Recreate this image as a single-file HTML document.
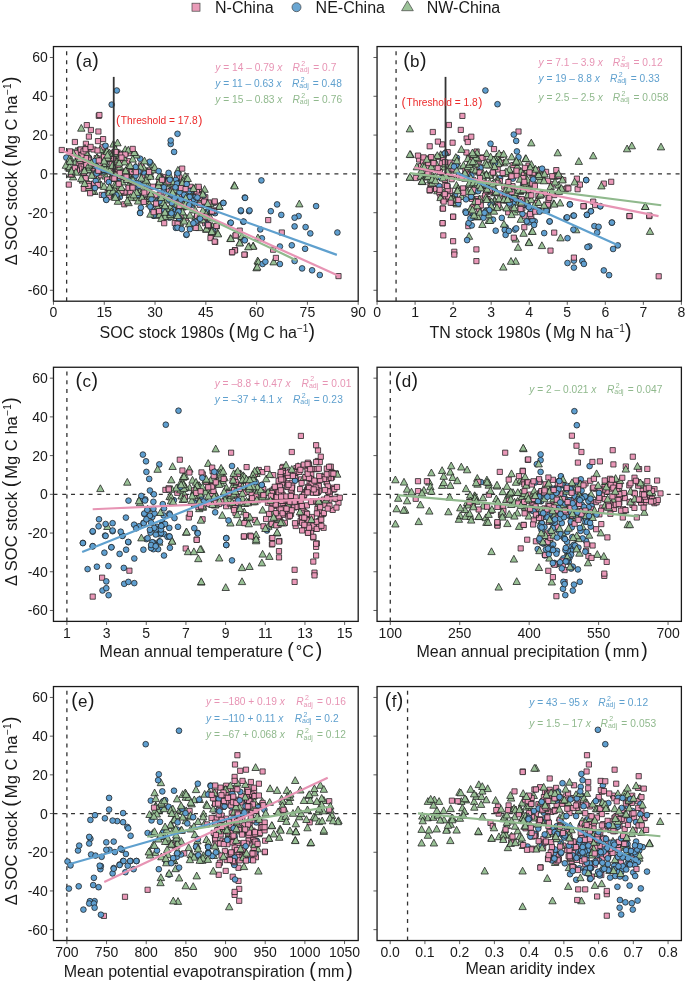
<!DOCTYPE html><html><head><meta charset="utf-8"><style>
html,body{margin:0;padding:0;background:#fff;width:685px;height:981px;overflow:hidden}
svg{display:block;will-change:transform}
text{font-family:"Liberation Sans", sans-serif;}
.tk{font-size:14px;fill:#1a1a1a}
.at{font-size:16px;fill:#1a1a1a}
.lg{font-size:16px;fill:#1a1a1a}
.pl{font-size:17px;fill:#1a1a1a}
.eq{font-size:10.2px}
.th{font-size:10.2px;fill:#EC2B2B}
.mp{fill:#EA98B8;stroke:#1e1e1e;stroke-width:0.75}
.mb{fill:#5F9FD0;stroke:#1e1e1e;stroke-width:0.75}
.mg{fill:#98C095;stroke:#1e1e1e;stroke-width:0.75}
</style></head><body><svg width="685" height="981" viewBox="0 0 685 981">
<rect x="53.46" y="46.57" width="304.73" height="254.63" fill="none" stroke="#1a1a1a" stroke-width="1.3"/>
<line x1="49.86" y1="290.29" x2="53.46" y2="290.29" stroke="#333" stroke-width="0.8"/>
<text x="47.9" y="295.29" text-anchor="end" class="tk">-60</text>
<line x1="49.86" y1="251.49" x2="53.46" y2="251.49" stroke="#333" stroke-width="0.8"/>
<text x="47.9" y="256.49" text-anchor="end" class="tk">-40</text>
<line x1="49.86" y1="212.69" x2="53.46" y2="212.69" stroke="#333" stroke-width="0.8"/>
<text x="47.9" y="217.69" text-anchor="end" class="tk">-20</text>
<line x1="49.86" y1="173.89" x2="53.46" y2="173.89" stroke="#333" stroke-width="0.8"/>
<text x="47.9" y="178.89" text-anchor="end" class="tk">0</text>
<line x1="49.86" y1="135.09" x2="53.46" y2="135.09" stroke="#333" stroke-width="0.8"/>
<text x="47.9" y="140.09" text-anchor="end" class="tk">20</text>
<line x1="49.86" y1="96.29" x2="53.46" y2="96.29" stroke="#333" stroke-width="0.8"/>
<text x="47.9" y="101.29" text-anchor="end" class="tk">40</text>
<line x1="49.86" y1="57.49" x2="53.46" y2="57.49" stroke="#333" stroke-width="0.8"/>
<text x="47.9" y="62.49" text-anchor="end" class="tk">60</text>
<line x1="53.46" y1="301.2" x2="53.46" y2="304.80" stroke="#333" stroke-width="0.8"/>
<text x="53.46" y="317.40" text-anchor="middle" class="tk">0</text>
<line x1="104.25" y1="301.2" x2="104.25" y2="304.80" stroke="#333" stroke-width="0.8"/>
<text x="104.25" y="317.40" text-anchor="middle" class="tk">15</text>
<line x1="155.04" y1="301.2" x2="155.04" y2="304.80" stroke="#333" stroke-width="0.8"/>
<text x="155.04" y="317.40" text-anchor="middle" class="tk">30</text>
<line x1="205.83" y1="301.2" x2="205.83" y2="304.80" stroke="#333" stroke-width="0.8"/>
<text x="205.83" y="317.40" text-anchor="middle" class="tk">45</text>
<line x1="256.61" y1="301.2" x2="256.61" y2="304.80" stroke="#333" stroke-width="0.8"/>
<text x="256.61" y="317.40" text-anchor="middle" class="tk">60</text>
<line x1="307.40" y1="301.2" x2="307.40" y2="304.80" stroke="#333" stroke-width="0.8"/>
<text x="307.40" y="317.40" text-anchor="middle" class="tk">75</text>
<line x1="358.19" y1="301.2" x2="358.19" y2="304.80" stroke="#333" stroke-width="0.8"/>
<text x="358.19" y="317.40" text-anchor="middle" class="tk">90</text>
<line x1="53.46" y1="173.89" x2="358.19" y2="173.89" stroke="#333" stroke-width="1.3" stroke-dasharray="4 4.78"/>
<rect x="377.05" y="46.57" width="304.34" height="254.63" fill="none" stroke="#1a1a1a" stroke-width="1.3"/>
<line x1="373.45" y1="290.29" x2="377.05" y2="290.29" stroke="#333" stroke-width="0.8"/>
<line x1="373.45" y1="251.49" x2="377.05" y2="251.49" stroke="#333" stroke-width="0.8"/>
<line x1="373.45" y1="212.69" x2="377.05" y2="212.69" stroke="#333" stroke-width="0.8"/>
<line x1="373.45" y1="173.89" x2="377.05" y2="173.89" stroke="#333" stroke-width="0.8"/>
<line x1="373.45" y1="135.09" x2="377.05" y2="135.09" stroke="#333" stroke-width="0.8"/>
<line x1="373.45" y1="96.29" x2="377.05" y2="96.29" stroke="#333" stroke-width="0.8"/>
<line x1="373.45" y1="57.49" x2="377.05" y2="57.49" stroke="#333" stroke-width="0.8"/>
<line x1="377.05" y1="301.2" x2="377.05" y2="304.80" stroke="#333" stroke-width="0.8"/>
<text x="377.05" y="317.40" text-anchor="middle" class="tk">0</text>
<line x1="415.09" y1="301.2" x2="415.09" y2="304.80" stroke="#333" stroke-width="0.8"/>
<text x="415.09" y="317.40" text-anchor="middle" class="tk">1</text>
<line x1="453.13" y1="301.2" x2="453.13" y2="304.80" stroke="#333" stroke-width="0.8"/>
<text x="453.13" y="317.40" text-anchor="middle" class="tk">2</text>
<line x1="491.18" y1="301.2" x2="491.18" y2="304.80" stroke="#333" stroke-width="0.8"/>
<text x="491.18" y="317.40" text-anchor="middle" class="tk">3</text>
<line x1="529.22" y1="301.2" x2="529.22" y2="304.80" stroke="#333" stroke-width="0.8"/>
<text x="529.22" y="317.40" text-anchor="middle" class="tk">4</text>
<line x1="567.26" y1="301.2" x2="567.26" y2="304.80" stroke="#333" stroke-width="0.8"/>
<text x="567.26" y="317.40" text-anchor="middle" class="tk">5</text>
<line x1="605.31" y1="301.2" x2="605.31" y2="304.80" stroke="#333" stroke-width="0.8"/>
<text x="605.31" y="317.40" text-anchor="middle" class="tk">6</text>
<line x1="643.35" y1="301.2" x2="643.35" y2="304.80" stroke="#333" stroke-width="0.8"/>
<text x="643.35" y="317.40" text-anchor="middle" class="tk">7</text>
<line x1="681.39" y1="301.2" x2="681.39" y2="304.80" stroke="#333" stroke-width="0.8"/>
<text x="681.39" y="317.40" text-anchor="middle" class="tk">8</text>
<line x1="377.05" y1="173.89" x2="681.39" y2="173.89" stroke="#333" stroke-width="1.3" stroke-dasharray="4 4.78"/>
<rect x="53.46" y="367.26" width="304.73" height="254.12" fill="none" stroke="#1a1a1a" stroke-width="1.3"/>
<line x1="49.86" y1="610.48" x2="53.46" y2="610.48" stroke="#333" stroke-width="0.8"/>
<text x="47.9" y="615.48" text-anchor="end" class="tk">-60</text>
<line x1="49.86" y1="571.76" x2="53.46" y2="571.76" stroke="#333" stroke-width="0.8"/>
<text x="47.9" y="576.76" text-anchor="end" class="tk">-40</text>
<line x1="49.86" y1="533.04" x2="53.46" y2="533.04" stroke="#333" stroke-width="0.8"/>
<text x="47.9" y="538.04" text-anchor="end" class="tk">-20</text>
<line x1="49.86" y1="494.32" x2="53.46" y2="494.32" stroke="#333" stroke-width="0.8"/>
<text x="47.9" y="499.32" text-anchor="end" class="tk">0</text>
<line x1="49.86" y1="455.60" x2="53.46" y2="455.60" stroke="#333" stroke-width="0.8"/>
<text x="47.9" y="460.60" text-anchor="end" class="tk">20</text>
<line x1="49.86" y1="416.88" x2="53.46" y2="416.88" stroke="#333" stroke-width="0.8"/>
<text x="47.9" y="421.88" text-anchor="end" class="tk">40</text>
<line x1="49.86" y1="378.16" x2="53.46" y2="378.16" stroke="#333" stroke-width="0.8"/>
<text x="47.9" y="383.16" text-anchor="end" class="tk">60</text>
<line x1="66.89" y1="621.38" x2="66.89" y2="624.98" stroke="#333" stroke-width="0.8"/>
<text x="66.89" y="637.58" text-anchor="middle" class="tk">1</text>
<line x1="106.57" y1="621.38" x2="106.57" y2="624.98" stroke="#333" stroke-width="0.8"/>
<text x="106.57" y="637.58" text-anchor="middle" class="tk">3</text>
<line x1="146.25" y1="621.38" x2="146.25" y2="624.98" stroke="#333" stroke-width="0.8"/>
<text x="146.25" y="637.58" text-anchor="middle" class="tk">5</text>
<line x1="185.93" y1="621.38" x2="185.93" y2="624.98" stroke="#333" stroke-width="0.8"/>
<text x="185.93" y="637.58" text-anchor="middle" class="tk">7</text>
<line x1="225.60" y1="621.38" x2="225.60" y2="624.98" stroke="#333" stroke-width="0.8"/>
<text x="225.60" y="637.58" text-anchor="middle" class="tk">9</text>
<line x1="265.28" y1="621.38" x2="265.28" y2="624.98" stroke="#333" stroke-width="0.8"/>
<text x="265.28" y="637.58" text-anchor="middle" class="tk">11</text>
<line x1="304.96" y1="621.38" x2="304.96" y2="624.98" stroke="#333" stroke-width="0.8"/>
<text x="304.96" y="637.58" text-anchor="middle" class="tk">13</text>
<line x1="344.64" y1="621.38" x2="344.64" y2="624.98" stroke="#333" stroke-width="0.8"/>
<text x="344.64" y="637.58" text-anchor="middle" class="tk">15</text>
<line x1="53.46" y1="494.32" x2="358.19" y2="494.32" stroke="#333" stroke-width="1.3" stroke-dasharray="4 4.78"/>
<rect x="377.05" y="367.26" width="304.34" height="254.12" fill="none" stroke="#1a1a1a" stroke-width="1.3"/>
<line x1="373.45" y1="610.48" x2="377.05" y2="610.48" stroke="#333" stroke-width="0.8"/>
<line x1="373.45" y1="571.76" x2="377.05" y2="571.76" stroke="#333" stroke-width="0.8"/>
<line x1="373.45" y1="533.04" x2="377.05" y2="533.04" stroke="#333" stroke-width="0.8"/>
<line x1="373.45" y1="494.32" x2="377.05" y2="494.32" stroke="#333" stroke-width="0.8"/>
<line x1="373.45" y1="455.60" x2="377.05" y2="455.60" stroke="#333" stroke-width="0.8"/>
<line x1="373.45" y1="416.88" x2="377.05" y2="416.88" stroke="#333" stroke-width="0.8"/>
<line x1="373.45" y1="378.16" x2="377.05" y2="378.16" stroke="#333" stroke-width="0.8"/>
<line x1="390.29" y1="621.38" x2="390.29" y2="624.98" stroke="#333" stroke-width="0.8"/>
<text x="390.29" y="637.58" text-anchor="middle" class="tk">100</text>
<line x1="459.73" y1="621.38" x2="459.73" y2="624.98" stroke="#333" stroke-width="0.8"/>
<text x="459.73" y="637.58" text-anchor="middle" class="tk">250</text>
<line x1="529.17" y1="621.38" x2="529.17" y2="624.98" stroke="#333" stroke-width="0.8"/>
<text x="529.17" y="637.58" text-anchor="middle" class="tk">400</text>
<line x1="598.62" y1="621.38" x2="598.62" y2="624.98" stroke="#333" stroke-width="0.8"/>
<text x="598.62" y="637.58" text-anchor="middle" class="tk">550</text>
<line x1="668.06" y1="621.38" x2="668.06" y2="624.98" stroke="#333" stroke-width="0.8"/>
<text x="668.06" y="637.58" text-anchor="middle" class="tk">700</text>
<line x1="377.05" y1="494.32" x2="681.39" y2="494.32" stroke="#333" stroke-width="1.3" stroke-dasharray="4 4.78"/>
<rect x="53.46" y="686.56" width="304.73" height="253.98" fill="none" stroke="#1a1a1a" stroke-width="1.3"/>
<line x1="49.86" y1="929.65" x2="53.46" y2="929.65" stroke="#333" stroke-width="0.8"/>
<text x="47.9" y="934.65" text-anchor="end" class="tk">-60</text>
<line x1="49.86" y1="890.95" x2="53.46" y2="890.95" stroke="#333" stroke-width="0.8"/>
<text x="47.9" y="895.95" text-anchor="end" class="tk">-40</text>
<line x1="49.86" y1="852.25" x2="53.46" y2="852.25" stroke="#333" stroke-width="0.8"/>
<text x="47.9" y="857.25" text-anchor="end" class="tk">-20</text>
<line x1="49.86" y1="813.55" x2="53.46" y2="813.55" stroke="#333" stroke-width="0.8"/>
<text x="47.9" y="818.55" text-anchor="end" class="tk">0</text>
<line x1="49.86" y1="774.85" x2="53.46" y2="774.85" stroke="#333" stroke-width="0.8"/>
<text x="47.9" y="779.85" text-anchor="end" class="tk">20</text>
<line x1="49.86" y1="736.15" x2="53.46" y2="736.15" stroke="#333" stroke-width="0.8"/>
<text x="47.9" y="741.15" text-anchor="end" class="tk">40</text>
<line x1="49.86" y1="697.45" x2="53.46" y2="697.45" stroke="#333" stroke-width="0.8"/>
<text x="47.9" y="702.45" text-anchor="end" class="tk">60</text>
<line x1="66.89" y1="940.54" x2="66.89" y2="944.14" stroke="#333" stroke-width="0.8"/>
<text x="66.89" y="956.74" text-anchor="middle" class="tk">700</text>
<line x1="106.55" y1="940.54" x2="106.55" y2="944.14" stroke="#333" stroke-width="0.8"/>
<text x="106.55" y="956.74" text-anchor="middle" class="tk">750</text>
<line x1="146.22" y1="940.54" x2="146.22" y2="944.14" stroke="#333" stroke-width="0.8"/>
<text x="146.22" y="956.74" text-anchor="middle" class="tk">800</text>
<line x1="185.88" y1="940.54" x2="185.88" y2="944.14" stroke="#333" stroke-width="0.8"/>
<text x="185.88" y="956.74" text-anchor="middle" class="tk">850</text>
<line x1="225.55" y1="940.54" x2="225.55" y2="944.14" stroke="#333" stroke-width="0.8"/>
<text x="225.55" y="956.74" text-anchor="middle" class="tk">900</text>
<line x1="265.21" y1="940.54" x2="265.21" y2="944.14" stroke="#333" stroke-width="0.8"/>
<text x="265.21" y="956.74" text-anchor="middle" class="tk">950</text>
<line x1="304.88" y1="940.54" x2="304.88" y2="944.14" stroke="#333" stroke-width="0.8"/>
<text x="304.88" y="956.74" text-anchor="middle" class="tk">1000</text>
<line x1="344.54" y1="940.54" x2="344.54" y2="944.14" stroke="#333" stroke-width="0.8"/>
<text x="344.54" y="956.74" text-anchor="middle" class="tk">1050</text>
<line x1="53.46" y1="813.55" x2="358.19" y2="813.55" stroke="#333" stroke-width="1.3" stroke-dasharray="4 4.78"/>
<rect x="377.05" y="686.56" width="304.34" height="253.98" fill="none" stroke="#1a1a1a" stroke-width="1.3"/>
<line x1="373.45" y1="929.65" x2="377.05" y2="929.65" stroke="#333" stroke-width="0.8"/>
<line x1="373.45" y1="890.95" x2="377.05" y2="890.95" stroke="#333" stroke-width="0.8"/>
<line x1="373.45" y1="852.25" x2="377.05" y2="852.25" stroke="#333" stroke-width="0.8"/>
<line x1="373.45" y1="813.55" x2="377.05" y2="813.55" stroke="#333" stroke-width="0.8"/>
<line x1="373.45" y1="774.85" x2="377.05" y2="774.85" stroke="#333" stroke-width="0.8"/>
<line x1="373.45" y1="736.15" x2="377.05" y2="736.15" stroke="#333" stroke-width="0.8"/>
<line x1="373.45" y1="697.45" x2="377.05" y2="697.45" stroke="#333" stroke-width="0.8"/>
<line x1="390.18" y1="940.54" x2="390.18" y2="944.14" stroke="#333" stroke-width="0.8"/>
<text x="390.18" y="956.74" text-anchor="middle" class="tk">0.0</text>
<line x1="424.92" y1="940.54" x2="424.92" y2="944.14" stroke="#333" stroke-width="0.8"/>
<text x="424.92" y="956.74" text-anchor="middle" class="tk">0.1</text>
<line x1="459.65" y1="940.54" x2="459.65" y2="944.14" stroke="#333" stroke-width="0.8"/>
<text x="459.65" y="956.74" text-anchor="middle" class="tk">0.2</text>
<line x1="494.38" y1="940.54" x2="494.38" y2="944.14" stroke="#333" stroke-width="0.8"/>
<text x="494.38" y="956.74" text-anchor="middle" class="tk">0.3</text>
<line x1="529.12" y1="940.54" x2="529.12" y2="944.14" stroke="#333" stroke-width="0.8"/>
<text x="529.12" y="956.74" text-anchor="middle" class="tk">0.4</text>
<line x1="563.86" y1="940.54" x2="563.86" y2="944.14" stroke="#333" stroke-width="0.8"/>
<text x="563.86" y="956.74" text-anchor="middle" class="tk">0.5</text>
<line x1="598.59" y1="940.54" x2="598.59" y2="944.14" stroke="#333" stroke-width="0.8"/>
<text x="598.59" y="956.74" text-anchor="middle" class="tk">0.6</text>
<line x1="633.32" y1="940.54" x2="633.32" y2="944.14" stroke="#333" stroke-width="0.8"/>
<text x="633.32" y="956.74" text-anchor="middle" class="tk">0.7</text>
<line x1="668.06" y1="940.54" x2="668.06" y2="944.14" stroke="#333" stroke-width="0.8"/>
<text x="668.06" y="956.74" text-anchor="middle" class="tk">0.8</text>
<line x1="377.05" y1="813.55" x2="681.39" y2="813.55" stroke="#333" stroke-width="1.3" stroke-dasharray="4 4.78"/>
<line x1="66.64" y1="301.2" x2="66.64" y2="46.57" stroke="#333" stroke-width="1.3" stroke-dasharray="4 4.78"/>
<line x1="396.07" y1="301.2" x2="396.07" y2="46.57" stroke="#333" stroke-width="1.3" stroke-dasharray="4 4.78"/>
<line x1="66.89" y1="621.38" x2="66.89" y2="367.26" stroke="#333" stroke-width="1.3" stroke-dasharray="4 4.78"/>
<line x1="390.29" y1="621.38" x2="390.29" y2="367.26" stroke="#333" stroke-width="1.3" stroke-dasharray="4 4.78"/>
<line x1="66.89" y1="940.54" x2="66.89" y2="686.56" stroke="#333" stroke-width="1.3" stroke-dasharray="4 4.78"/>
<line x1="407.55" y1="940.54" x2="407.55" y2="686.56" stroke="#333" stroke-width="1.3" stroke-dasharray="4 4.78"/>
<text x="75.60" y="66.57" class="pl"><tspan style="font-size:19.5px">(</tspan><tspan dx="0.4">a</tspan><tspan dx="0.4" style="font-size:19.5px">)</tspan></text>
<text x="403.20" y="66.57" class="pl"><tspan style="font-size:19.5px">(</tspan><tspan dx="0.4">b</tspan><tspan dx="0.4" style="font-size:19.5px">)</tspan></text>
<text x="75.60" y="387.26" class="pl"><tspan style="font-size:19.5px">(</tspan><tspan dx="0.4">c</tspan><tspan dx="0.4" style="font-size:19.5px">)</tspan></text>
<text x="394.80" y="387.26" class="pl"><tspan style="font-size:19.5px">(</tspan><tspan dx="0.4">d</tspan><tspan dx="0.4" style="font-size:19.5px">)</tspan></text>
<text x="71.20" y="706.56" class="pl"><tspan style="font-size:19.5px">(</tspan><tspan dx="0.4">e</tspan><tspan dx="0.4" style="font-size:19.5px">)</tspan></text>
<text x="384.80" y="706.56" class="pl"><tspan style="font-size:19.5px">(</tspan><tspan dx="0.4">f</tspan><tspan dx="0.4" style="font-size:19.5px">)</tspan></text>
<text x="99.60" y="337.70" class="at">SOC stock 1980s <tspan font-size="19.5">(</tspan><tspan dx="1.5">Mg C ha</tspan><tspan dy="-5.8" font-size="10">−1</tspan><tspan dy="5.8"><tspan font-size="19.5">)</tspan></tspan></text>
<text x="429.40" y="337.80" class="at">TN stock 1980s <tspan font-size="19.5">(</tspan><tspan dx="1.5">Mg N ha</tspan><tspan dy="-5.8" font-size="10">−1</tspan><tspan dy="5.8"><tspan font-size="19.5">)</tspan></tspan></text>
<text x="99.60" y="657.00" class="at">Mean annual temperature <tspan font-size="19.5">(</tspan><tspan dx="2">°C</tspan><tspan dx="2" font-size="19.5">)</tspan></text>
<text x="416.50" y="657.10" class="at">Mean annual precipitation <tspan font-size="19.5">(</tspan><tspan dx="2">mm</tspan><tspan dx="2" font-size="19.5">)</tspan></text>
<text x="63.70" y="976.50" class="at">Mean potential evapotranspiration <tspan font-size="19.5">(</tspan><tspan dx="2">mm</tspan><tspan dx="2" font-size="19.5">)</tspan></text>
<text x="465.40" y="973.60" class="at">Mean aridity index</text>
<text transform="translate(16.9,265.37) rotate(-90)" x="0" y="0" class="at" style="font-size:16.6px">Δ SOC stock <tspan font-size="19.5">(</tspan><tspan dx="2">Mg C ha</tspan><tspan dx="0.5" dy="-5.8" font-size="10">−1</tspan><tspan dy="5.8" dx="0.5" font-size="19.5">)</tspan></text>
<text transform="translate(16.9,586.06) rotate(-90)" x="0" y="0" class="at" style="font-size:16.6px">Δ SOC stock <tspan font-size="19.5">(</tspan><tspan dx="2">Mg C ha</tspan><tspan dx="0.5" dy="-5.8" font-size="10">−1</tspan><tspan dy="5.8" dx="0.5" font-size="19.5">)</tspan></text>
<text transform="translate(16.9,905.36) rotate(-90)" x="0" y="0" class="at" style="font-size:16.6px">Δ SOC stock <tspan font-size="19.5">(</tspan><tspan dx="2">Mg C ha</tspan><tspan dx="0.5" dy="-5.8" font-size="10">−1</tspan><tspan dy="5.8" dx="0.5" font-size="19.5">)</tspan></text>
<rect x="192" y="3.2" width="8" height="8" fill="#E99BB8" stroke="#444" stroke-width="0.7"/>
<text x="215" y="13.4" class="lg">N-China</text>
<circle cx="296.5" cy="7.2" r="4.5" fill="#6AA6D2" stroke="#444" stroke-width="0.7"/>
<text x="315.6" y="13.4" class="lg">NE-China</text>
<polygon points="401.6,10.7 413.3,10.7 407.45,0.8" fill="#9CC399" stroke="#444" stroke-width="0.7"/>
<text x="426.7" y="13.4" class="lg">NW-China</text>
<text x="215.30" y="70.80" class="eq" fill="#E794B4"><tspan font-style="italic">y</tspan> = 14 – 0.79 <tspan font-style="italic">x</tspan></text><text x="292.40" y="70.80" class="eq" fill="#E794B4"><tspan font-style="italic">R</tspan><tspan font-size="7" dx="1.4" dy="-5.3">2</tspan><tspan font-size="7" dx="-5.3" dy="6.4">adj</tspan><tspan dy="-1.1" dx="1.2"> = </tspan><tspan letter-spacing="0.15">0.7</tspan></text>
<text x="215.30" y="86.80" class="eq" fill="#5FA0CE"><tspan font-style="italic">y</tspan> = 11 – 0.63 <tspan font-style="italic">x</tspan></text><text x="292.00" y="86.80" class="eq" fill="#5FA0CE"><tspan font-style="italic">R</tspan><tspan font-size="7" dx="1.4" dy="-5.3">2</tspan><tspan font-size="7" dx="-5.3" dy="6.4">adj</tspan><tspan dy="-1.1" dx="1.2"> = </tspan><tspan letter-spacing="0.15">0.48</tspan></text>
<text x="215.30" y="103.10" class="eq" fill="#90B98D"><tspan font-style="italic">y</tspan> = 15 – 0.83 <tspan font-style="italic">x</tspan></text><text x="292.40" y="103.10" class="eq" fill="#90B98D"><tspan font-style="italic">R</tspan><tspan font-size="7" dx="1.4" dy="-5.3">2</tspan><tspan font-size="7" dx="-5.3" dy="6.4">adj</tspan><tspan dy="-1.1" dx="1.2"> = </tspan><tspan letter-spacing="0.15">0.76</tspan></text>
<text x="538.50" y="65.80" class="eq" fill="#E794B4"><tspan font-style="italic">y</tspan> = 7.1 – 3.9 <tspan font-style="italic">x</tspan></text><text x="612.80" y="65.80" class="eq" fill="#E794B4"><tspan font-style="italic">R</tspan><tspan font-size="7" dx="1.4" dy="-5.3">2</tspan><tspan font-size="7" dx="-5.3" dy="6.4">adj</tspan><tspan dy="-1.1" dx="1.2"> = </tspan><tspan letter-spacing="0.15">0.12</tspan></text>
<text x="538.50" y="82.10" class="eq" fill="#5FA0CE"><tspan font-style="italic">y</tspan> = 19 – 8.8 <tspan font-style="italic">x</tspan></text><text x="609.90" y="82.10" class="eq" fill="#5FA0CE"><tspan font-style="italic">R</tspan><tspan font-size="7" dx="1.4" dy="-5.3">2</tspan><tspan font-size="7" dx="-5.3" dy="6.4">adj</tspan><tspan dy="-1.1" dx="1.2"> = </tspan><tspan letter-spacing="0.15">0.33</tspan></text>
<text x="538.50" y="100.80" class="eq" fill="#90B98D"><tspan font-style="italic">y</tspan> = 2.5 – 2.5 <tspan font-style="italic">x</tspan></text><text x="612.80" y="100.80" class="eq" fill="#90B98D"><tspan font-style="italic">R</tspan><tspan font-size="7" dx="1.4" dy="-5.3">2</tspan><tspan font-size="7" dx="-5.3" dy="6.4">adj</tspan><tspan dy="-1.1" dx="1.2"> = </tspan><tspan letter-spacing="0.15">0.058</tspan></text>
<text x="214.70" y="386.60" class="eq" fill="#E794B4"><tspan font-style="italic">y</tspan> = –8.8 + 0.47 <tspan font-style="italic">x</tspan></text><text x="301.60" y="386.60" class="eq" fill="#E794B4"><tspan font-style="italic">R</tspan><tspan font-size="7" dx="1.4" dy="-5.3">2</tspan><tspan font-size="7" dx="-5.3" dy="6.4">adj</tspan><tspan dy="-1.1" dx="1.2"> = </tspan><tspan letter-spacing="0.15">0.01</tspan></text>
<text x="214.70" y="403.00" class="eq" fill="#5FA0CE"><tspan font-style="italic">y</tspan> = –37 + 4.1 <tspan font-style="italic">x</tspan></text><text x="293.00" y="403.00" class="eq" fill="#5FA0CE"><tspan font-style="italic">R</tspan><tspan font-size="7" dx="1.4" dy="-5.3">2</tspan><tspan font-size="7" dx="-5.3" dy="6.4">adj</tspan><tspan dy="-1.1" dx="1.2"> = </tspan><tspan letter-spacing="0.15">0.23</tspan></text>
<text x="529.30" y="393.00" class="eq" fill="#90B98D"><tspan font-style="italic">y</tspan> = 2 – 0.021 <tspan font-style="italic">x</tspan></text><text x="606.90" y="393.00" class="eq" fill="#90B98D"><tspan font-style="italic">R</tspan><tspan font-size="7" dx="1.4" dy="-5.3">2</tspan><tspan font-size="7" dx="-5.3" dy="6.4">adj</tspan><tspan dy="-1.1" dx="1.2"> = </tspan><tspan letter-spacing="0.15">0.047</tspan></text>
<text x="206.10" y="705.40" class="eq" fill="#E794B4"><tspan font-style="italic">y</tspan> = –180 + 0.19 <tspan font-style="italic">x</tspan></text><text x="296.20" y="705.40" class="eq" fill="#E794B4"><tspan font-style="italic">R</tspan><tspan font-size="7" dx="1.4" dy="-5.3">2</tspan><tspan font-size="7" dx="-5.3" dy="6.4">adj</tspan><tspan dy="-1.1" dx="1.2"> = </tspan><tspan letter-spacing="0.15">0.16</tspan></text>
<text x="206.10" y="722.30" class="eq" fill="#5FA0CE"><tspan font-style="italic">y</tspan> = –110 + 0.11 <tspan font-style="italic">x</tspan></text><text x="294.70" y="722.30" class="eq" fill="#5FA0CE"><tspan font-style="italic">R</tspan><tspan font-size="7" dx="1.4" dy="-5.3">2</tspan><tspan font-size="7" dx="-5.3" dy="6.4">adj</tspan><tspan dy="-1.1" dx="1.2"> = </tspan><tspan letter-spacing="0.15">0.2</tspan></text>
<text x="206.10" y="738.40" class="eq" fill="#90B98D"><tspan font-style="italic">y</tspan> = –67 + 0.068 <tspan font-style="italic">x</tspan></text><text x="296.20" y="738.40" class="eq" fill="#90B98D"><tspan font-style="italic">R</tspan><tspan font-size="7" dx="1.4" dy="-5.3">2</tspan><tspan font-size="7" dx="-5.3" dy="6.4">adj</tspan><tspan dy="-1.1" dx="1.2"> = </tspan><tspan letter-spacing="0.15">0.12</tspan></text>
<text x="529.30" y="705.90" class="eq" fill="#5FA0CE"><tspan font-style="italic">y</tspan> = 43 – 95 <tspan font-style="italic">x</tspan></text><text x="598.30" y="705.90" class="eq" fill="#5FA0CE"><tspan font-style="italic">R</tspan><tspan font-size="7" dx="1.4" dy="-5.3">2</tspan><tspan font-size="7" dx="-5.3" dy="6.4">adj</tspan><tspan dy="-1.1" dx="1.2"> = </tspan><tspan letter-spacing="0.15">0.12</tspan></text>
<text x="529.30" y="726.70" class="eq" fill="#90B98D"><tspan font-style="italic">y</tspan> = 1.5 – 17 <tspan font-style="italic">x</tspan></text><text x="600.60" y="726.70" class="eq" fill="#90B98D"><tspan font-style="italic">R</tspan><tspan font-size="7" dx="1.4" dy="-5.3">2</tspan><tspan font-size="7" dx="-5.3" dy="6.4">adj</tspan><tspan dy="-1.1" dx="1.2"> = </tspan><tspan letter-spacing="0.15">0.053</tspan></text>
<path class="mp" d="M582.9 480.9h5.2v5.2h-5.2zM469.5 196.3h5.2v5.2h-5.2zM466.3 153.4h5.2v5.2h-5.2zM248.8 811.1h5.2v5.2h-5.2zM551.7 510.1h5.2v5.2h-5.2zM279.2 229.9h5.2v5.2h-5.2zM501.8 191.7h5.2v5.2h-5.2zM553.5 785.3h5.2v5.2h-5.2z"/>
<circle class="mb" cx="94.6" cy="901.2" r="2.85"/>
<circle class="mb" cx="234.7" cy="836.7" r="2.85"/>
<circle class="mb" cx="145.3" cy="499.4" r="2.85"/>
<circle class="mb" cx="500.1" cy="178.1" r="2.85"/>
<circle class="mb" cx="279.9" cy="264" r="2.85"/>
<circle class="mb" cx="568.8" cy="561.9" r="2.85"/>
<circle class="mb" cx="125.4" cy="872.2" r="2.85"/>
<path class="mg" d="M202.8 807.4h7.4l-3.7 -6.8zM182 823.7h7.4l-3.7 -6.8zM199.1 197.6h7.4l-3.7 -6.8zM157.7 859.8h7.4l-3.7 -6.8zM504.4 185h7.4l-3.7 -6.8zM238.9 501.5h7.4l-3.7 -6.8zM172.4 848.4h7.4l-3.7 -6.8zM540.8 823.1h7.4l-3.7 -6.8zM465.3 239.3h7.4l-3.7 -6.8z"/>
<path class="mp" d="M548.8 809.3h5.2v5.2h-5.2zM271.8 511.2h5.2v5.2h-5.2zM635.4 785.3h5.2v5.2h-5.2zM568.9 849.8h5.2v5.2h-5.2zM208.4 234.6h5.2v5.2h-5.2zM593.4 486.1h5.2v5.2h-5.2zM239.7 849h5.2v5.2h-5.2z"/>
<circle class="mb" cx="195.4" cy="502.6" r="2.85"/>
<circle class="mb" cx="569.7" cy="557.3" r="2.85"/>
<circle class="mb" cx="592.2" cy="845.1" r="2.85"/>
<circle class="mb" cx="615.8" cy="864.6" r="2.85"/>
<circle class="mb" cx="270.8" cy="211.2" r="2.85"/>
<circle class="mb" cx="166.2" cy="861.9" r="2.85"/>
<circle class="mb" cx="234.6" cy="864.6" r="2.85"/>
<circle class="mb" cx="443" cy="177.6" r="2.85"/>
<path class="mg" d="M418.8 184.6h7.4l-3.7 -6.8zM178.7 209.9h7.4l-3.7 -6.8zM541.2 489.1h7.4l-3.7 -6.8zM424.2 838.3h7.4l-3.7 -6.8zM185 850.6h7.4l-3.7 -6.8zM195.6 511.7h7.4l-3.7 -6.8zM220.5 502.4h7.4l-3.7 -6.8zM193.5 848.8h7.4l-3.7 -6.8zM550.1 835.4h7.4l-3.7 -6.8z"/>
<path class="mp" d="M328.1 486.4h5.2v5.2h-5.2zM300.4 504h5.2v5.2h-5.2zM427.8 155.6h5.2v5.2h-5.2zM562 579.6h5.2v5.2h-5.2zM590.6 199h5.2v5.2h-5.2zM584.5 852.2h5.2v5.2h-5.2zM465.7 223.5h5.2v5.2h-5.2zM562.2 502.8h5.2v5.2h-5.2zM515.6 196.4h5.2v5.2h-5.2zM91.3 181.2h5.2v5.2h-5.2zM278.1 478.9h5.2v5.2h-5.2zM559.6 801.2h5.2v5.2h-5.2z"/>
<circle class="mb" cx="84.6" cy="156.5" r="2.85"/>
<circle class="mb" cx="558.1" cy="530.6" r="2.85"/>
<circle class="mb" cx="611.9" cy="222.6" r="2.85"/>
<circle class="mb" cx="556.6" cy="564.3" r="2.85"/>
<circle class="mb" cx="576.3" cy="513.9" r="2.85"/>
<circle class="mb" cx="579" cy="498.3" r="2.85"/>
<path class="mg" d="M506.7 211.9h7.4l-3.7 -6.8zM489.7 189.9h7.4l-3.7 -6.8zM455.2 522.3h7.4l-3.7 -6.8zM456.5 518.7h7.4l-3.7 -6.8zM122.9 173.6h7.4l-3.7 -6.8zM243.1 519.5h7.4l-3.7 -6.8z"/>
<path class="mp" d="M500.2 197.9h5.2v5.2h-5.2zM176.6 181.9h5.2v5.2h-5.2zM598.2 495h5.2v5.2h-5.2zM278 808.7h5.2v5.2h-5.2zM306.5 461.8h5.2v5.2h-5.2zM555.5 510.4h5.2v5.2h-5.2zM484 211.1h5.2v5.2h-5.2zM579.7 844h5.2v5.2h-5.2zM647.3 493.9h5.2v5.2h-5.2zM234.7 797.1h5.2v5.2h-5.2z"/>
<circle class="mb" cx="92.7" cy="531.7" r="2.85"/>
<circle class="mb" cx="627.4" cy="863.6" r="2.85"/>
<circle class="mb" cx="615.2" cy="876" r="2.85"/>
<circle class="mb" cx="218.3" cy="472.4" r="2.85"/>
<circle class="mb" cx="599.6" cy="856.4" r="2.85"/>
<circle class="mb" cx="207.1" cy="211.9" r="2.85"/>
<circle class="mb" cx="539.1" cy="821.3" r="2.85"/>
<path class="mg" d="M145.8 817.5h7.4l-3.7 -6.8zM523 190.4h7.4l-3.7 -6.8zM545.7 561.1h7.4l-3.7 -6.8zM535.9 497.3h7.4l-3.7 -6.8zM71.9 164.8h7.4l-3.7 -6.8zM496.3 164.1h7.4l-3.7 -6.8zM316.6 788.3h7.4l-3.7 -6.8z"/>
<path class="mp" d="M216.4 501.4h5.2v5.2h-5.2zM272.9 503.4h5.2v5.2h-5.2zM574.1 480.2h5.2v5.2h-5.2zM121.7 201.7h5.2v5.2h-5.2zM207.9 235.5h5.2v5.2h-5.2zM242.2 252.1h5.2v5.2h-5.2zM177.2 457.1h5.2v5.2h-5.2zM592.4 835h5.2v5.2h-5.2zM591.5 860.3h5.2v5.2h-5.2zM297.5 486.5h5.2v5.2h-5.2zM280.2 501.8h5.2v5.2h-5.2zM560.2 562h5.2v5.2h-5.2z"/>
<circle class="mb" cx="619" cy="846.9" r="2.85"/>
<circle class="mb" cx="163.7" cy="188.9" r="2.85"/>
<circle class="mb" cx="543.9" cy="516.9" r="2.85"/>
<circle class="mb" cx="552.5" cy="848.2" r="2.85"/>
<circle class="mb" cx="165.2" cy="800.2" r="2.85"/>
<path class="mg" d="M157.2 880.6h7.4l-3.7 -6.8zM180.5 193h7.4l-3.7 -6.8zM447.9 821.1h7.4l-3.7 -6.8zM525.3 245.1h7.4l-3.7 -6.8zM180.1 496.1h7.4l-3.7 -6.8zM623.9 820.1h7.4l-3.7 -6.8zM513.6 516h7.4l-3.7 -6.8z"/>
<path class="mp" d="M473.8 258.5h5.2v5.2h-5.2zM193 188.5h5.2v5.2h-5.2zM509.4 193.4h5.2v5.2h-5.2zM615.8 491.8h5.2v5.2h-5.2zM597.3 458.8h5.2v5.2h-5.2zM532.8 832.8h5.2v5.2h-5.2zM160.5 215.9h5.2v5.2h-5.2z"/>
<circle class="mb" cx="572.9" cy="841.3" r="2.85"/>
<circle class="mb" cx="537.7" cy="549.1" r="2.85"/>
<circle class="mb" cx="580.5" cy="530.9" r="2.85"/>
<circle class="mb" cx="214.4" cy="202.7" r="2.85"/>
<circle class="mb" cx="561.8" cy="799" r="2.85"/>
<circle class="mb" cx="123.1" cy="861" r="2.85"/>
<circle class="mb" cx="582.8" cy="796.2" r="2.85"/>
<circle class="mb" cx="100.4" cy="869.2" r="2.85"/>
<path class="mg" d="M207.4 214.8h7.4l-3.7 -6.8zM406.9 157.6h7.4l-3.7 -6.8zM234.7 506.2h7.4l-3.7 -6.8zM180.9 489.5h7.4l-3.7 -6.8zM581.7 842.4h7.4l-3.7 -6.8zM179.7 201.8h7.4l-3.7 -6.8zM114.5 168.6h7.4l-3.7 -6.8zM181.4 479.3h7.4l-3.7 -6.8zM586.9 516.3h7.4l-3.7 -6.8z"/>
<path class="mp" d="M95.1 174.5h5.2v5.2h-5.2zM259.1 820.8h5.2v5.2h-5.2zM310.4 490.2h5.2v5.2h-5.2zM293.6 498.3h5.2v5.2h-5.2zM488.6 508.3h5.2v5.2h-5.2zM141.2 175.8h5.2v5.2h-5.2zM610.8 461.8h5.2v5.2h-5.2z"/>
<circle class="mb" cx="187.5" cy="188" r="2.85"/>
<circle class="mb" cx="586.2" cy="180" r="2.85"/>
<circle class="mb" cx="187.3" cy="823.4" r="2.85"/>
<circle class="mb" cx="125.9" cy="854" r="2.85"/>
<circle class="mb" cx="544.8" cy="555.4" r="2.85"/>
<circle class="mb" cx="159.3" cy="541.5" r="2.85"/>
<circle class="mb" cx="560.9" cy="825.4" r="2.85"/>
<path class="mg" d="M463.7 172.6h7.4l-3.7 -6.8zM190.6 802.8h7.4l-3.7 -6.8zM619.1 513.6h7.4l-3.7 -6.8zM169.8 823.1h7.4l-3.7 -6.8zM69.4 179.9h7.4l-3.7 -6.8zM521.8 161.6h7.4l-3.7 -6.8zM222.7 490.8h7.4l-3.7 -6.8zM468.2 172.1h7.4l-3.7 -6.8zM490.7 195.9h7.4l-3.7 -6.8zM275.5 840.3h7.4l-3.7 -6.8z"/>
<path class="mp" d="M584.7 513.4h5.2v5.2h-5.2zM489.7 156.6h5.2v5.2h-5.2zM557 478.8h5.2v5.2h-5.2zM600.1 801.2h5.2v5.2h-5.2zM547.1 541.6h5.2v5.2h-5.2zM330.1 507.3h5.2v5.2h-5.2zM221.5 800.2h5.2v5.2h-5.2zM279.9 492h5.2v5.2h-5.2zM275.4 514.3h5.2v5.2h-5.2zM604.1 488.9h5.2v5.2h-5.2zM200 516.7h5.2v5.2h-5.2z"/>
<circle class="mb" cx="150.5" cy="532.6" r="2.85"/>
<circle class="mb" cx="563.4" cy="558.4" r="2.85"/>
<circle class="mb" cx="145.7" cy="744.2" r="2.85"/>
<circle class="mb" cx="171" cy="189.8" r="2.85"/>
<circle class="mb" cx="585.1" cy="870.4" r="2.85"/>
<circle class="mb" cx="143.6" cy="522.8" r="2.85"/>
<path class="mg" d="M273.4 536h7.4l-3.7 -6.8zM429.5 820.3h7.4l-3.7 -6.8zM423.9 820.8h7.4l-3.7 -6.8zM90.7 166.1h7.4l-3.7 -6.8zM157.6 181.2h7.4l-3.7 -6.8zM499.5 821.7h7.4l-3.7 -6.8zM149.7 847.9h7.4l-3.7 -6.8z"/>
<path class="mp" d="M644.8 492.5h5.2v5.2h-5.2zM558.5 478.9h5.2v5.2h-5.2zM287.6 469h5.2v5.2h-5.2zM244.3 798.6h5.2v5.2h-5.2zM542.5 552.3h5.2v5.2h-5.2zM593.2 499.5h5.2v5.2h-5.2zM588.7 499.5h5.2v5.2h-5.2zM545.3 797.7h5.2v5.2h-5.2zM599.5 789h5.2v5.2h-5.2zM324 479.7h5.2v5.2h-5.2zM549.1 181.6h5.2v5.2h-5.2zM603.8 839h5.2v5.2h-5.2z"/>
<circle class="mb" cx="565" cy="511.6" r="2.85"/>
<circle class="mb" cx="153.9" cy="494.3" r="2.85"/>
<circle class="mb" cx="505.6" cy="227.2" r="2.85"/>
<circle class="mb" cx="128.5" cy="500.6" r="2.85"/>
<path class="mg" d="M164.8 844.6h7.4l-3.7 -6.8zM193.8 843.9h7.4l-3.7 -6.8zM237.9 239.6h7.4l-3.7 -6.8zM159.2 808h7.4l-3.7 -6.8zM609.2 844.2h7.4l-3.7 -6.8zM144.4 186.5h7.4l-3.7 -6.8zM103.2 172.3h7.4l-3.7 -6.8zM502.5 837.9h7.4l-3.7 -6.8z"/>
<path class="mp" d="M160.4 174.4h5.2v5.2h-5.2zM634.2 514.9h5.2v5.2h-5.2zM222.3 848.6h5.2v5.2h-5.2zM308.8 476.9h5.2v5.2h-5.2zM308.6 518.9h5.2v5.2h-5.2zM115 149.9h5.2v5.2h-5.2zM286 501.5h5.2v5.2h-5.2zM329.4 474.6h5.2v5.2h-5.2zM241.3 534.2h5.2v5.2h-5.2zM601.7 573.3h5.2v5.2h-5.2z"/>
<circle class="mb" cx="571.6" cy="546.7" r="2.85"/>
<circle class="mb" cx="549.7" cy="549.5" r="2.85"/>
<circle class="mb" cx="543.4" cy="543.5" r="2.85"/>
<circle class="mb" cx="177.1" cy="829.6" r="2.85"/>
<circle class="mb" cx="546.1" cy="510.7" r="2.85"/>
<circle class="mb" cx="144.4" cy="514.1" r="2.85"/>
<path class="mg" d="M586.1 513h7.4l-3.7 -6.8zM189.5 889.5h7.4l-3.7 -6.8zM273.4 793.4h7.4l-3.7 -6.8zM474.9 834.8h7.4l-3.7 -6.8zM406.2 180.3h7.4l-3.7 -6.8zM211.2 495.7h7.4l-3.7 -6.8zM143 176.6h7.4l-3.7 -6.8zM203.7 505.5h7.4l-3.7 -6.8z"/>
<path class="mp" d="M515.9 128.9h5.2v5.2h-5.2zM620 838.6h5.2v5.2h-5.2zM464 135.9h5.2v5.2h-5.2zM568 849.6h5.2v5.2h-5.2zM464.4 171.6h5.2v5.2h-5.2zM564.6 847.5h5.2v5.2h-5.2z"/>
<circle class="mb" cx="167.9" cy="180.2" r="2.85"/>
<circle class="mb" cx="67.5" cy="861.5" r="2.85"/>
<circle class="mb" cx="89.9" cy="901.2" r="2.85"/>
<circle class="mb" cx="163.6" cy="515.4" r="2.85"/>
<path class="mg" d="M328.3 818.4h7.4l-3.7 -6.8zM179.8 207.5h7.4l-3.7 -6.8zM639.1 487.9h7.4l-3.7 -6.8zM98 160.8h7.4l-3.7 -6.8zM431.6 179.5h7.4l-3.7 -6.8zM420.2 493.3h7.4l-3.7 -6.8zM488.4 164.5h7.4l-3.7 -6.8zM110 154.2h7.4l-3.7 -6.8zM181.5 198.3h7.4l-3.7 -6.8zM551.2 517.3h7.4l-3.7 -6.8zM425.6 485.1h7.4l-3.7 -6.8zM551 566.6h7.4l-3.7 -6.8zM232.7 508.8h7.4l-3.7 -6.8zM646.3 234.4h7.4l-3.7 -6.8z"/>
<path class="mp" d="M235.2 827.7h5.2v5.2h-5.2zM603.5 851.6h5.2v5.2h-5.2zM538 864.7h5.2v5.2h-5.2zM590.2 485.6h5.2v5.2h-5.2zM559.8 558.1h5.2v5.2h-5.2zM105 190.2h5.2v5.2h-5.2zM592.5 202.5h5.2v5.2h-5.2zM145.4 167.9h5.2v5.2h-5.2zM554 802.1h5.2v5.2h-5.2zM219.1 813h5.2v5.2h-5.2z"/>
<circle class="mb" cx="558.2" cy="791.5" r="2.85"/>
<circle class="mb" cx="196.7" cy="847.5" r="2.85"/>
<circle class="mb" cx="174.8" cy="214.6" r="2.85"/>
<circle class="mb" cx="626" cy="842.9" r="2.85"/>
<circle class="mb" cx="222.7" cy="799.7" r="2.85"/>
<circle class="mb" cx="586.1" cy="541.2" r="2.85"/>
<circle class="mb" cx="119.6" cy="864.5" r="2.85"/>
<path class="mg" d="M320.1 792.3h7.4l-3.7 -6.8zM527.4 202.6h7.4l-3.7 -6.8zM548.1 585h7.4l-3.7 -6.8zM179 797.4h7.4l-3.7 -6.8zM597.1 535.9h7.4l-3.7 -6.8zM197.5 585.1h7.4l-3.7 -6.8zM463.4 472.8h7.4l-3.7 -6.8z"/>
<path class="mp" d="M307.1 819.7h5.2v5.2h-5.2zM283.4 508.4h5.2v5.2h-5.2zM297 502.5h5.2v5.2h-5.2zM602.2 803.5h5.2v5.2h-5.2zM303.8 510.7h5.2v5.2h-5.2z"/>
<circle class="mb" cx="536.8" cy="464.2" r="2.85"/>
<circle class="mb" cx="569.9" cy="204.3" r="2.85"/>
<circle class="mb" cx="90.4" cy="838.8" r="2.85"/>
<circle class="mb" cx="635.6" cy="845.1" r="2.85"/>
<circle class="mb" cx="548.9" cy="554" r="2.85"/>
<circle class="mb" cx="196" cy="846.6" r="2.85"/>
<circle class="mb" cx="575" cy="485.2" r="2.85"/>
<circle class="mb" cx="591.6" cy="506" r="2.85"/>
<path class="mg" d="M250.3 480.9h7.4l-3.7 -6.8zM522.6 810h7.4l-3.7 -6.8zM512.3 485.3h7.4l-3.7 -6.8zM489.4 165.1h7.4l-3.7 -6.8zM479.3 509h7.4l-3.7 -6.8zM292.1 834.8h7.4l-3.7 -6.8zM485.1 223.4h7.4l-3.7 -6.8zM262.5 481.8h7.4l-3.7 -6.8zM154.1 186.7h7.4l-3.7 -6.8zM151.6 855.7h7.4l-3.7 -6.8zM470.9 498.6h7.4l-3.7 -6.8z"/>
<path class="mp" d="M618.3 860.1h5.2v5.2h-5.2zM258.4 803.6h5.2v5.2h-5.2zM604.8 534.8h5.2v5.2h-5.2zM427.8 183.6h5.2v5.2h-5.2zM465.7 209.5h5.2v5.2h-5.2zM492.3 190h5.2v5.2h-5.2zM547.6 793.9h5.2v5.2h-5.2zM641.8 499.9h5.2v5.2h-5.2zM121.6 190.3h5.2v5.2h-5.2zM532.5 499h5.2v5.2h-5.2z"/>
<circle class="mb" cx="556.5" cy="487.8" r="2.85"/>
<circle class="mb" cx="527.6" cy="221.3" r="2.85"/>
<circle class="mb" cx="90.4" cy="819.9" r="2.85"/>
<path class="mg" d="M152.4 206.6h7.4l-3.7 -6.8zM137.2 197.5h7.4l-3.7 -6.8zM188.8 483.2h7.4l-3.7 -6.8zM545.2 490.9h7.4l-3.7 -6.8zM264.7 529.3h7.4l-3.7 -6.8zM163 213.9h7.4l-3.7 -6.8zM583.3 796.4h7.4l-3.7 -6.8zM532.2 771.2h7.4l-3.7 -6.8zM265.2 841.4h7.4l-3.7 -6.8zM508.6 178.1h7.4l-3.7 -6.8zM238.3 570.6h7.4l-3.7 -6.8z"/>
<path class="mp" d="M601.2 181h5.2v5.2h-5.2zM285.4 480.7h5.2v5.2h-5.2zM212.3 791.3h5.2v5.2h-5.2zM440 205.9h5.2v5.2h-5.2zM541.5 839.8h5.2v5.2h-5.2zM260.9 523.7h5.2v5.2h-5.2zM611.8 815.4h5.2v5.2h-5.2zM277.2 514.5h5.2v5.2h-5.2zM543.4 510.6h5.2v5.2h-5.2z"/>
<circle class="mb" cx="598.8" cy="874.7" r="2.85"/>
<circle class="mb" cx="176.4" cy="838.9" r="2.85"/>
<circle class="mb" cx="614.2" cy="865.8" r="2.85"/>
<circle class="mb" cx="173.9" cy="500.2" r="2.85"/>
<path class="mg" d="M585.4 538.2h7.4l-3.7 -6.8zM554.8 831.4h7.4l-3.7 -6.8zM270 837h7.4l-3.7 -6.8zM519.8 451.7h7.4l-3.7 -6.8zM111.3 169.2h7.4l-3.7 -6.8zM209.5 503.8h7.4l-3.7 -6.8zM126.4 179.8h7.4l-3.7 -6.8zM134.3 197.2h7.4l-3.7 -6.8zM91 171.2h7.4l-3.7 -6.8zM487.8 841.2h7.4l-3.7 -6.8zM72.3 154.1h7.4l-3.7 -6.8z"/>
<path class="mp" d="M223.6 783.1h5.2v5.2h-5.2zM560.7 177.4h5.2v5.2h-5.2zM302.7 463.8h5.2v5.2h-5.2zM237.1 228h5.2v5.2h-5.2zM550.9 500h5.2v5.2h-5.2zM220.9 791.8h5.2v5.2h-5.2zM298.2 511.6h5.2v5.2h-5.2zM110.4 173.8h5.2v5.2h-5.2zM583.8 838.4h5.2v5.2h-5.2zM138.4 162.8h5.2v5.2h-5.2z"/>
<circle class="mb" cx="420.1" cy="177" r="2.85"/>
<circle class="mb" cx="583" cy="846.8" r="2.85"/>
<circle class="mb" cx="123.8" cy="567.9" r="2.85"/>
<circle class="mb" cx="117.2" cy="821.1" r="2.85"/>
<circle class="mb" cx="157" cy="850.5" r="2.85"/>
<circle class="mb" cx="566.5" cy="506.7" r="2.85"/>
<path class="mg" d="M176.3 225.6h7.4l-3.7 -6.8zM433.7 193.8h7.4l-3.7 -6.8zM268.3 828.8h7.4l-3.7 -6.8zM426.7 489.8h7.4l-3.7 -6.8zM472.1 173h7.4l-3.7 -6.8zM446.6 475.1h7.4l-3.7 -6.8zM207.4 213.5h7.4l-3.7 -6.8zM421.6 180.1h7.4l-3.7 -6.8z"/>
<path class="mp" d="M439.5 141.8h5.2v5.2h-5.2zM303.8 513.1h5.2v5.2h-5.2zM630.6 850.7h5.2v5.2h-5.2zM578.4 836.2h5.2v5.2h-5.2zM175.8 204.9h5.2v5.2h-5.2zM570.9 795.5h5.2v5.2h-5.2zM529.4 846.1h5.2v5.2h-5.2zM605.5 480.8h5.2v5.2h-5.2zM626.9 213.5h5.2v5.2h-5.2zM232.4 761.9h5.2v5.2h-5.2z"/>
<circle class="mb" cx="572.4" cy="489.4" r="2.85"/>
<circle class="mb" cx="622.8" cy="867.3" r="2.85"/>
<circle class="mb" cx="194.3" cy="528.2" r="2.85"/>
<circle class="mb" cx="163.4" cy="801.1" r="2.85"/>
<circle class="mb" cx="232.3" cy="793.8" r="2.85"/>
<circle class="mb" cx="89.2" cy="903.5" r="2.85"/>
<path class="mg" d="M167.9 828.7h7.4l-3.7 -6.8zM549.6 498.2h7.4l-3.7 -6.8zM229.7 508.9h7.4l-3.7 -6.8zM212 451.9h7.4l-3.7 -6.8zM258.2 565.9h7.4l-3.7 -6.8zM537.6 524.1h7.4l-3.7 -6.8zM213.8 236.1h7.4l-3.7 -6.8zM542.3 213h7.4l-3.7 -6.8z"/>
<path class="mp" d="M99.3 192.3h5.2v5.2h-5.2zM554.5 524.1h5.2v5.2h-5.2zM616.6 815.6h5.2v5.2h-5.2zM225.8 794.6h5.2v5.2h-5.2zM183.3 215.1h5.2v5.2h-5.2zM132 169h5.2v5.2h-5.2zM524.6 537.1h5.2v5.2h-5.2z"/>
<circle class="mb" cx="548" cy="488.5" r="2.85"/>
<circle class="mb" cx="161.8" cy="204.2" r="2.85"/>
<circle class="mb" cx="302.1" cy="268.4" r="2.85"/>
<circle class="mb" cx="140.1" cy="158.7" r="2.85"/>
<circle class="mb" cx="627.7" cy="806.5" r="2.85"/>
<path class="mg" d="M470.1 191.4h7.4l-3.7 -6.8zM195.4 221.1h7.4l-3.7 -6.8zM167.6 209.4h7.4l-3.7 -6.8zM112.4 164.1h7.4l-3.7 -6.8zM446.6 843.6h7.4l-3.7 -6.8zM517.1 495.8h7.4l-3.7 -6.8zM544.3 538.3h7.4l-3.7 -6.8zM518.2 499.6h7.4l-3.7 -6.8zM490.9 203h7.4l-3.7 -6.8zM150.9 795.8h7.4l-3.7 -6.8zM148.5 172.9h7.4l-3.7 -6.8zM157 210.9h7.4l-3.7 -6.8z"/>
<path class="mp" d="M284.2 505.2h5.2v5.2h-5.2zM232.9 510.4h5.2v5.2h-5.2zM235.9 853.1h5.2v5.2h-5.2zM130.4 169.7h5.2v5.2h-5.2zM540.5 844.6h5.2v5.2h-5.2zM567.7 513.2h5.2v5.2h-5.2zM304.9 468.1h5.2v5.2h-5.2zM278.8 487.3h5.2v5.2h-5.2zM281.5 475.2h5.2v5.2h-5.2z"/>
<circle class="mb" cx="580.8" cy="479.3" r="2.85"/>
<circle class="mb" cx="493" cy="219.6" r="2.85"/>
<circle class="mb" cx="608.2" cy="856.7" r="2.85"/>
<circle class="mb" cx="625.2" cy="843.3" r="2.85"/>
<circle class="mb" cx="549.4" cy="518.7" r="2.85"/>
<circle class="mb" cx="159.3" cy="528.7" r="2.85"/>
<circle class="mb" cx="256.2" cy="822.4" r="2.85"/>
<circle class="mb" cx="151.5" cy="820.4" r="2.85"/>
<path class="mg" d="M114.2 204.3h7.4l-3.7 -6.8zM463.9 193.7h7.4l-3.7 -6.8zM157.2 785.7h7.4l-3.7 -6.8zM145.8 854.4h7.4l-3.7 -6.8zM155.1 199.4h7.4l-3.7 -6.8zM154.4 187.1h7.4l-3.7 -6.8zM564.7 805.5h7.4l-3.7 -6.8z"/>
<path class="mp" d="M314.8 506.1h5.2v5.2h-5.2zM230.1 874.1h5.2v5.2h-5.2zM626.7 482.7h5.2v5.2h-5.2zM630.3 851.9h5.2v5.2h-5.2zM450 140.1h5.2v5.2h-5.2zM531.5 496.6h5.2v5.2h-5.2zM245.9 478h5.2v5.2h-5.2zM599.7 504.9h5.2v5.2h-5.2zM413.2 175.4h5.2v5.2h-5.2zM443.7 150.5h5.2v5.2h-5.2zM106.5 194.5h5.2v5.2h-5.2z"/>
<circle class="mb" cx="601.9" cy="841.5" r="2.85"/>
<circle class="mb" cx="576.1" cy="816.1" r="2.85"/>
<circle class="mb" cx="68.9" cy="888.6" r="2.85"/>
<circle class="mb" cx="215.2" cy="512.3" r="2.85"/>
<circle class="mb" cx="563.5" cy="494.6" r="2.85"/>
<path class="mg" d="M550.5 179.2h7.4l-3.7 -6.8zM186 490.7h7.4l-3.7 -6.8zM202.8 842.5h7.4l-3.7 -6.8zM417 179.2h7.4l-3.7 -6.8zM454.6 169h7.4l-3.7 -6.8zM208.7 229.3h7.4l-3.7 -6.8zM166.6 186.9h7.4l-3.7 -6.8zM113.4 171.8h7.4l-3.7 -6.8z"/>
<path class="mp" d="M274.4 487.2h5.2v5.2h-5.2zM242 855.4h5.2v5.2h-5.2zM610.5 793h5.2v5.2h-5.2zM552 508.6h5.2v5.2h-5.2zM85.3 160.6h5.2v5.2h-5.2zM245.7 791.9h5.2v5.2h-5.2zM276.8 538.4h5.2v5.2h-5.2zM617.9 844.5h5.2v5.2h-5.2zM236 849.4h5.2v5.2h-5.2zM239.9 852.4h5.2v5.2h-5.2z"/>
<circle class="mb" cx="170.1" cy="213.9" r="2.85"/>
<circle class="mb" cx="182.6" cy="197.9" r="2.85"/>
<circle class="mb" cx="627.9" cy="858" r="2.85"/>
<circle class="mb" cx="104.4" cy="552.7" r="2.85"/>
<path class="mg" d="M93.5 160.4h7.4l-3.7 -6.8zM462.8 194.9h7.4l-3.7 -6.8zM470.6 193.8h7.4l-3.7 -6.8zM273.4 521.2h7.4l-3.7 -6.8zM302.7 822.5h7.4l-3.7 -6.8zM580.2 801.1h7.4l-3.7 -6.8zM447.5 468.8h7.4l-3.7 -6.8zM132.7 158h7.4l-3.7 -6.8zM547.6 545.7h7.4l-3.7 -6.8zM518.3 806.1h7.4l-3.7 -6.8z"/>
<path class="mp" d="M582.6 810.6h5.2v5.2h-5.2zM550.3 477.2h5.2v5.2h-5.2zM540.5 172.2h5.2v5.2h-5.2zM272.5 495.6h5.2v5.2h-5.2zM470.1 204.8h5.2v5.2h-5.2zM629.2 800.3h5.2v5.2h-5.2zM497.2 178.4h5.2v5.2h-5.2z"/>
<circle class="mb" cx="93.2" cy="885.1" r="2.85"/>
<circle class="mb" cx="547.8" cy="484.5" r="2.85"/>
<circle class="mb" cx="471.8" cy="225.4" r="2.85"/>
<circle class="mb" cx="587" cy="513.5" r="2.85"/>
<circle class="mb" cx="158.1" cy="549.2" r="2.85"/>
<circle class="mb" cx="573.3" cy="548.5" r="2.85"/>
<path class="mg" d="M90.6 194.5h7.4l-3.7 -6.8zM455.8 795.3h7.4l-3.7 -6.8zM126.1 197.6h7.4l-3.7 -6.8zM482 165.6h7.4l-3.7 -6.8zM620.9 795.8h7.4l-3.7 -6.8zM188.3 857.7h7.4l-3.7 -6.8zM516.9 483h7.4l-3.7 -6.8zM194 492h7.4l-3.7 -6.8zM492.7 194.6h7.4l-3.7 -6.8zM564.4 555.1h7.4l-3.7 -6.8zM565.2 870.6h7.4l-3.7 -6.8z"/>
<path class="mp" d="M561.4 491.1h5.2v5.2h-5.2zM594.5 893.9h5.2v5.2h-5.2zM212.6 239.3h5.2v5.2h-5.2zM448.6 195.4h5.2v5.2h-5.2zM79.2 160.4h5.2v5.2h-5.2zM546.4 519.3h5.2v5.2h-5.2zM618.4 494.4h5.2v5.2h-5.2zM216.1 872.2h5.2v5.2h-5.2zM214.2 223.7h5.2v5.2h-5.2zM546.2 855.3h5.2v5.2h-5.2z"/>
<circle class="mb" cx="152.3" cy="516.9" r="2.85"/>
<circle class="mb" cx="154.5" cy="513.5" r="2.85"/>
<circle class="mb" cx="173.1" cy="209.4" r="2.85"/>
<circle class="mb" cx="590.8" cy="526.6" r="2.85"/>
<circle class="mb" cx="213" cy="230.4" r="2.85"/>
<circle class="mb" cx="164" cy="534" r="2.85"/>
<circle class="mb" cx="626" cy="843.8" r="2.85"/>
<circle class="mb" cx="208.6" cy="224.8" r="2.85"/>
<circle class="mb" cx="610.7" cy="842.8" r="2.85"/>
<circle class="mb" cx="578.5" cy="491.6" r="2.85"/>
<path class="mg" d="M611 811.7h7.4l-3.7 -6.8zM564.3 510.4h7.4l-3.7 -6.8zM645.9 846h7.4l-3.7 -6.8zM168.4 544h7.4l-3.7 -6.8z"/>
<path class="mp" d="M269.3 535.6h5.2v5.2h-5.2zM235.2 840.5h5.2v5.2h-5.2zM298.9 508.1h5.2v5.2h-5.2zM248.4 856.3h5.2v5.2h-5.2zM501.7 184h5.2v5.2h-5.2zM249.6 817.6h5.2v5.2h-5.2zM214.9 828.4h5.2v5.2h-5.2zM542.7 493.1h5.2v5.2h-5.2zM247.6 797.3h5.2v5.2h-5.2z"/>
<circle class="mb" cx="551.9" cy="545.3" r="2.85"/>
<circle class="mb" cx="554.7" cy="563.2" r="2.85"/>
<circle class="mb" cx="139.9" cy="500.6" r="2.85"/>
<circle class="mb" cx="539" cy="210.3" r="2.85"/>
<circle class="mb" cx="566.4" cy="217.9" r="2.85"/>
<circle class="mb" cx="544.6" cy="819.3" r="2.85"/>
<path class="mg" d="M581.6 805.5h7.4l-3.7 -6.8zM218.6 518.3h7.4l-3.7 -6.8zM179.6 480.2h7.4l-3.7 -6.8zM555.5 518.5h7.4l-3.7 -6.8zM513.4 506.6h7.4l-3.7 -6.8zM599.9 868.4h7.4l-3.7 -6.8zM556.4 206h7.4l-3.7 -6.8zM533.9 511.4h7.4l-3.7 -6.8zM182.4 535.3h7.4l-3.7 -6.8z"/>
<path class="mp" d="M220.4 804.2h5.2v5.2h-5.2zM314.2 466.5h5.2v5.2h-5.2zM597 494.7h5.2v5.2h-5.2zM245.3 794.6h5.2v5.2h-5.2zM166.5 188.9h5.2v5.2h-5.2zM563.1 186.6h5.2v5.2h-5.2zM596.8 511.7h5.2v5.2h-5.2zM118.6 158.5h5.2v5.2h-5.2zM537.5 784.6h5.2v5.2h-5.2zM292.5 475.5h5.2v5.2h-5.2zM226 826.7h5.2v5.2h-5.2zM562 567.5h5.2v5.2h-5.2z"/>
<circle class="mb" cx="582.5" cy="538.4" r="2.85"/>
<circle class="mb" cx="230.4" cy="222.9" r="2.85"/>
<circle class="mb" cx="569.9" cy="204.4" r="2.85"/>
<path class="mg" d="M503.3 489.3h7.4l-3.7 -6.8zM486.1 185.4h7.4l-3.7 -6.8zM165.9 499.6h7.4l-3.7 -6.8zM277.9 802h7.4l-3.7 -6.8zM454.5 191.4h7.4l-3.7 -6.8zM452.8 188.3h7.4l-3.7 -6.8zM168.4 544.2h7.4l-3.7 -6.8zM519.1 484.1h7.4l-3.7 -6.8zM182.1 800.2h7.4l-3.7 -6.8z"/>
<path class="mp" d="M487 189h5.2v5.2h-5.2zM195.8 504.5h5.2v5.2h-5.2zM229.2 810.7h5.2v5.2h-5.2zM531.8 786.9h5.2v5.2h-5.2zM284.8 484.4h5.2v5.2h-5.2zM545.5 178.2h5.2v5.2h-5.2zM535.6 507h5.2v5.2h-5.2zM109.9 170.2h5.2v5.2h-5.2zM600.1 843.5h5.2v5.2h-5.2z"/>
<circle class="mb" cx="145" cy="500.5" r="2.85"/>
<circle class="mb" cx="568.1" cy="515.1" r="2.85"/>
<circle class="mb" cx="169.5" cy="217.7" r="2.85"/>
<circle class="mb" cx="542.8" cy="542.9" r="2.85"/>
<circle class="mb" cx="294.6" cy="226.4" r="2.85"/>
<circle class="mb" cx="566" cy="488.2" r="2.85"/>
<circle class="mb" cx="556.8" cy="800.4" r="2.85"/>
<path class="mg" d="M217.4 471.2h7.4l-3.7 -6.8zM482.8 177.3h7.4l-3.7 -6.8zM161.7 210.1h7.4l-3.7 -6.8zM224.5 505.8h7.4l-3.7 -6.8zM254.6 836.7h7.4l-3.7 -6.8zM504.2 850.7h7.4l-3.7 -6.8zM213.8 854.2h7.4l-3.7 -6.8zM74.8 158.3h7.4l-3.7 -6.8z"/>
<path class="mp" d="M441.1 152.2h5.2v5.2h-5.2zM130 179.5h5.2v5.2h-5.2zM413.1 496.2h5.2v5.2h-5.2zM298.3 433.3h5.2v5.2h-5.2zM564.9 185h5.2v5.2h-5.2zM576.1 480.9h5.2v5.2h-5.2zM510.7 162.5h5.2v5.2h-5.2zM122 189.1h5.2v5.2h-5.2zM289.8 495.5h5.2v5.2h-5.2zM520.2 768.9h5.2v5.2h-5.2z"/>
<circle class="mb" cx="559.8" cy="505" r="2.85"/>
<circle class="mb" cx="111.4" cy="547.3" r="2.85"/>
<circle class="mb" cx="236.9" cy="508.3" r="2.85"/>
<circle class="mb" cx="122.6" cy="535.6" r="2.85"/>
<circle class="mb" cx="581.4" cy="773.9" r="2.85"/>
<path class="mg" d="M166.7 219.3h7.4l-3.7 -6.8zM249.1 496h7.4l-3.7 -6.8zM166.4 210.1h7.4l-3.7 -6.8zM478.6 819.8h7.4l-3.7 -6.8zM193.2 487.9h7.4l-3.7 -6.8zM254 263.8h7.4l-3.7 -6.8zM598 886.7h7.4l-3.7 -6.8zM506.5 174.5h7.4l-3.7 -6.8zM326.9 813h7.4l-3.7 -6.8z"/>
<path class="mp" d="M245.3 797.5h5.2v5.2h-5.2zM529.8 172.4h5.2v5.2h-5.2zM439.2 160.7h5.2v5.2h-5.2zM651.9 486.6h5.2v5.2h-5.2zM223.5 503.6h5.2v5.2h-5.2zM526 192.8h5.2v5.2h-5.2zM145 887.2h5.2v5.2h-5.2zM522.9 825.7h5.2v5.2h-5.2zM270.5 247.1h5.2v5.2h-5.2zM530.6 812.7h5.2v5.2h-5.2zM314.4 490.2h5.2v5.2h-5.2zM270.6 472.5h5.2v5.2h-5.2zM560.7 843h5.2v5.2h-5.2zM445.1 149.6h5.2v5.2h-5.2z"/>
<circle class="mb" cx="159.3" cy="464.4" r="2.85"/>
<circle class="mb" cx="574" cy="866.9" r="2.85"/>
<path class="mg" d="M406.2 180.2h7.4l-3.7 -6.8zM164.2 857.7h7.4l-3.7 -6.8zM204.5 466.4h7.4l-3.7 -6.8zM319 803.2h7.4l-3.7 -6.8zM284.1 507.8h7.4l-3.7 -6.8zM583.3 806.1h7.4l-3.7 -6.8zM140.1 171.1h7.4l-3.7 -6.8zM575 813.3h7.4l-3.7 -6.8z"/>
<path class="mp" d="M651.8 500.6h5.2v5.2h-5.2zM291.6 504.9h5.2v5.2h-5.2zM216.2 840.7h5.2v5.2h-5.2zM298.5 509.6h5.2v5.2h-5.2zM500.6 504.3h5.2v5.2h-5.2zM553.5 853.8h5.2v5.2h-5.2zM163.3 192.3h5.2v5.2h-5.2zM657.9 490.8h5.2v5.2h-5.2zM237.1 857.8h5.2v5.2h-5.2zM495.1 166.9h5.2v5.2h-5.2zM144.5 196.7h5.2v5.2h-5.2zM638.5 500.1h5.2v5.2h-5.2z"/>
<circle class="mb" cx="583.9" cy="835.6" r="2.85"/>
<circle class="mb" cx="545.9" cy="549.5" r="2.85"/>
<circle class="mb" cx="192.2" cy="204.7" r="2.85"/>
<circle class="mb" cx="579.4" cy="868.3" r="2.85"/>
<path class="mg" d="M191.8 219.6h7.4l-3.7 -6.8zM576.4 486.7h7.4l-3.7 -6.8zM188 806.9h7.4l-3.7 -6.8zM525.3 245.6h7.4l-3.7 -6.8zM184.8 800.4h7.4l-3.7 -6.8zM150.7 848.4h7.4l-3.7 -6.8zM169.8 832.9h7.4l-3.7 -6.8zM66.5 160.6h7.4l-3.7 -6.8z"/>
<path class="mp" d="M415.4 488.5h5.2v5.2h-5.2zM225.6 800.6h5.2v5.2h-5.2zM321.3 497h5.2v5.2h-5.2zM229.3 799.3h5.2v5.2h-5.2zM223.8 786.5h5.2v5.2h-5.2zM629.6 793.1h5.2v5.2h-5.2zM302.8 489.4h5.2v5.2h-5.2zM220.3 827.2h5.2v5.2h-5.2zM449.9 200.2h5.2v5.2h-5.2zM324.3 479.8h5.2v5.2h-5.2zM244.1 518.3h5.2v5.2h-5.2z"/>
<circle class="mb" cx="226.4" cy="545" r="2.85"/>
<circle class="mb" cx="578.6" cy="843.2" r="2.85"/>
<circle class="mb" cx="78" cy="850.5" r="2.85"/>
<circle class="mb" cx="197.4" cy="532.8" r="2.85"/>
<circle class="mb" cx="176.8" cy="856.8" r="2.85"/>
<circle class="mb" cx="514.8" cy="192.6" r="2.85"/>
<path class="mg" d="M507.5 507.5h7.4l-3.7 -6.8zM465.3 506.4h7.4l-3.7 -6.8zM519.9 236.3h7.4l-3.7 -6.8zM517.1 174.1h7.4l-3.7 -6.8zM209.5 812.1h7.4l-3.7 -6.8zM258.6 497.8h7.4l-3.7 -6.8zM543.2 820.1h7.4l-3.7 -6.8z"/>
<path class="mp" d="M107.8 167.9h5.2v5.2h-5.2zM615.9 482.9h5.2v5.2h-5.2zM506.1 477h5.2v5.2h-5.2zM212.3 833.4h5.2v5.2h-5.2zM279.7 475.2h5.2v5.2h-5.2zM484.5 504.1h5.2v5.2h-5.2zM604.2 891.6h5.2v5.2h-5.2zM328.3 475.6h5.2v5.2h-5.2zM544.6 530.8h5.2v5.2h-5.2zM622.2 495.5h5.2v5.2h-5.2zM563 501.1h5.2v5.2h-5.2z"/>
<circle class="mb" cx="160.8" cy="810.1" r="2.85"/>
<circle class="mb" cx="307.1" cy="489.7" r="2.85"/>
<circle class="mb" cx="559.2" cy="482" r="2.85"/>
<circle class="mb" cx="601.5" cy="870.7" r="2.85"/>
<path class="mg" d="M585.4 513.7h7.4l-3.7 -6.8zM112.2 169.6h7.4l-3.7 -6.8zM536.1 183.2h7.4l-3.7 -6.8zM254.7 264.9h7.4l-3.7 -6.8zM423.8 178h7.4l-3.7 -6.8zM552.4 178.9h7.4l-3.7 -6.8zM505.8 203.5h7.4l-3.7 -6.8zM493.2 182.9h7.4l-3.7 -6.8zM103.7 529.5h7.4l-3.7 -6.8z"/>
<path class="mp" d="M236.6 886.3h5.2v5.2h-5.2zM545 539.5h5.2v5.2h-5.2zM617 481.7h5.2v5.2h-5.2zM220 796h5.2v5.2h-5.2zM200.7 504.3h5.2v5.2h-5.2zM563.2 793.8h5.2v5.2h-5.2zM631.2 490.2h5.2v5.2h-5.2zM276.1 493.3h5.2v5.2h-5.2zM285.9 514.1h5.2v5.2h-5.2zM476 506.9h5.2v5.2h-5.2zM210 468.6h5.2v5.2h-5.2z"/>
<circle class="mb" cx="560.8" cy="842.5" r="2.85"/>
<circle class="mb" cx="256.9" cy="840.9" r="2.85"/>
<circle class="mb" cx="89.1" cy="157.9" r="2.85"/>
<path class="mg" d="M306.8 846h7.4l-3.7 -6.8zM535.2 570.5h7.4l-3.7 -6.8zM179.5 479.5h7.4l-3.7 -6.8zM175.9 209.8h7.4l-3.7 -6.8zM236 525.3h7.4l-3.7 -6.8zM417.9 832.4h7.4l-3.7 -6.8zM532.7 204.3h7.4l-3.7 -6.8zM167.5 500h7.4l-3.7 -6.8zM500.7 820.2h7.4l-3.7 -6.8zM465.5 187.4h7.4l-3.7 -6.8z"/>
<path class="mp" d="M242.2 825.4h5.2v5.2h-5.2zM528.7 801.2h5.2v5.2h-5.2zM76.2 161.1h5.2v5.2h-5.2zM90.9 165.7h5.2v5.2h-5.2zM545.8 502.9h5.2v5.2h-5.2zM176.5 193.2h5.2v5.2h-5.2zM542.5 190.8h5.2v5.2h-5.2zM320.5 511.4h5.2v5.2h-5.2zM612.7 485.2h5.2v5.2h-5.2zM136.8 168.2h5.2v5.2h-5.2z"/>
<circle class="mb" cx="540.6" cy="471.9" r="2.85"/>
<circle class="mb" cx="261.9" cy="238.3" r="2.85"/>
<circle class="mb" cx="600.6" cy="495.7" r="2.85"/>
<circle class="mb" cx="312.1" cy="270.3" r="2.85"/>
<circle class="mb" cx="123.1" cy="822.2" r="2.85"/>
<path class="mg" d="M193.2 196.2h7.4l-3.7 -6.8zM82.4 170h7.4l-3.7 -6.8zM326.1 821h7.4l-3.7 -6.8zM628.1 836.6h7.4l-3.7 -6.8zM258.9 513.1h7.4l-3.7 -6.8zM500.2 165.8h7.4l-3.7 -6.8zM482.1 520.7h7.4l-3.7 -6.8zM427.6 171.5h7.4l-3.7 -6.8zM136.8 169.9h7.4l-3.7 -6.8z"/>
<path class="mp" d="M582.6 861.5h5.2v5.2h-5.2zM172.2 220.5h5.2v5.2h-5.2zM534.6 200.4h5.2v5.2h-5.2zM646.9 488.9h5.2v5.2h-5.2zM315.8 482.1h5.2v5.2h-5.2zM278 479.3h5.2v5.2h-5.2z"/>
<circle class="mb" cx="249.1" cy="211.2" r="2.85"/>
<circle class="mb" cx="267" cy="530.5" r="2.85"/>
<circle class="mb" cx="586" cy="853.5" r="2.85"/>
<circle class="mb" cx="590" cy="879.1" r="2.85"/>
<circle class="mb" cx="162.1" cy="181.4" r="2.85"/>
<path class="mg" d="M125 168.2h7.4l-3.7 -6.8zM249.6 249h7.4l-3.7 -6.8zM492.9 159.8h7.4l-3.7 -6.8zM71.3 174.3h7.4l-3.7 -6.8zM170.3 863.8h7.4l-3.7 -6.8zM543.6 881.4h7.4l-3.7 -6.8zM174.3 904.4h7.4l-3.7 -6.8zM228.6 489.8h7.4l-3.7 -6.8zM196 802.5h7.4l-3.7 -6.8zM316.2 505.1h7.4l-3.7 -6.8zM518.2 822.5h7.4l-3.7 -6.8zM609.7 503.1h7.4l-3.7 -6.8zM165.4 177.5h7.4l-3.7 -6.8z"/>
<path class="mp" d="M233.6 500.2h5.2v5.2h-5.2zM530.3 185h5.2v5.2h-5.2zM428.3 186.3h5.2v5.2h-5.2zM614.7 492.1h5.2v5.2h-5.2zM631.5 815h5.2v5.2h-5.2zM623.3 800.8h5.2v5.2h-5.2zM318.6 512.3h5.2v5.2h-5.2zM273.2 502.4h5.2v5.2h-5.2zM529.9 507.8h5.2v5.2h-5.2z"/>
<circle class="mb" cx="564.8" cy="863.3" r="2.85"/>
<circle class="mb" cx="93.9" cy="903.5" r="2.85"/>
<circle class="mb" cx="277.1" cy="204.4" r="2.85"/>
<circle class="mb" cx="164" cy="508.4" r="2.85"/>
<circle class="mb" cx="617.4" cy="886.8" r="2.85"/>
<circle class="mb" cx="636" cy="822.1" r="2.85"/>
<circle class="mb" cx="635" cy="853.1" r="2.85"/>
<circle class="mb" cx="574.7" cy="492" r="2.85"/>
<circle class="mb" cx="567.5" cy="238.2" r="2.85"/>
<path class="mg" d="M509.3 495.5h7.4l-3.7 -6.8zM537.5 178.1h7.4l-3.7 -6.8zM173.2 182.9h7.4l-3.7 -6.8zM391.7 482.8h7.4l-3.7 -6.8zM189.9 494.8h7.4l-3.7 -6.8zM587.5 497.4h7.4l-3.7 -6.8z"/>
<path class="mp" d="M476.3 164.3h5.2v5.2h-5.2zM598.7 872.4h5.2v5.2h-5.2zM232 844.9h5.2v5.2h-5.2zM248.9 854.4h5.2v5.2h-5.2zM296.5 501h5.2v5.2h-5.2zM556.1 173.3h5.2v5.2h-5.2zM553.6 506.7h5.2v5.2h-5.2zM96.2 113.2h5.2v5.2h-5.2zM476.5 206.2h5.2v5.2h-5.2zM270.9 501.6h5.2v5.2h-5.2zM246.9 819.2h5.2v5.2h-5.2z"/>
<circle class="mb" cx="598.3" cy="798.7" r="2.85"/>
<circle class="mb" cx="175.9" cy="227.9" r="2.85"/>
<circle class="mb" cx="531.3" cy="209.7" r="2.85"/>
<path class="mg" d="M525 519.1h7.4l-3.7 -6.8zM530.1 798.5h7.4l-3.7 -6.8zM170.3 863.5h7.4l-3.7 -6.8zM501.1 176.6h7.4l-3.7 -6.8zM225.1 836.5h7.4l-3.7 -6.8zM236.9 476.7h7.4l-3.7 -6.8zM252.7 476.5h7.4l-3.7 -6.8zM204.8 845.6h7.4l-3.7 -6.8zM153.9 472.3h7.4l-3.7 -6.8zM503.1 818h7.4l-3.7 -6.8z"/>
<path class="mp" d="M595.8 497.7h5.2v5.2h-5.2zM511.4 806.5h5.2v5.2h-5.2zM529.1 500h5.2v5.2h-5.2zM578.8 802.6h5.2v5.2h-5.2zM533.2 811.4h5.2v5.2h-5.2zM547.1 787.2h5.2v5.2h-5.2z"/>
<circle class="mb" cx="168.7" cy="806.8" r="2.85"/>
<circle class="mb" cx="143.4" cy="549.7" r="2.85"/>
<circle class="mb" cx="631.7" cy="853.2" r="2.85"/>
<circle class="mb" cx="556.7" cy="826.2" r="2.85"/>
<circle class="mb" cx="552.2" cy="828.1" r="2.85"/>
<circle class="mb" cx="447.6" cy="185.6" r="2.85"/>
<path class="mg" d="M211 496.3h7.4l-3.7 -6.8zM495.3 839.7h7.4l-3.7 -6.8zM217.5 486.2h7.4l-3.7 -6.8zM477.4 807.4h7.4l-3.7 -6.8zM620.8 799.9h7.4l-3.7 -6.8zM603 811.1h7.4l-3.7 -6.8zM304.9 798.6h7.4l-3.7 -6.8zM172.4 200h7.4l-3.7 -6.8zM521.8 510.1h7.4l-3.7 -6.8zM623.8 791.1h7.4l-3.7 -6.8zM400.3 485.1h7.4l-3.7 -6.8zM245.8 569.5h7.4l-3.7 -6.8z"/>
<path class="mp" d="M435.3 139h5.2v5.2h-5.2zM606 481.8h5.2v5.2h-5.2zM235.9 865.2h5.2v5.2h-5.2zM554.8 490h5.2v5.2h-5.2zM543.5 169.3h5.2v5.2h-5.2zM213.8 815.6h5.2v5.2h-5.2zM275.8 514.8h5.2v5.2h-5.2zM251.5 788h5.2v5.2h-5.2z"/>
<circle class="mb" cx="608.4" cy="850.9" r="2.85"/>
<circle class="mb" cx="92.7" cy="546.4" r="2.85"/>
<circle class="mb" cx="609.1" cy="853.8" r="2.85"/>
<circle class="mb" cx="540.6" cy="460.2" r="2.85"/>
<circle class="mb" cx="112.6" cy="531.2" r="2.85"/>
<circle class="mb" cx="481" cy="482.1" r="2.85"/>
<circle class="mb" cx="623.9" cy="846.8" r="2.85"/>
<path class="mg" d="M453.5 179.6h7.4l-3.7 -6.8zM268.6 516.9h7.4l-3.7 -6.8zM530.7 771.2h7.4l-3.7 -6.8zM283.2 793.4h7.4l-3.7 -6.8zM549.9 836.3h7.4l-3.7 -6.8zM200.9 192.3h7.4l-3.7 -6.8zM251.2 847.2h7.4l-3.7 -6.8zM540.8 177h7.4l-3.7 -6.8zM482.7 193.8h7.4l-3.7 -6.8z"/>
<path class="mp" d="M498.6 152.5h5.2v5.2h-5.2zM77.5 147h5.2v5.2h-5.2zM282.3 494.4h5.2v5.2h-5.2zM242 853.4h5.2v5.2h-5.2zM433.5 186.5h5.2v5.2h-5.2zM289.2 480.2h5.2v5.2h-5.2zM298.5 476.8h5.2v5.2h-5.2zM186.2 514.9h5.2v5.2h-5.2zM512.2 191.3h5.2v5.2h-5.2z"/>
<circle class="mb" cx="232" cy="560.4" r="2.85"/>
<circle class="mb" cx="125.9" cy="517.6" r="2.85"/>
<path class="mg" d="M520 496.6h7.4l-3.7 -6.8zM626.9 494.3h7.4l-3.7 -6.8zM84.1 157.7h7.4l-3.7 -6.8zM174.2 173.2h7.4l-3.7 -6.8zM310.3 819.8h7.4l-3.7 -6.8zM266 805.3h7.4l-3.7 -6.8zM187.1 857.7h7.4l-3.7 -6.8zM197.5 552.4h7.4l-3.7 -6.8zM418.6 819.1h7.4l-3.7 -6.8zM185.4 226.9h7.4l-3.7 -6.8zM554 155.8h7.4l-3.7 -6.8zM182.9 195.9h7.4l-3.7 -6.8zM65.9 171.4h7.4l-3.7 -6.8z"/>
<path class="mp" d="M451.7 249.2h5.2v5.2h-5.2zM478.6 195.9h5.2v5.2h-5.2zM533.3 786.9h5.2v5.2h-5.2zM527.5 492h5.2v5.2h-5.2zM588.4 819.5h5.2v5.2h-5.2zM304.3 502.8h5.2v5.2h-5.2zM508.7 174.7h5.2v5.2h-5.2zM140.1 174.4h5.2v5.2h-5.2zM230 822.4h5.2v5.2h-5.2zM543.9 803.4h5.2v5.2h-5.2zM292.3 498.5h5.2v5.2h-5.2z"/>
<circle class="mb" cx="543.9" cy="812.7" r="2.85"/>
<circle class="mb" cx="148.1" cy="189.2" r="2.85"/>
<circle class="mb" cx="456.2" cy="165.2" r="2.85"/>
<circle class="mb" cx="575.3" cy="506.6" r="2.85"/>
<circle class="mb" cx="455.1" cy="195" r="2.85"/>
<path class="mg" d="M142 203.5h7.4l-3.7 -6.8zM597.7 188.9h7.4l-3.7 -6.8zM531.3 821h7.4l-3.7 -6.8zM529.9 497.7h7.4l-3.7 -6.8zM481.2 214.7h7.4l-3.7 -6.8zM440.7 170.1h7.4l-3.7 -6.8zM79.7 175.3h7.4l-3.7 -6.8zM533.6 175h7.4l-3.7 -6.8z"/>
<path class="mp" d="M81.3 186.1h5.2v5.2h-5.2zM601.9 484.6h5.2v5.2h-5.2zM473.4 200.1h5.2v5.2h-5.2zM288.4 511.4h5.2v5.2h-5.2zM559.8 798.1h5.2v5.2h-5.2zM232.1 505.6h5.2v5.2h-5.2zM250.2 850.1h5.2v5.2h-5.2zM85.9 157.1h5.2v5.2h-5.2zM654 499.7h5.2v5.2h-5.2zM437.2 169.5h5.2v5.2h-5.2zM614.7 488.1h5.2v5.2h-5.2zM517 810.2h5.2v5.2h-5.2zM232.4 247.5h5.2v5.2h-5.2zM306.8 521.5h5.2v5.2h-5.2zM222.1 825.2h5.2v5.2h-5.2z"/>
<circle class="mb" cx="634" cy="860.9" r="2.85"/>
<path class="mg" d="M175.9 191.4h7.4l-3.7 -6.8zM637.3 502.5h7.4l-3.7 -6.8zM277.6 821.5h7.4l-3.7 -6.8zM231.7 489.1h7.4l-3.7 -6.8zM641.6 209.4h7.4l-3.7 -6.8zM112.5 179.9h7.4l-3.7 -6.8zM449.7 200.6h7.4l-3.7 -6.8zM571.5 505.2h7.4l-3.7 -6.8z"/>
<path class="mp" d="M150.3 184.1h5.2v5.2h-5.2zM88.3 127.4h5.2v5.2h-5.2zM562.6 508.6h5.2v5.2h-5.2zM265.3 500.2h5.2v5.2h-5.2zM601.6 835.7h5.2v5.2h-5.2zM447.5 188.2h5.2v5.2h-5.2zM78.3 164.1h5.2v5.2h-5.2zM542.4 789.5h5.2v5.2h-5.2zM128.2 150.6h5.2v5.2h-5.2zM531 502.4h5.2v5.2h-5.2zM280.3 512.2h5.2v5.2h-5.2zM234.4 827.2h5.2v5.2h-5.2z"/>
<circle class="mb" cx="523.3" cy="184.7" r="2.85"/>
<circle class="mb" cx="631.6" cy="799.4" r="2.85"/>
<circle class="mb" cx="563" cy="588.8" r="2.85"/>
<path class="mg" d="M418.3 184.2h7.4l-3.7 -6.8zM525.3 808.6h7.4l-3.7 -6.8zM242.9 811.8h7.4l-3.7 -6.8zM193.5 193.5h7.4l-3.7 -6.8zM255 491.6h7.4l-3.7 -6.8zM592.9 476.7h7.4l-3.7 -6.8zM191 194h7.4l-3.7 -6.8zM186.7 819.8h7.4l-3.7 -6.8zM160.4 839.7h7.4l-3.7 -6.8z"/>
<path class="mp" d="M536.8 819.7h5.2v5.2h-5.2zM249 791.9h5.2v5.2h-5.2zM312.8 466.4h5.2v5.2h-5.2zM293.1 523.4h5.2v5.2h-5.2zM176.8 174.8h5.2v5.2h-5.2zM521 522.3h5.2v5.2h-5.2zM86.3 134h5.2v5.2h-5.2zM174.5 174.2h5.2v5.2h-5.2z"/>
<circle class="mb" cx="572.8" cy="566.6" r="2.85"/>
<circle class="mb" cx="102.5" cy="590.5" r="2.85"/>
<circle class="mb" cx="636.1" cy="854.4" r="2.85"/>
<circle class="mb" cx="295" cy="480.7" r="2.85"/>
<circle class="mb" cx="194.8" cy="200.3" r="2.85"/>
<circle class="mb" cx="122.4" cy="535.9" r="2.85"/>
<path class="mg" d="M203 492.4h7.4l-3.7 -6.8zM494.2 183.5h7.4l-3.7 -6.8zM194.6 561.7h7.4l-3.7 -6.8zM161.2 219.4h7.4l-3.7 -6.8zM593.4 876.5h7.4l-3.7 -6.8zM556 531.6h7.4l-3.7 -6.8zM515.4 529.4h7.4l-3.7 -6.8zM549.6 501.9h7.4l-3.7 -6.8zM232.5 476.3h7.4l-3.7 -6.8zM102 179.1h7.4l-3.7 -6.8z"/>
<path class="mp" d="M636.5 466.5h5.2v5.2h-5.2zM607.4 476.2h5.2v5.2h-5.2zM442.8 182.7h5.2v5.2h-5.2zM476.2 158h5.2v5.2h-5.2zM225.1 829.8h5.2v5.2h-5.2zM552.2 849.9h5.2v5.2h-5.2zM575 186.6h5.2v5.2h-5.2zM205.6 200.3h5.2v5.2h-5.2zM115.4 166.7h5.2v5.2h-5.2zM281.8 505.5h5.2v5.2h-5.2zM172.5 193.6h5.2v5.2h-5.2z"/>
<circle class="mb" cx="466.2" cy="212.6" r="2.85"/>
<circle class="mb" cx="591.4" cy="513.7" r="2.85"/>
<circle class="mb" cx="600.3" cy="206.3" r="2.85"/>
<circle class="mb" cx="210.5" cy="785.5" r="2.85"/>
<circle class="mb" cx="211.4" cy="211.9" r="2.85"/>
<circle class="mb" cx="588.9" cy="517" r="2.85"/>
<circle class="mb" cx="587.9" cy="855.4" r="2.85"/>
<path class="mg" d="M486.3 223.5h7.4l-3.7 -6.8zM107.1 181.2h7.4l-3.7 -6.8zM616.4 483.6h7.4l-3.7 -6.8zM292.1 826.8h7.4l-3.7 -6.8zM180.6 218.7h7.4l-3.7 -6.8zM403.4 492.2h7.4l-3.7 -6.8z"/>
<path class="mp" d="M640 488.3h5.2v5.2h-5.2zM200.2 471.8h5.2v5.2h-5.2zM535.8 193.2h5.2v5.2h-5.2zM554.5 487.9h5.2v5.2h-5.2zM593.5 526.6h5.2v5.2h-5.2zM90.9 146.9h5.2v5.2h-5.2zM571.4 782.7h5.2v5.2h-5.2zM521.2 479.5h5.2v5.2h-5.2z"/>
<circle class="mb" cx="234.3" cy="865" r="2.85"/>
<circle class="mb" cx="422" cy="160.1" r="2.85"/>
<circle class="mb" cx="152.2" cy="545.4" r="2.85"/>
<circle class="mb" cx="554.1" cy="509.2" r="2.85"/>
<circle class="mb" cx="159.9" cy="534.4" r="2.85"/>
<circle class="mb" cx="515.7" cy="200" r="2.85"/>
<circle class="mb" cx="639.2" cy="850.7" r="2.85"/>
<circle class="mb" cx="597.2" cy="232.4" r="2.85"/>
<circle class="mb" cx="143.7" cy="523.2" r="2.85"/>
<path class="mg" d="M226.7 526h7.4l-3.7 -6.8zM471.4 183.8h7.4l-3.7 -6.8zM245.4 249.4h7.4l-3.7 -6.8zM320.2 803.4h7.4l-3.7 -6.8zM525.5 190.8h7.4l-3.7 -6.8zM394.5 501.3h7.4l-3.7 -6.8zM470.4 804.4h7.4l-3.7 -6.8z"/>
<path class="mp" d="M101.3 913.3h5.2v5.2h-5.2zM632.3 847.7h5.2v5.2h-5.2zM552.9 502.6h5.2v5.2h-5.2zM231.4 816.8h5.2v5.2h-5.2zM212.2 789.1h5.2v5.2h-5.2zM76.8 166h5.2v5.2h-5.2zM622.1 818.1h5.2v5.2h-5.2zM96.9 172.7h5.2v5.2h-5.2zM178.6 206.2h5.2v5.2h-5.2zM415.4 478.6h5.2v5.2h-5.2zM217.3 860.1h5.2v5.2h-5.2zM125.2 158.6h5.2v5.2h-5.2zM505.6 209.7h5.2v5.2h-5.2zM619.8 807.3h5.2v5.2h-5.2z"/>
<circle class="mb" cx="511.8" cy="196.8" r="2.85"/>
<circle class="mb" cx="136.6" cy="861" r="2.85"/>
<circle class="mb" cx="136.3" cy="187.3" r="2.85"/>
<circle class="mb" cx="178" cy="526.8" r="2.85"/>
<path class="mg" d="M195.8 489h7.4l-3.7 -6.8zM539.4 495.5h7.4l-3.7 -6.8zM648.5 495.4h7.4l-3.7 -6.8zM310.8 795.8h7.4l-3.7 -6.8zM517.1 813.3h7.4l-3.7 -6.8zM136.1 194.9h7.4l-3.7 -6.8z"/>
<path class="mp" d="M245.9 837.9h5.2v5.2h-5.2zM197.8 498.7h5.2v5.2h-5.2zM99.5 575.1h5.2v5.2h-5.2zM262.5 838.1h5.2v5.2h-5.2zM641.2 815.7h5.2v5.2h-5.2zM328.8 469.4h5.2v5.2h-5.2zM237.4 823.8h5.2v5.2h-5.2zM449.2 167.6h5.2v5.2h-5.2zM310.7 534.9h5.2v5.2h-5.2zM269.5 488h5.2v5.2h-5.2z"/>
<circle class="mb" cx="177.7" cy="173.3" r="2.85"/>
<circle class="mb" cx="541.1" cy="501.3" r="2.85"/>
<circle class="mb" cx="95" cy="815.2" r="2.85"/>
<circle class="mb" cx="228.5" cy="520.4" r="2.85"/>
<circle class="mb" cx="586.2" cy="869.4" r="2.85"/>
<path class="mg" d="M518.5 505.8h7.4l-3.7 -6.8zM461.9 519.3h7.4l-3.7 -6.8zM79.1 183.1h7.4l-3.7 -6.8zM255.1 820.8h7.4l-3.7 -6.8zM243.9 521h7.4l-3.7 -6.8zM636.2 799.8h7.4l-3.7 -6.8zM162.6 865.8h7.4l-3.7 -6.8zM516.3 194.6h7.4l-3.7 -6.8zM457.6 470h7.4l-3.7 -6.8z"/>
<path class="mp" d="M330.7 487h5.2v5.2h-5.2zM547 793.1h5.2v5.2h-5.2zM247 822.7h5.2v5.2h-5.2zM156.7 179.1h5.2v5.2h-5.2zM230.4 838.8h5.2v5.2h-5.2zM314.2 540.8h5.2v5.2h-5.2zM249.9 828.1h5.2v5.2h-5.2zM547.9 248h5.2v5.2h-5.2zM293.8 465.5h5.2v5.2h-5.2z"/>
<circle class="mb" cx="161.1" cy="533.1" r="2.85"/>
<circle class="mb" cx="621.2" cy="872.2" r="2.85"/>
<circle class="mb" cx="162.3" cy="522.3" r="2.85"/>
<circle class="mb" cx="552.1" cy="522.6" r="2.85"/>
<circle class="mb" cx="244.8" cy="197.5" r="2.85"/>
<circle class="mb" cx="625.9" cy="838.4" r="2.85"/>
<circle class="mb" cx="473.7" cy="214.6" r="2.85"/>
<circle class="mb" cx="619.9" cy="876.5" r="2.85"/>
<circle class="mb" cx="223.3" cy="202.9" r="2.85"/>
<path class="mg" d="M256.8 493.2h7.4l-3.7 -6.8zM116.1 169.9h7.4l-3.7 -6.8zM268.9 499.5h7.4l-3.7 -6.8zM567.9 832.8h7.4l-3.7 -6.8zM592.6 837h7.4l-3.7 -6.8zM154.8 813.1h7.4l-3.7 -6.8z"/>
<path class="mp" d="M575.2 799.6h5.2v5.2h-5.2zM212.6 837.6h5.2v5.2h-5.2zM574.2 805.3h5.2v5.2h-5.2zM570.4 850.4h5.2v5.2h-5.2zM551.9 562.1h5.2v5.2h-5.2zM480.6 154.8h5.2v5.2h-5.2zM510 207.8h5.2v5.2h-5.2zM649.5 488.3h5.2v5.2h-5.2zM241.7 822.7h5.2v5.2h-5.2zM642.1 815.4h5.2v5.2h-5.2zM560.5 492.1h5.2v5.2h-5.2zM545.7 856.3h5.2v5.2h-5.2z"/>
<circle class="mb" cx="298.6" cy="216.1" r="2.85"/>
<circle class="mb" cx="552.1" cy="547.3" r="2.85"/>
<path class="mg" d="M485 488.2h7.4l-3.7 -6.8zM438.4 488.4h7.4l-3.7 -6.8zM152.1 218.4h7.4l-3.7 -6.8zM168.5 863.4h7.4l-3.7 -6.8zM104.3 172.5h7.4l-3.7 -6.8zM507.8 839h7.4l-3.7 -6.8zM253.9 494.9h7.4l-3.7 -6.8zM143.4 174.4h7.4l-3.7 -6.8zM311.9 821h7.4l-3.7 -6.8zM222 590.5h7.4l-3.7 -6.8z"/>
<path class="mp" d="M488.4 172.8h5.2v5.2h-5.2zM547.1 775.9h5.2v5.2h-5.2zM521.8 481.8h5.2v5.2h-5.2zM74.1 166.9h5.2v5.2h-5.2z"/>
<circle class="mb" cx="598.6" cy="850.8" r="2.85"/>
<circle class="mb" cx="567.4" cy="486" r="2.85"/>
<circle class="mb" cx="139" cy="526.3" r="2.85"/>
<circle class="mb" cx="538.3" cy="828.6" r="2.85"/>
<circle class="mb" cx="243.2" cy="221.7" r="2.85"/>
<path class="mg" d="M561.5 499.9h7.4l-3.7 -6.8zM554.1 795.8h7.4l-3.7 -6.8zM459.8 168.4h7.4l-3.7 -6.8zM621.4 512.8h7.4l-3.7 -6.8zM220.7 833.3h7.4l-3.7 -6.8zM557.8 848.1h7.4l-3.7 -6.8zM468.9 503h7.4l-3.7 -6.8zM226.7 241.5h7.4l-3.7 -6.8zM584.3 565.8h7.4l-3.7 -6.8zM464.9 505.3h7.4l-3.7 -6.8zM519.5 451h7.4l-3.7 -6.8zM503.2 828.6h7.4l-3.7 -6.8zM632.4 788.7h7.4l-3.7 -6.8zM238.3 584.6h7.4l-3.7 -6.8zM578.6 823.7h7.4l-3.7 -6.8z"/>
<path class="mp" d="M247 855.2h5.2v5.2h-5.2zM308.7 471.9h5.2v5.2h-5.2zM569.9 864.4h5.2v5.2h-5.2zM609.4 486.6h5.2v5.2h-5.2zM481.9 183.1h5.2v5.2h-5.2zM546.8 829.3h5.2v5.2h-5.2zM216.1 862.4h5.2v5.2h-5.2zM289.7 483.2h5.2v5.2h-5.2zM232.9 233h5.2v5.2h-5.2zM181.6 850.8h5.2v5.2h-5.2z"/>
<circle class="mb" cx="257.5" cy="806.1" r="2.85"/>
<circle class="mb" cx="547" cy="210.5" r="2.85"/>
<circle class="mb" cx="632.6" cy="811" r="2.85"/>
<circle class="mb" cx="618.9" cy="871.9" r="2.85"/>
<circle class="mb" cx="567.1" cy="217.3" r="2.85"/>
<path class="mg" d="M535 849.2h7.4l-3.7 -6.8zM88.6 194h7.4l-3.7 -6.8zM559.5 507.9h7.4l-3.7 -6.8zM471.6 499.6h7.4l-3.7 -6.8zM129 162.1h7.4l-3.7 -6.8zM529.3 185h7.4l-3.7 -6.8zM187.2 832h7.4l-3.7 -6.8zM624 527.7h7.4l-3.7 -6.8zM603.2 857.6h7.4l-3.7 -6.8z"/>
<path class="mp" d="M102.6 143.9h5.2v5.2h-5.2zM521.7 224.6h5.2v5.2h-5.2zM116.7 186.6h5.2v5.2h-5.2zM611.7 795.6h5.2v5.2h-5.2zM577.3 182h5.2v5.2h-5.2zM542 505.8h5.2v5.2h-5.2z"/>
<circle class="mb" cx="471.4" cy="175.7" r="2.85"/>
<circle class="mb" cx="601.7" cy="856.2" r="2.85"/>
<circle class="mb" cx="571.1" cy="568.6" r="2.85"/>
<circle class="mb" cx="571.7" cy="845.4" r="2.85"/>
<circle class="mb" cx="561.8" cy="568.4" r="2.85"/>
<circle class="mb" cx="587.9" cy="498.6" r="2.85"/>
<circle class="mb" cx="237.1" cy="829.6" r="2.85"/>
<path class="mg" d="M198.6 863.3h7.4l-3.7 -6.8zM656.5 824.5h7.4l-3.7 -6.8zM241.2 506.5h7.4l-3.7 -6.8zM482.9 156.5h7.4l-3.7 -6.8zM168.2 216h7.4l-3.7 -6.8zM413.2 169.8h7.4l-3.7 -6.8zM621.6 817.1h7.4l-3.7 -6.8zM230.6 188.3h7.4l-3.7 -6.8zM640.6 515.3h7.4l-3.7 -6.8zM314.6 814.7h7.4l-3.7 -6.8zM135.4 200.5h7.4l-3.7 -6.8z"/>
<path class="mp" d="M234.4 847.4h5.2v5.2h-5.2zM253.7 808.1h5.2v5.2h-5.2zM311.9 570h5.2v5.2h-5.2zM258.4 825.2h5.2v5.2h-5.2zM600.9 826.5h5.2v5.2h-5.2zM128.6 180.7h5.2v5.2h-5.2zM587.6 478.1h5.2v5.2h-5.2zM555.5 852.8h5.2v5.2h-5.2zM233.1 232.7h5.2v5.2h-5.2zM327.2 491.4h5.2v5.2h-5.2z"/>
<circle class="mb" cx="191.5" cy="188.1" r="2.85"/>
<circle class="mb" cx="162.8" cy="832.6" r="2.85"/>
<circle class="mb" cx="631.8" cy="903.2" r="2.85"/>
<circle class="mb" cx="153.4" cy="508.8" r="2.85"/>
<circle class="mb" cx="582.9" cy="516.2" r="2.85"/>
<path class="mg" d="M514.9 205.2h7.4l-3.7 -6.8zM106 173.7h7.4l-3.7 -6.8zM611.3 862.6h7.4l-3.7 -6.8zM185.7 472.1h7.4l-3.7 -6.8zM471.1 501.1h7.4l-3.7 -6.8zM190.6 498.7h7.4l-3.7 -6.8zM75.2 160h7.4l-3.7 -6.8zM528.3 174.7h7.4l-3.7 -6.8zM475.2 519.6h7.4l-3.7 -6.8z"/>
<path class="mp" d="M427.1 188h5.2v5.2h-5.2zM276.7 506h5.2v5.2h-5.2zM522.4 797h5.2v5.2h-5.2zM611.4 506.3h5.2v5.2h-5.2zM299.5 515.5h5.2v5.2h-5.2zM193.5 220.5h5.2v5.2h-5.2zM249 492h5.2v5.2h-5.2zM232 892.3h5.2v5.2h-5.2zM487.9 820.3h5.2v5.2h-5.2zM579 835.2h5.2v5.2h-5.2zM583 823.4h5.2v5.2h-5.2zM248.2 814.9h5.2v5.2h-5.2z"/>
<circle class="mb" cx="589.6" cy="466.1" r="2.85"/>
<path class="mg" d="M275.7 499.7h7.4l-3.7 -6.8zM502.5 502.5h7.4l-3.7 -6.8zM259.6 491.3h7.4l-3.7 -6.8zM635.7 861.2h7.4l-3.7 -6.8zM430.2 846h7.4l-3.7 -6.8zM522.3 161.6h7.4l-3.7 -6.8zM508 159.9h7.4l-3.7 -6.8zM572.8 489.9h7.4l-3.7 -6.8zM112.9 164.7h7.4l-3.7 -6.8zM201.7 220.1h7.4l-3.7 -6.8zM169.6 903.9h7.4l-3.7 -6.8z"/>
<path class="mp" d="M539.5 807.8h5.2v5.2h-5.2zM537.7 865h5.2v5.2h-5.2zM234.8 752.6h5.2v5.2h-5.2zM145.5 189.5h5.2v5.2h-5.2zM251.5 794h5.2v5.2h-5.2zM77.8 155.6h5.2v5.2h-5.2zM484.8 196.4h5.2v5.2h-5.2zM478.8 155.5h5.2v5.2h-5.2zM234.7 811.8h5.2v5.2h-5.2zM589 506.8h5.2v5.2h-5.2zM333.3 470.9h5.2v5.2h-5.2zM230.4 831.4h5.2v5.2h-5.2zM159.1 197h5.2v5.2h-5.2z"/>
<circle class="mb" cx="554.2" cy="853.4" r="2.85"/>
<circle class="mb" cx="215.1" cy="213.2" r="2.85"/>
<circle class="mb" cx="608.4" cy="803.1" r="2.85"/>
<circle class="mb" cx="544.1" cy="494.2" r="2.85"/>
<circle class="mb" cx="223.3" cy="825.7" r="2.85"/>
<path class="mg" d="M167.5 193.7h7.4l-3.7 -6.8zM203.8 206.5h7.4l-3.7 -6.8zM177.6 844.4h7.4l-3.7 -6.8zM416.7 507.8h7.4l-3.7 -6.8zM511.1 215h7.4l-3.7 -6.8zM241.9 833.3h7.4l-3.7 -6.8z"/>
<path class="mp" d="M586.3 761.9h5.2v5.2h-5.2zM232 774.3h5.2v5.2h-5.2zM213.1 841h5.2v5.2h-5.2zM321 525.2h5.2v5.2h-5.2zM605.2 853.6h5.2v5.2h-5.2zM73.7 150.3h5.2v5.2h-5.2zM585.6 785.7h5.2v5.2h-5.2z"/>
<circle class="mb" cx="262.6" cy="264" r="2.85"/>
<circle class="mb" cx="139.6" cy="184.6" r="2.85"/>
<circle class="mb" cx="523.5" cy="182.9" r="2.85"/>
<circle class="mb" cx="617.9" cy="856.9" r="2.85"/>
<circle class="mb" cx="203.5" cy="501.5" r="2.85"/>
<path class="mg" d="M601.6 484.5h7.4l-3.7 -6.8zM194.3 851.9h7.4l-3.7 -6.8zM224.7 502.1h7.4l-3.7 -6.8zM401.5 513.2h7.4l-3.7 -6.8zM220.8 480.8h7.4l-3.7 -6.8zM177.8 499h7.4l-3.7 -6.8zM173.9 199.2h7.4l-3.7 -6.8zM505.5 517.3h7.4l-3.7 -6.8zM253.7 819.3h7.4l-3.7 -6.8zM556.3 828.1h7.4l-3.7 -6.8zM534.6 503.6h7.4l-3.7 -6.8zM518.9 207.6h7.4l-3.7 -6.8z"/>
<path class="mp" d="M88.2 185.3h5.2v5.2h-5.2zM587.2 803.8h5.2v5.2h-5.2zM569 521h5.2v5.2h-5.2zM305.3 460.1h5.2v5.2h-5.2z"/>
<circle class="mb" cx="260.3" cy="229.4" r="2.85"/>
<circle class="mb" cx="585.9" cy="508.9" r="2.85"/>
<circle class="mb" cx="622.8" cy="857.4" r="2.85"/>
<circle class="mb" cx="250" cy="859.8" r="2.85"/>
<path class="mg" d="M466.5 498.1h7.4l-3.7 -6.8zM279.2 804.4h7.4l-3.7 -6.8zM511.1 819.8h7.4l-3.7 -6.8zM251.9 540h7.4l-3.7 -6.8zM181.8 490h7.4l-3.7 -6.8zM520.5 822.1h7.4l-3.7 -6.8zM428.4 186h7.4l-3.7 -6.8zM527.6 500.1h7.4l-3.7 -6.8zM146.8 197.1h7.4l-3.7 -6.8zM124.9 205.7h7.4l-3.7 -6.8zM199.8 215.1h7.4l-3.7 -6.8zM85.3 190.5h7.4l-3.7 -6.8zM173.6 846.6h7.4l-3.7 -6.8zM106.3 157.8h7.4l-3.7 -6.8zM211.4 805.7h7.4l-3.7 -6.8zM561.9 493h7.4l-3.7 -6.8z"/>
<path class="mp" d="M308.5 529.8h5.2v5.2h-5.2zM459.8 113.3h5.2v5.2h-5.2zM537.6 490.5h5.2v5.2h-5.2zM622.1 826.3h5.2v5.2h-5.2zM497.2 190.9h5.2v5.2h-5.2zM217.9 785h5.2v5.2h-5.2zM237.6 768.2h5.2v5.2h-5.2zM610 850.3h5.2v5.2h-5.2zM301.8 509.3h5.2v5.2h-5.2z"/>
<circle class="mb" cx="123.5" cy="861" r="2.85"/>
<circle class="mb" cx="579.4" cy="518.5" r="2.85"/>
<circle class="mb" cx="573.5" cy="515.5" r="2.85"/>
<circle class="mb" cx="598.1" cy="871.7" r="2.85"/>
<path class="mg" d="M590.8 513.4h7.4l-3.7 -6.8zM426.6 182.9h7.4l-3.7 -6.8zM569.4 518.8h7.4l-3.7 -6.8zM513.9 504.2h7.4l-3.7 -6.8zM222.2 829.7h7.4l-3.7 -6.8zM490.9 204h7.4l-3.7 -6.8zM575.7 504.1h7.4l-3.7 -6.8zM550.3 852.5h7.4l-3.7 -6.8zM317.8 807.4h7.4l-3.7 -6.8zM568 503.5h7.4l-3.7 -6.8zM453.1 206.9h7.4l-3.7 -6.8z"/>
<path class="mp" d="M646.7 213.5h5.2v5.2h-5.2zM250.7 836.1h5.2v5.2h-5.2zM498.4 512.2h5.2v5.2h-5.2zM202.6 220.6h5.2v5.2h-5.2zM241.3 847.3h5.2v5.2h-5.2zM531.2 517.9h5.2v5.2h-5.2zM109.3 161.6h5.2v5.2h-5.2zM188 184.2h5.2v5.2h-5.2zM334.3 496.6h5.2v5.2h-5.2zM611.4 482.5h5.2v5.2h-5.2z"/>
<circle class="mb" cx="595.7" cy="833.5" r="2.85"/>
<circle class="mb" cx="541.8" cy="845.4" r="2.85"/>
<path class="mg" d="M176.9 214.7h7.4l-3.7 -6.8zM434 818.2h7.4l-3.7 -6.8zM181.3 179.2h7.4l-3.7 -6.8zM521.4 479.8h7.4l-3.7 -6.8zM130.6 155.5h7.4l-3.7 -6.8zM168.6 846.5h7.4l-3.7 -6.8zM168.9 469.5h7.4l-3.7 -6.8zM318 801.3h7.4l-3.7 -6.8zM100.7 154.1h7.4l-3.7 -6.8zM102.8 155.7h7.4l-3.7 -6.8zM519.5 796.5h7.4l-3.7 -6.8zM123.6 485.2h7.4l-3.7 -6.8z"/>
<path class="mp" d="M531.1 496.3h5.2v5.2h-5.2zM494.8 504.3h5.2v5.2h-5.2zM244.4 794.9h5.2v5.2h-5.2zM234.2 801.8h5.2v5.2h-5.2zM600.6 821.5h5.2v5.2h-5.2zM224.1 857.5h5.2v5.2h-5.2zM500.8 508.3h5.2v5.2h-5.2zM462.7 168.2h5.2v5.2h-5.2zM600.6 486.9h5.2v5.2h-5.2zM271.2 486.6h5.2v5.2h-5.2zM235.3 471.2h5.2v5.2h-5.2z"/>
<circle class="mb" cx="492" cy="203.2" r="2.85"/>
<circle class="mb" cx="319.8" cy="275" r="2.85"/>
<circle class="mb" cx="562" cy="485.1" r="2.85"/>
<circle class="mb" cx="647" cy="871.6" r="2.85"/>
<path class="mg" d="M132.5 200.7h7.4l-3.7 -6.8zM496.4 209.7h7.4l-3.7 -6.8zM146.3 858.1h7.4l-3.7 -6.8zM528.3 234.4h7.4l-3.7 -6.8zM602.7 489.9h7.4l-3.7 -6.8zM148.9 836.4h7.4l-3.7 -6.8zM214 487.1h7.4l-3.7 -6.8zM510.2 562.1h7.4l-3.7 -6.8zM238.8 831.9h7.4l-3.7 -6.8z"/>
<path class="mp" d="M445.1 186.9h5.2v5.2h-5.2zM260.7 486.5h5.2v5.2h-5.2zM321.9 502.4h5.2v5.2h-5.2zM285.3 473.3h5.2v5.2h-5.2zM519.7 205.7h5.2v5.2h-5.2zM557.5 824.1h5.2v5.2h-5.2zM121 153.5h5.2v5.2h-5.2z"/>
<circle class="mb" cx="558.9" cy="481" r="2.85"/>
<circle class="mb" cx="633.2" cy="872.5" r="2.85"/>
<circle class="mb" cx="468.6" cy="223.1" r="2.85"/>
<circle class="mb" cx="171.5" cy="199.4" r="2.85"/>
<circle class="mb" cx="534.8" cy="221.4" r="2.85"/>
<path class="mg" d="M482.7 525.4h7.4l-3.7 -6.8zM457.2 179.9h7.4l-3.7 -6.8zM490.3 214.2h7.4l-3.7 -6.8zM548.8 903.8h7.4l-3.7 -6.8zM200.8 826.4h7.4l-3.7 -6.8zM487.8 204.7h7.4l-3.7 -6.8zM146.5 177.3h7.4l-3.7 -6.8zM547.1 510.5h7.4l-3.7 -6.8zM203.5 808.6h7.4l-3.7 -6.8zM97.6 188h7.4l-3.7 -6.8zM473.4 219.9h7.4l-3.7 -6.8zM527.4 171.2h7.4l-3.7 -6.8z"/>
<path class="mp" d="M244.7 788.3h5.2v5.2h-5.2zM327.6 487.5h5.2v5.2h-5.2zM416.5 156.9h5.2v5.2h-5.2zM575.7 489.5h5.2v5.2h-5.2zM177.9 212.8h5.2v5.2h-5.2zM122.4 894.2h5.2v5.2h-5.2zM569 858.5h5.2v5.2h-5.2zM612 767.1h5.2v5.2h-5.2z"/>
<circle class="mb" cx="201.5" cy="496.2" r="2.85"/>
<circle class="mb" cx="589.5" cy="834.1" r="2.85"/>
<circle class="mb" cx="581.6" cy="490.6" r="2.85"/>
<circle class="mb" cx="586.4" cy="843.7" r="2.85"/>
<circle class="mb" cx="217.9" cy="810.2" r="2.85"/>
<circle class="mb" cx="497.5" cy="104.2" r="2.85"/>
<circle class="mb" cx="599.8" cy="875.4" r="2.85"/>
<path class="mg" d="M582.3 514.8h7.4l-3.7 -6.8zM525.2 174.9h7.4l-3.7 -6.8zM173.5 207.1h7.4l-3.7 -6.8zM334.8 823.6h7.4l-3.7 -6.8zM84.9 170.2h7.4l-3.7 -6.8zM136.4 505.8h7.4l-3.7 -6.8zM84.6 172.5h7.4l-3.7 -6.8zM206.9 483.4h7.4l-3.7 -6.8zM487.9 841.3h7.4l-3.7 -6.8z"/>
<path class="mp" d="M194.5 213.3h5.2v5.2h-5.2zM315.2 458.4h5.2v5.2h-5.2zM444.5 183.4h5.2v5.2h-5.2zM325.8 475.3h5.2v5.2h-5.2zM230.3 794.8h5.2v5.2h-5.2zM229.1 797.3h5.2v5.2h-5.2zM551.6 230h5.2v5.2h-5.2zM313.5 526h5.2v5.2h-5.2zM209.6 465h5.2v5.2h-5.2z"/>
<circle class="mb" cx="563.9" cy="496.2" r="2.85"/>
<circle class="mb" cx="562" cy="500.5" r="2.85"/>
<circle class="mb" cx="553.2" cy="544.5" r="2.85"/>
<circle class="mb" cx="640.8" cy="888.4" r="2.85"/>
<circle class="mb" cx="226.2" cy="545" r="2.85"/>
<circle class="mb" cx="602.5" cy="849.5" r="2.85"/>
<circle class="mb" cx="181" cy="854.5" r="2.85"/>
<circle class="mb" cx="158.8" cy="869.2" r="2.85"/>
<path class="mg" d="M176.6 812.3h7.4l-3.7 -6.8zM205.3 795.4h7.4l-3.7 -6.8zM580.5 852.9h7.4l-3.7 -6.8zM440 813.7h7.4l-3.7 -6.8zM163.1 211.6h7.4l-3.7 -6.8zM254.7 874.1h7.4l-3.7 -6.8zM154.1 210.3h7.4l-3.7 -6.8z"/>
<path class="mp" d="M529.5 834h5.2v5.2h-5.2zM302.7 512.6h5.2v5.2h-5.2zM282.6 498h5.2v5.2h-5.2zM280.5 464.3h5.2v5.2h-5.2zM574.3 176.1h5.2v5.2h-5.2zM473.3 196.4h5.2v5.2h-5.2zM310.7 486.1h5.2v5.2h-5.2zM244.5 796.9h5.2v5.2h-5.2zM607.7 846.1h5.2v5.2h-5.2zM232.4 247.8h5.2v5.2h-5.2zM276 482.7h5.2v5.2h-5.2zM102.9 158.1h5.2v5.2h-5.2zM314.6 499.6h5.2v5.2h-5.2zM165.8 179.6h5.2v5.2h-5.2zM203.2 202.3h5.2v5.2h-5.2zM575.3 460h5.2v5.2h-5.2zM96.8 112.4h5.2v5.2h-5.2zM529.5 814h5.2v5.2h-5.2z"/>
<circle class="mb" cx="555.4" cy="849.6" r="2.85"/>
<path class="mg" d="M475.6 182.4h7.4l-3.7 -6.8zM537.9 823.7h7.4l-3.7 -6.8zM510.7 519.1h7.4l-3.7 -6.8zM526.5 827.5h7.4l-3.7 -6.8zM505.6 172.4h7.4l-3.7 -6.8z"/>
<path class="mp" d="M245.6 831.5h5.2v5.2h-5.2zM619.7 475.2h5.2v5.2h-5.2zM325.2 483.8h5.2v5.2h-5.2zM239.8 815.9h5.2v5.2h-5.2zM450.5 214.2h5.2v5.2h-5.2zM549 518.7h5.2v5.2h-5.2z"/>
<circle class="mb" cx="541.5" cy="530" r="2.85"/>
<circle class="mb" cx="562.6" cy="482.1" r="2.85"/>
<circle class="mb" cx="504.7" cy="229.9" r="2.85"/>
<circle class="mb" cx="579.3" cy="843.9" r="2.85"/>
<circle class="mb" cx="98.6" cy="887.2" r="2.85"/>
<circle class="mb" cx="626.6" cy="844" r="2.85"/>
<circle class="mb" cx="465.5" cy="211.5" r="2.85"/>
<circle class="mb" cx="629.1" cy="864.1" r="2.85"/>
<circle class="mb" cx="153.4" cy="501.8" r="2.85"/>
<circle class="mb" cx="175.9" cy="179.9" r="2.85"/>
<path class="mg" d="M549.2 552.3h7.4l-3.7 -6.8zM446.9 178.1h7.4l-3.7 -6.8zM172 832h7.4l-3.7 -6.8zM252.4 537.7h7.4l-3.7 -6.8zM541.8 538.5h7.4l-3.7 -6.8zM510.4 198.2h7.4l-3.7 -6.8zM93.7 182.2h7.4l-3.7 -6.8zM265.7 559.4h7.4l-3.7 -6.8z"/>
<path class="mp" d="M609.8 493.8h5.2v5.2h-5.2zM557.7 491.1h5.2v5.2h-5.2zM529.1 795.4h5.2v5.2h-5.2zM227.2 501h5.2v5.2h-5.2zM635.4 798.6h5.2v5.2h-5.2zM552.6 836.1h5.2v5.2h-5.2zM598.7 521.5h5.2v5.2h-5.2zM305.6 530.2h5.2v5.2h-5.2zM578.1 830.1h5.2v5.2h-5.2zM608.3 826.7h5.2v5.2h-5.2zM540.8 836.3h5.2v5.2h-5.2z"/>
<circle class="mb" cx="594.4" cy="226.1" r="2.85"/>
<circle class="mb" cx="149.9" cy="515.8" r="2.85"/>
<circle class="mb" cx="621.6" cy="808" r="2.85"/>
<circle class="mb" cx="82.9" cy="542.9" r="2.85"/>
<circle class="mb" cx="570.4" cy="489.2" r="2.85"/>
<circle class="mb" cx="467.1" cy="240.1" r="2.85"/>
<circle class="mb" cx="191.5" cy="190.5" r="2.85"/>
<path class="mg" d="M605.3 510.6h7.4l-3.7 -6.8zM468.3 199.4h7.4l-3.7 -6.8zM182 888.8h7.4l-3.7 -6.8zM525.9 814.6h7.4l-3.7 -6.8zM125.5 187h7.4l-3.7 -6.8zM202.6 232.3h7.4l-3.7 -6.8z"/>
<path class="mp" d="M528.5 800.8h5.2v5.2h-5.2zM573.4 844.5h5.2v5.2h-5.2zM129.1 169.4h5.2v5.2h-5.2zM533 831.8h5.2v5.2h-5.2zM326.8 497.1h5.2v5.2h-5.2zM271.9 499h5.2v5.2h-5.2zM627 499.3h5.2v5.2h-5.2zM292.9 470.4h5.2v5.2h-5.2zM599.3 822.8h5.2v5.2h-5.2zM315.4 447.8h5.2v5.2h-5.2zM478.2 202.8h5.2v5.2h-5.2z"/>
<circle class="mb" cx="528.9" cy="222.3" r="2.85"/>
<circle class="mb" cx="617.8" cy="245.4" r="2.85"/>
<circle class="mb" cx="146.4" cy="471.9" r="2.85"/>
<circle class="mb" cx="153.4" cy="549.2" r="2.85"/>
<circle class="mb" cx="94.6" cy="907.7" r="2.85"/>
<circle class="mb" cx="178.5" cy="410.7" r="2.85"/>
<circle class="mb" cx="264.4" cy="809.7" r="2.85"/>
<path class="mg" d="M543.8 208.6h7.4l-3.7 -6.8zM552.7 494h7.4l-3.7 -6.8zM159.1 181.8h7.4l-3.7 -6.8zM195.9 205.5h7.4l-3.7 -6.8zM173.4 801.9h7.4l-3.7 -6.8zM300.1 480.6h7.4l-3.7 -6.8z"/>
<path class="mp" d="M317.2 507.8h5.2v5.2h-5.2zM617.4 493.8h5.2v5.2h-5.2zM423.9 164.9h5.2v5.2h-5.2zM597.7 829.7h5.2v5.2h-5.2zM620.2 506.8h5.2v5.2h-5.2z"/>
<circle class="mb" cx="538" cy="501.2" r="2.85"/>
<circle class="mb" cx="588.6" cy="872.2" r="2.85"/>
<circle class="mb" cx="600.4" cy="840.9" r="2.85"/>
<circle class="mb" cx="186.4" cy="234.9" r="2.85"/>
<circle class="mb" cx="588.9" cy="850" r="2.85"/>
<circle class="mb" cx="144.6" cy="184.1" r="2.85"/>
<circle class="mb" cx="294.6" cy="217.7" r="2.85"/>
<circle class="mb" cx="647" cy="815.1" r="2.85"/>
<path class="mg" d="M246.5 502.6h7.4l-3.7 -6.8zM259.9 496h7.4l-3.7 -6.8zM577.7 903.8h7.4l-3.7 -6.8zM168.3 492.3h7.4l-3.7 -6.8zM268.4 493.7h7.4l-3.7 -6.8zM253.7 489.9h7.4l-3.7 -6.8zM303.9 522.1h7.4l-3.7 -6.8zM566.7 861.3h7.4l-3.7 -6.8zM551.4 865.5h7.4l-3.7 -6.8zM448.9 480.5h7.4l-3.7 -6.8zM534.1 827.1h7.4l-3.7 -6.8z"/>
<path class="mp" d="M243.4 767.1h5.2v5.2h-5.2zM570 513.1h5.2v5.2h-5.2zM313.5 442.6h5.2v5.2h-5.2zM72.3 139.4h5.2v5.2h-5.2zM273.1 499.1h5.2v5.2h-5.2zM194.1 537h5.2v5.2h-5.2zM617 491.4h5.2v5.2h-5.2zM545.4 486h5.2v5.2h-5.2zM575.5 508.4h5.2v5.2h-5.2zM456.4 173.7h5.2v5.2h-5.2zM474 148.9h5.2v5.2h-5.2z"/>
<circle class="mb" cx="628" cy="858.4" r="2.85"/>
<circle class="mb" cx="595.5" cy="862.2" r="2.85"/>
<circle class="mb" cx="170.7" cy="144" r="2.85"/>
<circle class="mb" cx="223.4" cy="203" r="2.85"/>
<circle class="mb" cx="636.1" cy="841.6" r="2.85"/>
<circle class="mb" cx="614.1" cy="869.2" r="2.85"/>
<circle class="mb" cx="572.7" cy="855.3" r="2.85"/>
<circle class="mb" cx="576.2" cy="482.1" r="2.85"/>
<path class="mg" d="M480.7 182.7h7.4l-3.7 -6.8zM117.2 182h7.4l-3.7 -6.8zM120.8 164.9h7.4l-3.7 -6.8zM211.4 508.1h7.4l-3.7 -6.8zM605.5 828.7h7.4l-3.7 -6.8z"/>
<path class="mp" d="M211.9 199.6h5.2v5.2h-5.2zM551.6 192.5h5.2v5.2h-5.2zM111.3 175.7h5.2v5.2h-5.2zM615.3 843h5.2v5.2h-5.2zM293.2 468.7h5.2v5.2h-5.2zM289.4 489.1h5.2v5.2h-5.2zM524.6 479.8h5.2v5.2h-5.2zM479 184.3h5.2v5.2h-5.2zM550.7 505.5h5.2v5.2h-5.2z"/>
<circle class="mb" cx="611.9" cy="222.6" r="2.85"/>
<circle class="mb" cx="576.6" cy="538.6" r="2.85"/>
<circle class="mb" cx="245.1" cy="197.9" r="2.85"/>
<circle class="mb" cx="255.7" cy="852.4" r="2.85"/>
<circle class="mb" cx="578.4" cy="852.2" r="2.85"/>
<circle class="mb" cx="106.3" cy="842.3" r="2.85"/>
<circle class="mb" cx="249.5" cy="210.4" r="2.85"/>
<circle class="mb" cx="305.6" cy="227.1" r="2.85"/>
<path class="mg" d="M276.4 832h7.4l-3.7 -6.8zM503.6 188.2h7.4l-3.7 -6.8zM492.6 501.9h7.4l-3.7 -6.8zM463.4 505.6h7.4l-3.7 -6.8zM212.3 484.4h7.4l-3.7 -6.8zM432.5 167h7.4l-3.7 -6.8zM202.8 231.9h7.4l-3.7 -6.8z"/>
<path class="mp" d="M298.1 498.3h5.2v5.2h-5.2zM581.7 494h5.2v5.2h-5.2zM601.7 571h5.2v5.2h-5.2zM511.9 788.8h5.2v5.2h-5.2zM599.2 493h5.2v5.2h-5.2zM611 502.5h5.2v5.2h-5.2zM219.8 838.1h5.2v5.2h-5.2zM242.6 852.5h5.2v5.2h-5.2zM183.1 545.9h5.2v5.2h-5.2zM310 498.7h5.2v5.2h-5.2zM110.5 155.7h5.2v5.2h-5.2zM302.8 474.5h5.2v5.2h-5.2zM436.8 190.1h5.2v5.2h-5.2z"/>
<circle class="mb" cx="178.3" cy="183.5" r="2.85"/>
<circle class="mb" cx="582.6" cy="780.2" r="2.85"/>
<path class="mg" d="M122.9 174.2h7.4l-3.7 -6.8zM205.5 493.3h7.4l-3.7 -6.8zM518.9 909.6h7.4l-3.7 -6.8zM111.2 154.5h7.4l-3.7 -6.8zM261.7 531.5h7.4l-3.7 -6.8zM484.9 485.8h7.4l-3.7 -6.8zM169.1 811.9h7.4l-3.7 -6.8zM223.3 495.3h7.4l-3.7 -6.8zM221.1 500.8h7.4l-3.7 -6.8z"/>
<path class="mp" d="M591.3 476.2h5.2v5.2h-5.2zM247.6 533h5.2v5.2h-5.2zM630.2 454.1h5.2v5.2h-5.2zM328.2 464.1h5.2v5.2h-5.2zM109.9 151h5.2v5.2h-5.2zM569.3 433.1h5.2v5.2h-5.2zM220.8 803.8h5.2v5.2h-5.2zM218.1 831.9h5.2v5.2h-5.2zM598.5 508.2h5.2v5.2h-5.2z"/>
<circle class="mb" cx="169.3" cy="527.9" r="2.85"/>
<circle class="mb" cx="526.9" cy="205.3" r="2.85"/>
<circle class="mb" cx="232" cy="466" r="2.85"/>
<circle class="mb" cx="120.7" cy="531.7" r="2.85"/>
<circle class="mb" cx="527.9" cy="205.2" r="2.85"/>
<circle class="mb" cx="637.6" cy="900.6" r="2.85"/>
<circle class="mb" cx="622.1" cy="868.9" r="2.85"/>
<path class="mg" d="M197.6 584.6h7.4l-3.7 -6.8zM601.5 508h7.4l-3.7 -6.8zM105.6 193.2h7.4l-3.7 -6.8zM637.8 835.5h7.4l-3.7 -6.8zM208.4 233.4h7.4l-3.7 -6.8zM484 791.6h7.4l-3.7 -6.8zM182.5 813.7h7.4l-3.7 -6.8zM199 510.3h7.4l-3.7 -6.8z"/>
<path class="mp" d="M100.5 136.5h5.2v5.2h-5.2zM316.2 466.1h5.2v5.2h-5.2zM250 832.4h5.2v5.2h-5.2zM526.4 793h5.2v5.2h-5.2zM587.4 509.8h5.2v5.2h-5.2zM253.3 854.6h5.2v5.2h-5.2zM127.8 189.5h5.2v5.2h-5.2zM427.1 187.3h5.2v5.2h-5.2z"/>
<circle class="mb" cx="560.9" cy="476.2" r="2.85"/>
<circle class="mb" cx="562.3" cy="484.6" r="2.85"/>
<circle class="mb" cx="144.6" cy="173.6" r="2.85"/>
<circle class="mb" cx="512.9" cy="178.6" r="2.85"/>
<circle class="mb" cx="588.9" cy="874.3" r="2.85"/>
<circle class="mb" cx="581.1" cy="824.9" r="2.85"/>
<circle class="mb" cx="146.4" cy="539.1" r="2.85"/>
<path class="mg" d="M117.6 175.5h7.4l-3.7 -6.8zM474 161.7h7.4l-3.7 -6.8zM473.3 155.8h7.4l-3.7 -6.8zM199.2 509.2h7.4l-3.7 -6.8zM167.3 504h7.4l-3.7 -6.8zM163.9 841h7.4l-3.7 -6.8zM510.5 176.7h7.4l-3.7 -6.8zM619 850.2h7.4l-3.7 -6.8zM162.1 861.4h7.4l-3.7 -6.8z"/>
<path class="mp" d="M574.3 857.3h5.2v5.2h-5.2zM252 793.5h5.2v5.2h-5.2zM235.3 798.8h5.2v5.2h-5.2zM222.4 840.6h5.2v5.2h-5.2zM197.3 202.2h5.2v5.2h-5.2zM244.4 786.4h5.2v5.2h-5.2zM589.1 874h5.2v5.2h-5.2zM326.6 798.6h5.2v5.2h-5.2zM619.1 816.4h5.2v5.2h-5.2zM285 470.1h5.2v5.2h-5.2zM244.2 841h5.2v5.2h-5.2z"/>
<circle class="mb" cx="539.8" cy="496.4" r="2.85"/>
<circle class="mb" cx="586.9" cy="214.9" r="2.85"/>
<circle class="mb" cx="230.8" cy="222.7" r="2.85"/>
<circle class="mb" cx="550.5" cy="531.1" r="2.85"/>
<circle class="mb" cx="564.8" cy="503.5" r="2.85"/>
<path class="mg" d="M458.7 810.9h7.4l-3.7 -6.8zM443.5 174.3h7.4l-3.7 -6.8zM433 832h7.4l-3.7 -6.8zM406.2 131.9h7.4l-3.7 -6.8zM295.6 819.8h7.4l-3.7 -6.8zM514.6 212.2h7.4l-3.7 -6.8zM479.3 500.8h7.4l-3.7 -6.8zM306.6 803.5h7.4l-3.7 -6.8z"/>
<path class="mp" d="M238.3 482.7h5.2v5.2h-5.2zM641 505.1h5.2v5.2h-5.2zM566.9 847.5h5.2v5.2h-5.2zM126 185.2h5.2v5.2h-5.2zM260 768.9h5.2v5.2h-5.2zM571.4 498.6h5.2v5.2h-5.2zM608 481.8h5.2v5.2h-5.2zM276.2 513.6h5.2v5.2h-5.2zM418.5 163.5h5.2v5.2h-5.2z"/>
<circle class="mb" cx="594" cy="850.7" r="2.85"/>
<circle class="mb" cx="224.6" cy="806.3" r="2.85"/>
<circle class="mb" cx="571.5" cy="551" r="2.85"/>
<circle class="mb" cx="92.7" cy="531.2" r="2.85"/>
<circle class="mb" cx="566.8" cy="551.3" r="2.85"/>
<circle class="mb" cx="605.3" cy="744.2" r="2.85"/>
<path class="mg" d="M522.6 488.2h7.4l-3.7 -6.8zM492.9 164.2h7.4l-3.7 -6.8zM417.9 846h7.4l-3.7 -6.8zM517.1 844.8h7.4l-3.7 -6.8zM219 483.4h7.4l-3.7 -6.8zM269.9 264.9h7.4l-3.7 -6.8zM179.6 814.4h7.4l-3.7 -6.8zM285.5 804.4h7.4l-3.7 -6.8zM112.1 196h7.4l-3.7 -6.8z"/>
<path class="mp" d="M214.8 827.5h5.2v5.2h-5.2zM252.3 517.4h5.2v5.2h-5.2zM440.4 197.8h5.2v5.2h-5.2zM216.6 807.3h5.2v5.2h-5.2zM82.8 157.6h5.2v5.2h-5.2zM223.1 868.3h5.2v5.2h-5.2zM560.5 496.4h5.2v5.2h-5.2zM251.5 839.5h5.2v5.2h-5.2zM287.2 511.6h5.2v5.2h-5.2zM494.7 522.6h5.2v5.2h-5.2z"/>
<circle class="mb" cx="567.8" cy="551" r="2.85"/>
<circle class="mb" cx="140.2" cy="212.7" r="2.85"/>
<circle class="mb" cx="597.9" cy="729.8" r="2.85"/>
<circle class="mb" cx="231.7" cy="806.8" r="2.85"/>
<circle class="mb" cx="173.2" cy="858.1" r="2.85"/>
<circle class="mb" cx="153.4" cy="542.6" r="2.85"/>
<circle class="mb" cx="474.7" cy="191.1" r="2.85"/>
<circle class="mb" cx="571.1" cy="554.6" r="2.85"/>
<path class="mg" d="M254 851.8h7.4l-3.7 -6.8zM589 807.1h7.4l-3.7 -6.8zM470.6 810.2h7.4l-3.7 -6.8zM466.9 519.5h7.4l-3.7 -6.8zM303.8 830.8h7.4l-3.7 -6.8zM184.3 554.7h7.4l-3.7 -6.8z"/>
<path class="mp" d="M301.3 493h5.2v5.2h-5.2zM187 808.4h5.2v5.2h-5.2zM599.2 811.5h5.2v5.2h-5.2zM555.3 482h5.2v5.2h-5.2zM490.2 823.4h5.2v5.2h-5.2zM582.6 886.8h5.2v5.2h-5.2zM449.3 798.1h5.2v5.2h-5.2zM222.8 839.1h5.2v5.2h-5.2zM568.7 520.3h5.2v5.2h-5.2zM442.8 196.2h5.2v5.2h-5.2zM269 521.6h5.2v5.2h-5.2z"/>
<circle class="mb" cx="210.7" cy="786" r="2.85"/>
<circle class="mb" cx="95.7" cy="180.9" r="2.85"/>
<circle class="mb" cx="573.8" cy="544.9" r="2.85"/>
<circle class="mb" cx="642.8" cy="847.1" r="2.85"/>
<circle class="mb" cx="179" cy="730.7" r="2.85"/>
<path class="mg" d="M587.3 844.4h7.4l-3.7 -6.8zM193 878.9h7.4l-3.7 -6.8zM64.7 170.1h7.4l-3.7 -6.8zM245.1 483.2h7.4l-3.7 -6.8zM268.1 828.4h7.4l-3.7 -6.8zM505 185.6h7.4l-3.7 -6.8zM209.6 874.1h7.4l-3.7 -6.8zM110.8 198.1h7.4l-3.7 -6.8z"/>
<path class="mp" d="M544.5 791h5.2v5.2h-5.2zM509.9 834h5.2v5.2h-5.2zM229.9 830.6h5.2v5.2h-5.2zM599.7 856.1h5.2v5.2h-5.2zM316.2 483.4h5.2v5.2h-5.2zM616.8 483.4h5.2v5.2h-5.2zM494.9 523h5.2v5.2h-5.2zM229.2 850.1h5.2v5.2h-5.2zM248.3 533.8h5.2v5.2h-5.2zM613.8 840.1h5.2v5.2h-5.2zM300.5 494.3h5.2v5.2h-5.2zM616.8 823h5.2v5.2h-5.2z"/>
<circle class="mb" cx="587.1" cy="819.5" r="2.85"/>
<circle class="mb" cx="121.9" cy="849.8" r="2.85"/>
<circle class="mb" cx="167.5" cy="536.8" r="2.85"/>
<circle class="mb" cx="578.4" cy="547.6" r="2.85"/>
<path class="mg" d="M554.7 188.1h7.4l-3.7 -6.8zM175.6 222.5h7.4l-3.7 -6.8zM513.5 169.4h7.4l-3.7 -6.8zM258.6 804.5h7.4l-3.7 -6.8zM181.6 795.8h7.4l-3.7 -6.8zM177.5 193.4h7.4l-3.7 -6.8zM319.3 813.8h7.4l-3.7 -6.8zM425.7 177.8h7.4l-3.7 -6.8z"/>
<path class="mp" d="M289.2 449.4h5.2v5.2h-5.2zM238.7 793.3h5.2v5.2h-5.2zM294.9 504.3h5.2v5.2h-5.2zM545.5 808.3h5.2v5.2h-5.2zM420.5 159h5.2v5.2h-5.2zM266.5 511.3h5.2v5.2h-5.2zM175 220.6h5.2v5.2h-5.2zM278.1 506.9h5.2v5.2h-5.2zM251.2 845.2h5.2v5.2h-5.2zM307 480.1h5.2v5.2h-5.2z"/>
<circle class="mb" cx="560.9" cy="853.3" r="2.85"/>
<circle class="mb" cx="513.2" cy="203.8" r="2.85"/>
<circle class="mb" cx="626.4" cy="838.6" r="2.85"/>
<circle class="mb" cx="104.9" cy="818.3" r="2.85"/>
<circle class="mb" cx="83.4" cy="909.6" r="2.85"/>
<path class="mg" d="M447 811.6h7.4l-3.7 -6.8zM592.3 811.7h7.4l-3.7 -6.8zM589.4 838.1h7.4l-3.7 -6.8zM503.4 203h7.4l-3.7 -6.8zM595.4 498.1h7.4l-3.7 -6.8zM206.9 220.9h7.4l-3.7 -6.8zM114.5 156.2h7.4l-3.7 -6.8zM477.6 173.2h7.4l-3.7 -6.8zM433.2 813.5h7.4l-3.7 -6.8z"/>
<path class="mp" d="M183.2 196.7h5.2v5.2h-5.2zM212.6 835.7h5.2v5.2h-5.2zM229.4 249.8h5.2v5.2h-5.2zM553.7 167.5h5.2v5.2h-5.2zM268.8 506.2h5.2v5.2h-5.2zM179.8 467.9h5.2v5.2h-5.2zM610.7 485.1h5.2v5.2h-5.2zM251 842.1h5.2v5.2h-5.2zM269.3 490.4h5.2v5.2h-5.2zM286.3 498.2h5.2v5.2h-5.2z"/>
<circle class="mb" cx="523.3" cy="205" r="2.85"/>
<circle class="mb" cx="534.9" cy="833.9" r="2.85"/>
<circle class="mb" cx="140.1" cy="213" r="2.85"/>
<circle class="mb" cx="124.2" cy="583.8" r="2.85"/>
<circle class="mb" cx="316.1" cy="206.1" r="2.85"/>
<circle class="mb" cx="558.9" cy="503.2" r="2.85"/>
<path class="mg" d="M160.3 811.7h7.4l-3.7 -6.8zM535 172.9h7.4l-3.7 -6.8zM605.8 873.4h7.4l-3.7 -6.8zM521.3 510.2h7.4l-3.7 -6.8zM334.1 824.7h7.4l-3.7 -6.8zM541.5 811.7h7.4l-3.7 -6.8zM467.1 181h7.4l-3.7 -6.8zM199.1 213.6h7.4l-3.7 -6.8z"/>
<path class="mp" d="M301.5 523h5.2v5.2h-5.2zM257.4 830.4h5.2v5.2h-5.2zM440.7 232.8h5.2v5.2h-5.2zM305.7 517.7h5.2v5.2h-5.2zM592.2 862h5.2v5.2h-5.2zM606.6 790.9h5.2v5.2h-5.2zM495.6 202.7h5.2v5.2h-5.2zM447.8 160h5.2v5.2h-5.2zM547.9 535.4h5.2v5.2h-5.2zM552 807.5h5.2v5.2h-5.2zM452.9 198.1h5.2v5.2h-5.2z"/>
<circle class="mb" cx="218.7" cy="798.9" r="2.85"/>
<circle class="mb" cx="584.8" cy="872.5" r="2.85"/>
<circle class="mb" cx="549.6" cy="221.5" r="2.85"/>
<path class="mg" d="M143 187.9h7.4l-3.7 -6.8zM532.8 516.9h7.4l-3.7 -6.8zM473.4 208.8h7.4l-3.7 -6.8zM172.8 841h7.4l-3.7 -6.8zM578.7 529.7h7.4l-3.7 -6.8zM186.1 205.8h7.4l-3.7 -6.8zM281.9 819.4h7.4l-3.7 -6.8zM230 476.6h7.4l-3.7 -6.8zM239.7 483.3h7.4l-3.7 -6.8zM121.6 152.6h7.4l-3.7 -6.8z"/>
<path class="mp" d="M269.8 535.4h5.2v5.2h-5.2zM249.3 807.9h5.2v5.2h-5.2zM245.9 832.5h5.2v5.2h-5.2zM556.3 856.9h5.2v5.2h-5.2zM174.7 490.2h5.2v5.2h-5.2zM545.5 202.1h5.2v5.2h-5.2zM523.6 168h5.2v5.2h-5.2zM209.9 491.7h5.2v5.2h-5.2z"/>
<circle class="mb" cx="91.1" cy="854.5" r="2.85"/>
<circle class="mb" cx="590.9" cy="211" r="2.85"/>
<circle class="mb" cx="109.1" cy="809.6" r="2.85"/>
<circle class="mb" cx="127.7" cy="865.7" r="2.85"/>
<circle class="mb" cx="151.1" cy="548" r="2.85"/>
<circle class="mb" cx="480.5" cy="167.8" r="2.85"/>
<circle class="mb" cx="560.1" cy="562.3" r="2.85"/>
<path class="mg" d="M179 820.1h7.4l-3.7 -6.8zM440.3 822.9h7.4l-3.7 -6.8zM512 242.1h7.4l-3.7 -6.8zM215.5 561h7.4l-3.7 -6.8zM559.3 482.5h7.4l-3.7 -6.8zM520.8 829.2h7.4l-3.7 -6.8zM201.6 494.9h7.4l-3.7 -6.8zM162.9 203h7.4l-3.7 -6.8zM483.2 482.9h7.4l-3.7 -6.8z"/>
<path class="mp" d="M602.1 477.9h5.2v5.2h-5.2zM496 811h5.2v5.2h-5.2zM241.8 520.5h5.2v5.2h-5.2zM256.2 467.4h5.2v5.2h-5.2zM84.7 146.7h5.2v5.2h-5.2zM231.5 487.5h5.2v5.2h-5.2zM590.8 484.9h5.2v5.2h-5.2zM94.1 155.6h5.2v5.2h-5.2zM632.3 490.9h5.2v5.2h-5.2z"/>
<circle class="mb" cx="136.4" cy="861" r="2.85"/>
<circle class="mb" cx="627" cy="843.5" r="2.85"/>
<circle class="mb" cx="155.8" cy="534.5" r="2.85"/>
<circle class="mb" cx="171.3" cy="863.2" r="2.85"/>
<circle class="mb" cx="627.4" cy="847" r="2.85"/>
<circle class="mb" cx="552.1" cy="496.5" r="2.85"/>
<circle class="mb" cx="603.8" cy="270.4" r="2.85"/>
<path class="mg" d="M300.2 803.5h7.4l-3.7 -6.8zM196.5 552.4h7.4l-3.7 -6.8zM223.2 833.1h7.4l-3.7 -6.8zM461.3 175.7h7.4l-3.7 -6.8zM156.8 515.5h7.4l-3.7 -6.8zM490.4 175.8h7.4l-3.7 -6.8zM163 832.8h7.4l-3.7 -6.8zM514.1 495.5h7.4l-3.7 -6.8z"/>
<path class="mp" d="M506 802.8h5.2v5.2h-5.2zM570.9 839.1h5.2v5.2h-5.2zM629.9 502.3h5.2v5.2h-5.2zM306.1 462.8h5.2v5.2h-5.2zM208.9 815.4h5.2v5.2h-5.2zM534.6 511.3h5.2v5.2h-5.2zM531.7 833.1h5.2v5.2h-5.2zM296.7 469.3h5.2v5.2h-5.2zM313.5 544.3h5.2v5.2h-5.2zM513.9 172.8h5.2v5.2h-5.2z"/>
<circle class="mb" cx="157" cy="526.8" r="2.85"/>
<circle class="mb" cx="232.7" cy="798.4" r="2.85"/>
<circle class="mb" cx="599.1" cy="860.5" r="2.85"/>
<circle class="mb" cx="92.7" cy="546.1" r="2.85"/>
<circle class="mb" cx="570.4" cy="511.8" r="2.85"/>
<path class="mg" d="M296.6 793h7.4l-3.7 -6.8zM453.5 203.8h7.4l-3.7 -6.8zM186.8 818.3h7.4l-3.7 -6.8zM98.1 175h7.4l-3.7 -6.8zM472.1 166.9h7.4l-3.7 -6.8zM318.9 479.5h7.4l-3.7 -6.8zM478.6 180.8h7.4l-3.7 -6.8zM163.5 852.5h7.4l-3.7 -6.8zM227.1 241.6h7.4l-3.7 -6.8z"/>
<path class="mp" d="M607.7 827.4h5.2v5.2h-5.2zM536.3 819.5h5.2v5.2h-5.2zM538.2 804.3h5.2v5.2h-5.2zM520.1 468.1h5.2v5.2h-5.2zM246.6 798.4h5.2v5.2h-5.2z"/>
<circle class="mb" cx="590.9" cy="211.3" r="2.85"/>
<circle class="mb" cx="541" cy="491.4" r="2.85"/>
<circle class="mb" cx="622.8" cy="866.3" r="2.85"/>
<circle class="mb" cx="627.5" cy="844" r="2.85"/>
<circle class="mb" cx="89.2" cy="836.9" r="2.85"/>
<path class="mg" d="M584.6 875.6h7.4l-3.7 -6.8zM148.6 167.2h7.4l-3.7 -6.8zM215.4 209.4h7.4l-3.7 -6.8zM466.7 212h7.4l-3.7 -6.8zM475.1 519.5h7.4l-3.7 -6.8zM115.9 158.4h7.4l-3.7 -6.8zM191.1 837.7h7.4l-3.7 -6.8zM243.6 491.3h7.4l-3.7 -6.8zM467.5 523.1h7.4l-3.7 -6.8zM201 797.2h7.4l-3.7 -6.8zM530.7 208.3h7.4l-3.7 -6.8zM588.5 858h7.4l-3.7 -6.8zM221 503.6h7.4l-3.7 -6.8zM167 813.3h7.4l-3.7 -6.8z"/>
<path class="mp" d="M235.1 798.2h5.2v5.2h-5.2zM275.7 485.4h5.2v5.2h-5.2zM262.3 849.6h5.2v5.2h-5.2zM612.6 828.5h5.2v5.2h-5.2zM299.5 527.9h5.2v5.2h-5.2zM228.4 822.6h5.2v5.2h-5.2zM525.8 507h5.2v5.2h-5.2zM553.8 593.6h5.2v5.2h-5.2zM616.3 839.3h5.2v5.2h-5.2z"/>
<circle class="mb" cx="505.6" cy="234.9" r="2.85"/>
<circle class="mb" cx="240.9" cy="211.2" r="2.85"/>
<circle class="mb" cx="162.2" cy="525.1" r="2.85"/>
<circle class="mb" cx="596.6" cy="514.5" r="2.85"/>
<circle class="mb" cx="570.5" cy="799.4" r="2.85"/>
<circle class="mb" cx="579.9" cy="527.9" r="2.85"/>
<circle class="mb" cx="337.4" cy="232.5" r="2.85"/>
<circle class="mb" cx="223.3" cy="502.5" r="2.85"/>
<path class="mg" d="M96.7 491.6h7.4l-3.7 -6.8zM511.6 165.5h7.4l-3.7 -6.8zM185.9 200.5h7.4l-3.7 -6.8zM572.3 797.6h7.4l-3.7 -6.8zM430.7 802.8h7.4l-3.7 -6.8zM417.7 173.5h7.4l-3.7 -6.8zM521.7 828.9h7.4l-3.7 -6.8z"/>
<path class="mp" d="M213.8 223.3h5.2v5.2h-5.2zM282.3 520.3h5.2v5.2h-5.2zM318.1 513.7h5.2v5.2h-5.2zM455.1 197.1h5.2v5.2h-5.2zM298 518.2h5.2v5.2h-5.2zM274.2 494.5h5.2v5.2h-5.2zM526.4 810.6h5.2v5.2h-5.2zM256.3 781.1h5.2v5.2h-5.2zM635.6 483.1h5.2v5.2h-5.2z"/>
<circle class="mb" cx="599.6" cy="490.1" r="2.85"/>
<circle class="mb" cx="105.1" cy="535.6" r="2.85"/>
<circle class="mb" cx="619.9" cy="900" r="2.85"/>
<circle class="mb" cx="625.4" cy="878.2" r="2.85"/>
<circle class="mb" cx="106.2" cy="199.4" r="2.85"/>
<circle class="mb" cx="638" cy="861.9" r="2.85"/>
<path class="mg" d="M557.7 823.8h7.4l-3.7 -6.8zM537.4 513.1h7.4l-3.7 -6.8zM230.3 815h7.4l-3.7 -6.8zM513 584.5h7.4l-3.7 -6.8zM575.7 556.2h7.4l-3.7 -6.8zM171.9 871.7h7.4l-3.7 -6.8zM182 182.8h7.4l-3.7 -6.8zM462.4 802.9h7.4l-3.7 -6.8zM232.6 833.9h7.4l-3.7 -6.8z"/>
<path class="mp" d="M568.1 497.5h5.2v5.2h-5.2zM335.9 273.5h5.2v5.2h-5.2zM578.8 449.4h5.2v5.2h-5.2zM554.1 506.1h5.2v5.2h-5.2zM585.1 827.1h5.2v5.2h-5.2zM625.4 822.3h5.2v5.2h-5.2zM530.1 166.4h5.2v5.2h-5.2zM216.9 821.9h5.2v5.2h-5.2zM521.4 172.2h5.2v5.2h-5.2zM327 489h5.2v5.2h-5.2zM521.8 213.1h5.2v5.2h-5.2z"/>
<circle class="mb" cx="560.6" cy="534.2" r="2.85"/>
<circle class="mb" cx="557.9" cy="505.4" r="2.85"/>
<circle class="mb" cx="527.6" cy="846.5" r="2.85"/>
<path class="mg" d="M522.7 503.4h7.4l-3.7 -6.8zM521.3 179.9h7.4l-3.7 -6.8zM172.7 818.6h7.4l-3.7 -6.8zM176.1 487.2h7.4l-3.7 -6.8zM452.7 205.5h7.4l-3.7 -6.8zM146.3 201.5h7.4l-3.7 -6.8zM156.3 179.3h7.4l-3.7 -6.8zM556.1 820.5h7.4l-3.7 -6.8zM145.7 206.8h7.4l-3.7 -6.8zM216.7 478.1h7.4l-3.7 -6.8z"/>
<path class="mp" d="M427.1 143.7h5.2v5.2h-5.2zM251.8 851h5.2v5.2h-5.2zM604.2 913.1h5.2v5.2h-5.2zM603.5 852.1h5.2v5.2h-5.2zM506.3 497.7h5.2v5.2h-5.2zM316.2 488.2h5.2v5.2h-5.2zM228.5 450.1h5.2v5.2h-5.2zM229.6 834.1h5.2v5.2h-5.2zM232 889.3h5.2v5.2h-5.2z"/>
<circle class="mb" cx="582.3" cy="261.1" r="2.85"/>
<circle class="mb" cx="106.3" cy="588.2" r="2.85"/>
<circle class="mb" cx="516.2" cy="140.9" r="2.85"/>
<circle class="mb" cx="592.5" cy="839.2" r="2.85"/>
<circle class="mb" cx="580.2" cy="853.3" r="2.85"/>
<circle class="mb" cx="554.8" cy="522.8" r="2.85"/>
<circle class="mb" cx="522.4" cy="213.9" r="2.85"/>
<circle class="mb" cx="544.2" cy="233.1" r="2.85"/>
<path class="mg" d="M210.2 858.5h7.4l-3.7 -6.8zM499.6 270.1h7.4l-3.7 -6.8zM465.8 516.3h7.4l-3.7 -6.8zM502.3 174.7h7.4l-3.7 -6.8zM635.8 858.3h7.4l-3.7 -6.8zM522 203.5h7.4l-3.7 -6.8zM155.8 217.4h7.4l-3.7 -6.8z"/>
<path class="mp" d="M323.5 476.4h5.2v5.2h-5.2zM570.6 805.5h5.2v5.2h-5.2zM276 522.2h5.2v5.2h-5.2zM194.2 193.4h5.2v5.2h-5.2zM305.3 530.2h5.2v5.2h-5.2zM538.8 488.5h5.2v5.2h-5.2zM217.4 840.9h5.2v5.2h-5.2zM557.6 510.8h5.2v5.2h-5.2zM445.6 193.8h5.2v5.2h-5.2z"/>
<circle class="mb" cx="197.4" cy="855.9" r="2.85"/>
<circle class="mb" cx="575.1" cy="545.5" r="2.85"/>
<circle class="mb" cx="590.5" cy="878.6" r="2.85"/>
<circle class="mb" cx="508.9" cy="230.9" r="2.85"/>
<circle class="mb" cx="561.2" cy="852.5" r="2.85"/>
<path class="mg" d="M589.5 158.8h7.4l-3.7 -6.8zM533.6 483.8h7.4l-3.7 -6.8zM127 200.3h7.4l-3.7 -6.8zM265.2 841.3h7.4l-3.7 -6.8zM461.8 181.3h7.4l-3.7 -6.8zM249.2 504.8h7.4l-3.7 -6.8zM570.9 185h7.4l-3.7 -6.8zM196.4 497.1h7.4l-3.7 -6.8zM552.5 506.3h7.4l-3.7 -6.8zM516.3 811.6h7.4l-3.7 -6.8z"/>
<path class="mp" d="M95.2 182.4h5.2v5.2h-5.2zM632 827.8h5.2v5.2h-5.2zM245.6 822h5.2v5.2h-5.2zM564.2 828.1h5.2v5.2h-5.2zM440.4 206h5.2v5.2h-5.2zM635.9 822.9h5.2v5.2h-5.2zM487 187.5h5.2v5.2h-5.2zM483.5 188.5h5.2v5.2h-5.2zM597.1 487.3h5.2v5.2h-5.2zM521.1 522.4h5.2v5.2h-5.2zM583.6 802.1h5.2v5.2h-5.2zM625.4 798.9h5.2v5.2h-5.2zM241.6 808.1h5.2v5.2h-5.2zM110.5 186.5h5.2v5.2h-5.2zM292 567.2h5.2v5.2h-5.2z"/>
<circle class="mb" cx="169.3" cy="536.4" r="2.85"/>
<circle class="mb" cx="465.9" cy="212.7" r="2.85"/>
<path class="mg" d="M225.1 502.2h7.4l-3.7 -6.8zM242.5 482.2h7.4l-3.7 -6.8zM425.6 514.1h7.4l-3.7 -6.8zM109.8 176.6h7.4l-3.7 -6.8zM518.8 820.7h7.4l-3.7 -6.8zM481 874h7.4l-3.7 -6.8zM461.1 512.5h7.4l-3.7 -6.8z"/>
<path class="mp" d="M535.8 801.6h5.2v5.2h-5.2zM228.9 839.7h5.2v5.2h-5.2zM212.5 801.1h5.2v5.2h-5.2zM552.4 808.2h5.2v5.2h-5.2zM288.3 487h5.2v5.2h-5.2zM269.3 541.9h5.2v5.2h-5.2zM99.9 144.7h5.2v5.2h-5.2zM604.1 559.3h5.2v5.2h-5.2zM279.5 480.8h5.2v5.2h-5.2zM655.2 497.3h5.2v5.2h-5.2z"/>
<circle class="mb" cx="177.5" cy="133.8" r="2.85"/>
<circle class="mb" cx="586.7" cy="842.1" r="2.85"/>
<circle class="mb" cx="570" cy="874.2" r="2.85"/>
<circle class="mb" cx="151.1" cy="522.6" r="2.85"/>
<path class="mg" d="M449.5 202.3h7.4l-3.7 -6.8zM657.3 149.9h7.4l-3.7 -6.8zM170.7 822.7h7.4l-3.7 -6.8zM291.5 783.5h7.4l-3.7 -6.8zM542 211.2h7.4l-3.7 -6.8zM157.8 839.3h7.4l-3.7 -6.8zM197.2 523.2h7.4l-3.7 -6.8zM560.4 538.7h7.4l-3.7 -6.8zM451.1 203.1h7.4l-3.7 -6.8zM143.9 512h7.4l-3.7 -6.8z"/>
<path class="mp" d="M233.8 493h5.2v5.2h-5.2zM460.4 185.8h5.2v5.2h-5.2zM229.6 249.5h5.2v5.2h-5.2zM613 814.1h5.2v5.2h-5.2zM324.2 466h5.2v5.2h-5.2zM224.8 841.6h5.2v5.2h-5.2zM548.6 839.6h5.2v5.2h-5.2zM105.4 156.3h5.2v5.2h-5.2zM553.8 859.1h5.2v5.2h-5.2z"/>
<circle class="mb" cx="70.5" cy="865.4" r="2.85"/>
<circle class="mb" cx="567" cy="541.8" r="2.85"/>
<circle class="mb" cx="456.9" cy="157.8" r="2.85"/>
<circle class="mb" cx="589.1" cy="838.8" r="2.85"/>
<circle class="mb" cx="207.9" cy="852.8" r="2.85"/>
<circle class="mb" cx="171.8" cy="203" r="2.85"/>
<path class="mg" d="M556.8 502.4h7.4l-3.7 -6.8zM534.8 205.4h7.4l-3.7 -6.8zM475.6 175.1h7.4l-3.7 -6.8zM137.7 540.9h7.4l-3.7 -6.8zM457.1 795.8h7.4l-3.7 -6.8zM599.3 844.2h7.4l-3.7 -6.8zM495.4 156.7h7.4l-3.7 -6.8zM467.9 165.9h7.4l-3.7 -6.8zM535.7 179.4h7.4l-3.7 -6.8z"/>
<path class="mp" d="M251.3 785.2h5.2v5.2h-5.2zM208.8 491.2h5.2v5.2h-5.2zM78.1 147h5.2v5.2h-5.2zM123.5 168.7h5.2v5.2h-5.2zM546.9 503.5h5.2v5.2h-5.2zM616.1 816.6h5.2v5.2h-5.2zM521.9 488.6h5.2v5.2h-5.2z"/>
<circle class="mb" cx="174" cy="790.7" r="2.85"/>
<circle class="mb" cx="139.2" cy="185.8" r="2.85"/>
<circle class="mb" cx="226.4" cy="538" r="2.85"/>
<circle class="mb" cx="549.8" cy="513.4" r="2.85"/>
<path class="mg" d="M176.6 492.9h7.4l-3.7 -6.8zM151.9 809h7.4l-3.7 -6.8zM464.7 508h7.4l-3.7 -6.8zM168.1 816.5h7.4l-3.7 -6.8zM109.7 147.1h7.4l-3.7 -6.8zM236 245.8h7.4l-3.7 -6.8zM195.6 222.9h7.4l-3.7 -6.8zM210.8 795.9h7.4l-3.7 -6.8zM195 220.8h7.4l-3.7 -6.8zM155.5 179.3h7.4l-3.7 -6.8zM159.4 205.4h7.4l-3.7 -6.8zM547 189.6h7.4l-3.7 -6.8zM78.1 157.1h7.4l-3.7 -6.8z"/>
<path class="mp" d="M216.1 811.9h5.2v5.2h-5.2zM273.4 500.9h5.2v5.2h-5.2zM608.3 825.4h5.2v5.2h-5.2zM644.4 494.6h5.2v5.2h-5.2zM292.4 520.6h5.2v5.2h-5.2zM304.5 511.3h5.2v5.2h-5.2zM525.9 185.3h5.2v5.2h-5.2zM555.2 515.2h5.2v5.2h-5.2z"/>
<circle class="mb" cx="439.3" cy="186.1" r="2.85"/>
<circle class="mb" cx="243.7" cy="221.6" r="2.85"/>
<circle class="mb" cx="108.6" cy="595.2" r="2.85"/>
<circle class="mb" cx="532.5" cy="220.2" r="2.85"/>
<circle class="mb" cx="87.6" cy="569.1" r="2.85"/>
<circle class="mb" cx="100.9" cy="866.1" r="2.85"/>
<circle class="mb" cx="562.5" cy="783.2" r="2.85"/>
<circle class="mb" cx="539.7" cy="481.6" r="2.85"/>
<path class="mg" d="M521.8 819.1h7.4l-3.7 -6.8zM182.4 797.4h7.4l-3.7 -6.8zM488.2 512.4h7.4l-3.7 -6.8zM260.8 500.4h7.4l-3.7 -6.8zM199.9 816.8h7.4l-3.7 -6.8zM179.2 485.6h7.4l-3.7 -6.8zM530.5 493.8h7.4l-3.7 -6.8zM623.4 151.8h7.4l-3.7 -6.8z"/>
<path class="mp" d="M518.2 201.5h5.2v5.2h-5.2zM223.3 816.1h5.2v5.2h-5.2zM587.7 835.8h5.2v5.2h-5.2zM317.2 459.4h5.2v5.2h-5.2zM509.9 183.6h5.2v5.2h-5.2zM581.3 203.7h5.2v5.2h-5.2zM298.2 504.2h5.2v5.2h-5.2zM639.2 822.8h5.2v5.2h-5.2zM309.9 524.9h5.2v5.2h-5.2z"/>
<circle class="mb" cx="103.6" cy="171.2" r="2.85"/>
<circle class="mb" cx="635" cy="865.3" r="2.85"/>
<circle class="mb" cx="576.5" cy="857.9" r="2.85"/>
<circle class="mb" cx="569.3" cy="500.4" r="2.85"/>
<circle class="mb" cx="66.3" cy="157.6" r="2.85"/>
<circle class="mb" cx="177.5" cy="227.7" r="2.85"/>
<path class="mg" d="M523.7 172.9h7.4l-3.7 -6.8zM523.6 498.8h7.4l-3.7 -6.8zM495.3 201.7h7.4l-3.7 -6.8zM472.7 799.3h7.4l-3.7 -6.8zM475.8 202.1h7.4l-3.7 -6.8zM465.6 186.1h7.4l-3.7 -6.8zM134.4 204.1h7.4l-3.7 -6.8zM614.2 796.7h7.4l-3.7 -6.8zM221.3 502.7h7.4l-3.7 -6.8z"/>
<path class="mp" d="M219.4 824.3h5.2v5.2h-5.2zM635.3 479.5h5.2v5.2h-5.2zM548.1 790.1h5.2v5.2h-5.2zM262 827.8h5.2v5.2h-5.2zM238.1 799.9h5.2v5.2h-5.2zM280 476.9h5.2v5.2h-5.2zM585.8 553.5h5.2v5.2h-5.2zM554.2 497.1h5.2v5.2h-5.2zM597 843.4h5.2v5.2h-5.2zM482.6 193h5.2v5.2h-5.2zM574.6 897.4h5.2v5.2h-5.2z"/>
<circle class="mb" cx="159.7" cy="528.8" r="2.85"/>
<circle class="mb" cx="558.4" cy="508.1" r="2.85"/>
<circle class="mb" cx="294.6" cy="261" r="2.85"/>
<circle class="mb" cx="174.7" cy="198.3" r="2.85"/>
<circle class="mb" cx="109.5" cy="849.8" r="2.85"/>
<circle class="mb" cx="189.9" cy="229.1" r="2.85"/>
<path class="mg" d="M78.5 159.4h7.4l-3.7 -6.8zM435.4 804.4h7.4l-3.7 -6.8zM626.8 505h7.4l-3.7 -6.8zM572.5 232.8h7.4l-3.7 -6.8zM562.9 494.2h7.4l-3.7 -6.8zM139.3 193.6h7.4l-3.7 -6.8zM62.2 168.3h7.4l-3.7 -6.8z"/>
<path class="mp" d="M545.8 823.4h5.2v5.2h-5.2zM244.9 784.4h5.2v5.2h-5.2zM552.1 795.9h5.2v5.2h-5.2zM299.7 506.6h5.2v5.2h-5.2zM567.4 855.2h5.2v5.2h-5.2zM616.7 499.9h5.2v5.2h-5.2zM425.7 160.5h5.2v5.2h-5.2zM91.2 172.9h5.2v5.2h-5.2zM226.8 786.3h5.2v5.2h-5.2zM477 170h5.2v5.2h-5.2z"/>
<circle class="mb" cx="591.2" cy="868" r="2.85"/>
<circle class="mb" cx="111.7" cy="104.6" r="2.85"/>
<circle class="mb" cx="629.3" cy="820" r="2.85"/>
<circle class="mb" cx="565.4" cy="550.1" r="2.85"/>
<path class="mg" d="M150.9 814.1h7.4l-3.7 -6.8zM282.7 824.4h7.4l-3.7 -6.8zM69.3 155.7h7.4l-3.7 -6.8zM565.8 785.2h7.4l-3.7 -6.8zM208.2 493.4h7.4l-3.7 -6.8zM194.3 824.6h7.4l-3.7 -6.8zM92 175.3h7.4l-3.7 -6.8zM636.8 485.9h7.4l-3.7 -6.8zM230.9 188.9h7.4l-3.7 -6.8zM168.6 184.7h7.4l-3.7 -6.8z"/>
<path class="mp" d="M211.2 473.2h5.2v5.2h-5.2zM450.8 166.1h5.2v5.2h-5.2zM140.6 175.1h5.2v5.2h-5.2zM505.8 179.5h5.2v5.2h-5.2zM505.4 807.5h5.2v5.2h-5.2zM231.4 859.6h5.2v5.2h-5.2zM83.3 141.2h5.2v5.2h-5.2zM613.3 502.1h5.2v5.2h-5.2zM83.7 162.4h5.2v5.2h-5.2z"/>
<circle class="mb" cx="144.3" cy="513.5" r="2.85"/>
<circle class="mb" cx="471.1" cy="196.6" r="2.85"/>
<circle class="mb" cx="238.2" cy="500.4" r="2.85"/>
<circle class="mb" cx="577.9" cy="569.4" r="2.85"/>
<circle class="mb" cx="106.3" cy="199.9" r="2.85"/>
<circle class="mb" cx="193.4" cy="198.9" r="2.85"/>
<circle class="mb" cx="100.9" cy="914.7" r="2.85"/>
<path class="mg" d="M163.2 185.1h7.4l-3.7 -6.8zM253.3 525h7.4l-3.7 -6.8zM247.7 832h7.4l-3.7 -6.8zM264.4 495.3h7.4l-3.7 -6.8zM571.9 516h7.4l-3.7 -6.8zM106.6 190h7.4l-3.7 -6.8zM447.2 201.8h7.4l-3.7 -6.8zM418.3 496.1h7.4l-3.7 -6.8z"/>
<path class="mp" d="M303.8 489.9h5.2v5.2h-5.2zM604.2 888.4h5.2v5.2h-5.2zM586.6 839.7h5.2v5.2h-5.2zM505.4 188.6h5.2v5.2h-5.2zM533.3 538.7h5.2v5.2h-5.2zM246.3 830.1h5.2v5.2h-5.2zM306.6 484h5.2v5.2h-5.2zM126.8 568.1h5.2v5.2h-5.2zM215.4 801h5.2v5.2h-5.2zM565.5 790.8h5.2v5.2h-5.2zM547 488.2h5.2v5.2h-5.2zM241.8 490.1h5.2v5.2h-5.2z"/>
<circle class="mb" cx="552.8" cy="563.1" r="2.85"/>
<circle class="mb" cx="617.9" cy="826.7" r="2.85"/>
<circle class="mb" cx="219.5" cy="811.2" r="2.85"/>
<circle class="mb" cx="112.6" cy="530.5" r="2.85"/>
<circle class="mb" cx="141.3" cy="495.9" r="2.85"/>
<circle class="mb" cx="586.2" cy="180.1" r="2.85"/>
<circle class="mb" cx="119.7" cy="178.4" r="2.85"/>
<path class="mg" d="M548.8 803.6h7.4l-3.7 -6.8zM154.8 842h7.4l-3.7 -6.8zM537 197.2h7.4l-3.7 -6.8zM483.5 192.1h7.4l-3.7 -6.8zM238.7 489.7h7.4l-3.7 -6.8z"/>
<path class="mp" d="M162.8 487.3h5.2v5.2h-5.2zM241.2 840.3h5.2v5.2h-5.2zM525.3 479.8h5.2v5.2h-5.2zM203.6 479.3h5.2v5.2h-5.2zM218.9 853h5.2v5.2h-5.2zM260 824.5h5.2v5.2h-5.2zM451.7 252h5.2v5.2h-5.2zM646.7 213h5.2v5.2h-5.2zM196.2 186.3h5.2v5.2h-5.2z"/>
<circle class="mb" cx="147.6" cy="833" r="2.85"/>
<circle class="mb" cx="177.6" cy="822.3" r="2.85"/>
<circle class="mb" cx="157.1" cy="201.5" r="2.85"/>
<circle class="mb" cx="576.9" cy="798.4" r="2.85"/>
<circle class="mb" cx="565.8" cy="547.9" r="2.85"/>
<circle class="mb" cx="103.8" cy="195.2" r="2.85"/>
<circle class="mb" cx="586.5" cy="859.9" r="2.85"/>
<circle class="mb" cx="490.5" cy="143.7" r="2.85"/>
<path class="mg" d="M507.4 801.1h7.4l-3.7 -6.8zM239.5 860.3h7.4l-3.7 -6.8zM176 221.1h7.4l-3.7 -6.8zM555.7 812.2h7.4l-3.7 -6.8zM473.9 219.5h7.4l-3.7 -6.8zM523.3 187.6h7.4l-3.7 -6.8zM169.4 504.8h7.4l-3.7 -6.8z"/>
<path class="mp" d="M498.2 160.2h5.2v5.2h-5.2zM537.3 816.7h5.2v5.2h-5.2zM618.4 508.1h5.2v5.2h-5.2zM623.2 463.9h5.2v5.2h-5.2zM202.7 194.7h5.2v5.2h-5.2zM278.1 473.4h5.2v5.2h-5.2zM495.4 804h5.2v5.2h-5.2zM629.4 811.1h5.2v5.2h-5.2zM582.4 837.2h5.2v5.2h-5.2zM104.6 150.4h5.2v5.2h-5.2zM415.4 153h5.2v5.2h-5.2z"/>
<circle class="mb" cx="557" cy="550.8" r="2.85"/>
<circle class="mb" cx="174.5" cy="518.1" r="2.85"/>
<circle class="mb" cx="127.3" cy="826.9" r="2.85"/>
<circle class="mb" cx="162.4" cy="525.3" r="2.85"/>
<circle class="mb" cx="640.4" cy="803.9" r="2.85"/>
<path class="mg" d="M447 827.3h7.4l-3.7 -6.8zM486 178.3h7.4l-3.7 -6.8zM529.8 176.1h7.4l-3.7 -6.8zM252.4 543.8h7.4l-3.7 -6.8zM532.4 852.1h7.4l-3.7 -6.8zM415 524.6h7.4l-3.7 -6.8zM186.4 196.8h7.4l-3.7 -6.8zM526.6 834.7h7.4l-3.7 -6.8z"/>
<path class="mp" d="M638.9 794.6h5.2v5.2h-5.2zM176.9 203.3h5.2v5.2h-5.2zM649.4 496.2h5.2v5.2h-5.2zM129.7 184.2h5.2v5.2h-5.2zM111.2 150h5.2v5.2h-5.2zM179.6 166h5.2v5.2h-5.2zM625.3 849.1h5.2v5.2h-5.2zM156.9 191.9h5.2v5.2h-5.2z"/>
<circle class="mb" cx="195.8" cy="196.4" r="2.85"/>
<circle class="mb" cx="613.4" cy="842.7" r="2.85"/>
<circle class="mb" cx="196.8" cy="191.6" r="2.85"/>
<circle class="mb" cx="589.6" cy="863.3" r="2.85"/>
<path class="mg" d="M81.8 162.2h7.4l-3.7 -6.8zM191.2 507h7.4l-3.7 -6.8zM232.4 843.4h7.4l-3.7 -6.8zM574.9 541.7h7.4l-3.7 -6.8zM519.3 848.5h7.4l-3.7 -6.8zM251 804.9h7.4l-3.7 -6.8zM566.3 569.8h7.4l-3.7 -6.8zM172.5 837.9h7.4l-3.7 -6.8zM82.3 155.6h7.4l-3.7 -6.8zM195.3 488.4h7.4l-3.7 -6.8zM562 792.2h7.4l-3.7 -6.8zM212.3 506.9h7.4l-3.7 -6.8z"/>
<path class="mp" d="M243 810.2h5.2v5.2h-5.2zM279.7 465.3h5.2v5.2h-5.2zM449 176.6h5.2v5.2h-5.2zM260 800.3h5.2v5.2h-5.2zM280.3 468.4h5.2v5.2h-5.2zM520.2 468.6h5.2v5.2h-5.2zM186.8 469.9h5.2v5.2h-5.2zM330 470.7h5.2v5.2h-5.2zM508.9 173.7h5.2v5.2h-5.2zM615.9 497.3h5.2v5.2h-5.2zM546.3 820.2h5.2v5.2h-5.2zM528.6 213.4h5.2v5.2h-5.2zM316.4 518.6h5.2v5.2h-5.2z"/>
<circle class="mb" cx="531.3" cy="170.1" r="2.85"/>
<circle class="mb" cx="568.4" cy="556.1" r="2.85"/>
<circle class="mb" cx="153.7" cy="215.7" r="2.85"/>
<circle class="mb" cx="530.9" cy="209.8" r="2.85"/>
<circle class="mb" cx="123.1" cy="813.1" r="2.85"/>
<circle class="mb" cx="165.8" cy="424.7" r="2.85"/>
<circle class="mb" cx="544" cy="496.9" r="2.85"/>
<path class="mg" d="M238.7 496.3h7.4l-3.7 -6.8zM222 792.3h7.4l-3.7 -6.8zM592.5 845.2h7.4l-3.7 -6.8zM192.3 485.2h7.4l-3.7 -6.8z"/>
<path class="mp" d="M234.9 809.3h5.2v5.2h-5.2zM583.5 548.1h5.2v5.2h-5.2zM573.2 477.9h5.2v5.2h-5.2zM584 768.9h5.2v5.2h-5.2z"/>
<circle class="mb" cx="585.3" cy="551.7" r="2.85"/>
<circle class="mb" cx="128.4" cy="542.2" r="2.85"/>
<circle class="mb" cx="582" cy="497.4" r="2.85"/>
<circle class="mb" cx="193.9" cy="502.7" r="2.85"/>
<circle class="mb" cx="570.7" cy="521.6" r="2.85"/>
<circle class="mb" cx="159.5" cy="201.3" r="2.85"/>
<circle class="mb" cx="223.5" cy="795" r="2.85"/>
<circle class="mb" cx="198.3" cy="855.2" r="2.85"/>
<circle class="mb" cx="609.1" cy="275.1" r="2.85"/>
<path class="mg" d="M202 482.9h7.4l-3.7 -6.8zM586.2 821.5h7.4l-3.7 -6.8zM425.3 833h7.4l-3.7 -6.8zM83.1 183.4h7.4l-3.7 -6.8zM219.7 859.4h7.4l-3.7 -6.8zM166.8 827.9h7.4l-3.7 -6.8zM146.4 199h7.4l-3.7 -6.8zM286.3 833.8h7.4l-3.7 -6.8zM538.4 850.9h7.4l-3.7 -6.8zM535.7 553.7h7.4l-3.7 -6.8zM245.7 484.2h7.4l-3.7 -6.8z"/>
<path class="mp" d="M104.5 176.9h5.2v5.2h-5.2zM528.2 825.1h5.2v5.2h-5.2zM252.6 831.5h5.2v5.2h-5.2zM600 836.2h5.2v5.2h-5.2zM292 579.3h5.2v5.2h-5.2zM637.7 497.3h5.2v5.2h-5.2z"/>
<circle class="mb" cx="567.3" cy="531.8" r="2.85"/>
<circle class="mb" cx="111.4" cy="547.3" r="2.85"/>
<circle class="mb" cx="163.8" cy="187.3" r="2.85"/>
<circle class="mb" cx="585.4" cy="521.8" r="2.85"/>
<circle class="mb" cx="556.4" cy="553.7" r="2.85"/>
<path class="mg" d="M534.9 177.6h7.4l-3.7 -6.8zM154.7 188.5h7.4l-3.7 -6.8zM228.5 505.4h7.4l-3.7 -6.8zM94 174.3h7.4l-3.7 -6.8zM155.4 545.2h7.4l-3.7 -6.8zM178.8 214.9h7.4l-3.7 -6.8zM444.7 514.8h7.4l-3.7 -6.8zM198.7 490.2h7.4l-3.7 -6.8zM91.9 168.6h7.4l-3.7 -6.8zM190.2 829.5h7.4l-3.7 -6.8zM241.5 800h7.4l-3.7 -6.8zM202.5 217h7.4l-3.7 -6.8zM641.6 209.5h7.4l-3.7 -6.8z"/>
<path class="mp" d="M579.3 508.7h5.2v5.2h-5.2zM532.9 503.9h5.2v5.2h-5.2zM227 853.1h5.2v5.2h-5.2zM430.2 129.4h5.2v5.2h-5.2zM577.9 824.9h5.2v5.2h-5.2zM536.6 479.2h5.2v5.2h-5.2zM113.6 172h5.2v5.2h-5.2zM304.6 487.3h5.2v5.2h-5.2zM299.2 503.4h5.2v5.2h-5.2zM484.7 196.5h5.2v5.2h-5.2z"/>
<circle class="mb" cx="137.8" cy="195" r="2.85"/>
<circle class="mb" cx="207.3" cy="205.5" r="2.85"/>
<circle class="mb" cx="109.1" cy="797.9" r="2.85"/>
<circle class="mb" cx="147.6" cy="175.9" r="2.85"/>
<circle class="mb" cx="153.7" cy="215.2" r="2.85"/>
<circle class="mb" cx="214.3" cy="471.8" r="2.85"/>
<circle class="mb" cx="539.1" cy="210.9" r="2.85"/>
<path class="mg" d="M210.4 499.7h7.4l-3.7 -6.8zM104.4 158.9h7.4l-3.7 -6.8zM514 833.8h7.4l-3.7 -6.8zM215.7 209.3h7.4l-3.7 -6.8zM233.3 826.1h7.4l-3.7 -6.8zM151 170.4h7.4l-3.7 -6.8zM239.5 478.6h7.4l-3.7 -6.8z"/>
<path class="mp" d="M209.6 482.7h5.2v5.2h-5.2zM277.8 472.8h5.2v5.2h-5.2zM259.7 469.5h5.2v5.2h-5.2zM555.2 857.7h5.2v5.2h-5.2zM545.8 197h5.2v5.2h-5.2zM206.6 501.4h5.2v5.2h-5.2zM243.4 858h5.2v5.2h-5.2zM465.2 139.4h5.2v5.2h-5.2zM591 826h5.2v5.2h-5.2zM486.3 492.1h5.2v5.2h-5.2zM152.9 192.5h5.2v5.2h-5.2zM250.5 857.8h5.2v5.2h-5.2zM236.9 486.3h5.2v5.2h-5.2z"/>
<circle class="mb" cx="618.1" cy="797.9" r="2.85"/>
<circle class="mb" cx="566.9" cy="489.4" r="2.85"/>
<circle class="mb" cx="98.6" cy="526.3" r="2.85"/>
<circle class="mb" cx="566.9" cy="826.9" r="2.85"/>
<circle class="mb" cx="584.5" cy="845.3" r="2.85"/>
<path class="mg" d="M315.5 506.2h7.4l-3.7 -6.8zM118.6 185h7.4l-3.7 -6.8zM320.1 834.4h7.4l-3.7 -6.8zM624.1 797.7h7.4l-3.7 -6.8zM233.6 517.7h7.4l-3.7 -6.8zM427.7 475.8h7.4l-3.7 -6.8z"/>
<path class="mp" d="M85.8 182.9h5.2v5.2h-5.2zM542.3 839.8h5.2v5.2h-5.2zM260.7 802.6h5.2v5.2h-5.2zM310.7 559h5.2v5.2h-5.2z"/>
<circle class="mb" cx="515" cy="229.6" r="2.85"/>
<circle class="mb" cx="108.4" cy="566" r="2.85"/>
<circle class="mb" cx="244.4" cy="239.9" r="2.85"/>
<circle class="mb" cx="441.1" cy="178.2" r="2.85"/>
<circle class="mb" cx="618.5" cy="866.3" r="2.85"/>
<path class="mg" d="M589 520.5h7.4l-3.7 -6.8zM320.1 833.1h7.4l-3.7 -6.8zM249.3 249.3h7.4l-3.7 -6.8zM516 839.4h7.4l-3.7 -6.8zM101.5 172.3h7.4l-3.7 -6.8zM623.2 854.4h7.4l-3.7 -6.8zM549.9 538.2h7.4l-3.7 -6.8zM202.5 482.1h7.4l-3.7 -6.8zM240.5 514.8h7.4l-3.7 -6.8zM250.2 810.4h7.4l-3.7 -6.8zM617.7 496h7.4l-3.7 -6.8zM452.1 160.4h7.4l-3.7 -6.8zM101.4 165.1h7.4l-3.7 -6.8zM246.3 503.4h7.4l-3.7 -6.8zM153.1 817h7.4l-3.7 -6.8z"/>
<path class="mp" d="M544.3 506.8h5.2v5.2h-5.2zM435.2 165.6h5.2v5.2h-5.2zM631.8 505.3h5.2v5.2h-5.2zM621.3 490.4h5.2v5.2h-5.2zM520.6 842.5h5.2v5.2h-5.2zM613.6 781.1h5.2v5.2h-5.2zM110.1 175.9h5.2v5.2h-5.2zM551.9 795.7h5.2v5.2h-5.2zM276.1 489.6h5.2v5.2h-5.2z"/>
<circle class="mb" cx="564.1" cy="538.3" r="2.85"/>
<circle class="mb" cx="162.8" cy="209.6" r="2.85"/>
<circle class="mb" cx="186.5" cy="234.5" r="2.85"/>
<circle class="mb" cx="634.5" cy="852.1" r="2.85"/>
<circle class="mb" cx="134" cy="178.2" r="2.85"/>
<path class="mg" d="M313.1 804.4h7.4l-3.7 -6.8zM645.7 495.3h7.4l-3.7 -6.8zM598.9 805.4h7.4l-3.7 -6.8zM537.5 535.9h7.4l-3.7 -6.8zM235.8 810.3h7.4l-3.7 -6.8zM255.7 822.4h7.4l-3.7 -6.8zM291.6 843.2h7.4l-3.7 -6.8zM310.7 791.6h7.4l-3.7 -6.8zM536.2 198.2h7.4l-3.7 -6.8zM482.6 177.7h7.4l-3.7 -6.8z"/>
<path class="mp" d="M508.6 840h5.2v5.2h-5.2zM521.5 499.3h5.2v5.2h-5.2zM520.6 175.5h5.2v5.2h-5.2zM500.1 170.4h5.2v5.2h-5.2zM287.2 499.2h5.2v5.2h-5.2zM656.1 273.7h5.2v5.2h-5.2z"/>
<circle class="mb" cx="170.7" cy="140.5" r="2.85"/>
<circle class="mb" cx="602.9" cy="785.5" r="2.85"/>
<circle class="mb" cx="590.4" cy="868.3" r="2.85"/>
<circle class="mb" cx="208.2" cy="846.8" r="2.85"/>
<circle class="mb" cx="114.9" cy="852.1" r="2.85"/>
<circle class="mb" cx="155.8" cy="545.2" r="2.85"/>
<circle class="mb" cx="526.7" cy="221.4" r="2.85"/>
<path class="mg" d="M315.3 824.6h7.4l-3.7 -6.8zM615.3 814h7.4l-3.7 -6.8zM204.8 227.9h7.4l-3.7 -6.8zM280.7 812h7.4l-3.7 -6.8zM515.6 165.1h7.4l-3.7 -6.8zM493.3 210.6h7.4l-3.7 -6.8zM172.7 491h7.4l-3.7 -6.8zM514.3 250.3h7.4l-3.7 -6.8zM555.5 193.4h7.4l-3.7 -6.8zM146.7 217.2h7.4l-3.7 -6.8zM485 217.8h7.4l-3.7 -6.8z"/>
<path class="mp" d="M437.8 194.4h5.2v5.2h-5.2zM493.9 180.2h5.2v5.2h-5.2zM578.6 848.5h5.2v5.2h-5.2zM553.3 832h5.2v5.2h-5.2zM507.1 199.3h5.2v5.2h-5.2zM269.1 521.3h5.2v5.2h-5.2zM534.6 167.9h5.2v5.2h-5.2zM314.5 487.4h5.2v5.2h-5.2zM308.4 476.3h5.2v5.2h-5.2zM83.1 175.6h5.2v5.2h-5.2z"/>
<circle class="mb" cx="212.5" cy="856" r="2.85"/>
<circle class="mb" cx="158.8" cy="774.3" r="2.85"/>
<circle class="mb" cx="203.4" cy="195.6" r="2.85"/>
<circle class="mb" cx="548.6" cy="487.3" r="2.85"/>
<circle class="mb" cx="130.6" cy="861" r="2.85"/>
<circle class="mb" cx="632.8" cy="909.6" r="2.85"/>
<circle class="mb" cx="548.1" cy="548.6" r="2.85"/>
<path class="mg" d="M216.8 475.9h7.4l-3.7 -6.8zM426.6 174.8h7.4l-3.7 -6.8zM473.6 481.3h7.4l-3.7 -6.8zM191.8 190.5h7.4l-3.7 -6.8zM441.4 166.8h7.4l-3.7 -6.8zM250.7 847.7h7.4l-3.7 -6.8zM557.8 191.4h7.4l-3.7 -6.8z"/>
<path class="mp" d="M607 818.8h5.2v5.2h-5.2zM310.8 523h5.2v5.2h-5.2zM528.2 505.9h5.2v5.2h-5.2zM211.4 207.8h5.2v5.2h-5.2zM232.4 476.3h5.2v5.2h-5.2z"/>
<circle class="mb" cx="119.9" cy="197" r="2.85"/>
<circle class="mb" cx="513.8" cy="134.6" r="2.85"/>
<circle class="mb" cx="152.3" cy="542.2" r="2.85"/>
<circle class="mb" cx="169.4" cy="513.5" r="2.85"/>
<circle class="mb" cx="599.5" cy="873.7" r="2.85"/>
<circle class="mb" cx="546.5" cy="210.4" r="2.85"/>
<circle class="mb" cx="197.8" cy="533.3" r="2.85"/>
<circle class="mb" cx="106.3" cy="581.4" r="2.85"/>
<path class="mg" d="M155.9 184.8h7.4l-3.7 -6.8zM575.2 497.5h7.4l-3.7 -6.8zM110.9 156.2h7.4l-3.7 -6.8zM245 526.8h7.4l-3.7 -6.8zM461.2 176.1h7.4l-3.7 -6.8zM131.5 172h7.4l-3.7 -6.8zM227.4 498.7h7.4l-3.7 -6.8zM560.9 838h7.4l-3.7 -6.8zM113.1 198.8h7.4l-3.7 -6.8zM625 803.3h7.4l-3.7 -6.8zM322.1 503h7.4l-3.7 -6.8z"/>
<path class="mp" d="M589.7 844h5.2v5.2h-5.2zM252.8 839h5.2v5.2h-5.2zM269.6 500h5.2v5.2h-5.2zM198.9 469.8h5.2v5.2h-5.2zM615.9 847.5h5.2v5.2h-5.2zM546.7 195.4h5.2v5.2h-5.2zM627.9 480.7h5.2v5.2h-5.2zM59.2 147.4h5.2v5.2h-5.2zM463.8 149.9h5.2v5.2h-5.2z"/>
<circle class="mb" cx="546.1" cy="490.8" r="2.85"/>
<circle class="mb" cx="509.5" cy="203.4" r="2.85"/>
<circle class="mb" cx="281.3" cy="214.9" r="2.85"/>
<circle class="mb" cx="617.6" cy="824.6" r="2.85"/>
<circle class="mb" cx="208.2" cy="852.7" r="2.85"/>
<circle class="mb" cx="179" cy="218.1" r="2.85"/>
<circle class="mb" cx="165.1" cy="524" r="2.85"/>
<path class="mg" d="M478.5 178.2h7.4l-3.7 -6.8zM622.4 849h7.4l-3.7 -6.8zM493.3 489.1h7.4l-3.7 -6.8zM526.8 185.4h7.4l-3.7 -6.8zM157.6 221.6h7.4l-3.7 -6.8zM67.2 177.2h7.4l-3.7 -6.8zM572.9 551.9h7.4l-3.7 -6.8zM469.6 185.8h7.4l-3.7 -6.8z"/>
<path class="mp" d="M86.3 181.4h5.2v5.2h-5.2zM318.2 454.1h5.2v5.2h-5.2zM182.3 495h5.2v5.2h-5.2zM310.7 534.2h5.2v5.2h-5.2zM500.7 836.2h5.2v5.2h-5.2zM316.5 523.8h5.2v5.2h-5.2zM161.6 220.6h5.2v5.2h-5.2zM221.1 476.3h5.2v5.2h-5.2zM236.4 827.4h5.2v5.2h-5.2zM306.4 525.1h5.2v5.2h-5.2z"/>
<circle class="mb" cx="150.8" cy="800.6" r="2.85"/>
<circle class="mb" cx="585" cy="496.4" r="2.85"/>
<circle class="mb" cx="573.9" cy="260.6" r="2.85"/>
<circle class="mb" cx="630.2" cy="799.3" r="2.85"/>
<circle class="mb" cx="215.9" cy="852.4" r="2.85"/>
<path class="mg" d="M436.8 200.6h7.4l-3.7 -6.8zM440.2 195.8h7.4l-3.7 -6.8zM593.5 811.8h7.4l-3.7 -6.8zM516.8 193.5h7.4l-3.7 -6.8zM92.9 161h7.4l-3.7 -6.8zM108.7 168.4h7.4l-3.7 -6.8zM499.6 837.8h7.4l-3.7 -6.8zM548.2 194.9h7.4l-3.7 -6.8zM214.3 236.9h7.4l-3.7 -6.8z"/>
<path class="mp" d="M321.9 474.7h5.2v5.2h-5.2zM85.9 183.4h5.2v5.2h-5.2zM335.9 500.1h5.2v5.2h-5.2zM557.7 481.1h5.2v5.2h-5.2zM309 481.7h5.2v5.2h-5.2zM228.3 798.8h5.2v5.2h-5.2zM95.4 138.5h5.2v5.2h-5.2z"/>
<circle class="mb" cx="119.6" cy="553.9" r="2.85"/>
<circle class="mb" cx="598.6" cy="226.8" r="2.85"/>
<circle class="mb" cx="581.3" cy="850.5" r="2.85"/>
<circle class="mb" cx="146" cy="461.3" r="2.85"/>
<path class="mg" d="M470.4 796.9h7.4l-3.7 -6.8zM625.6 811h7.4l-3.7 -6.8zM230.8 485.1h7.4l-3.7 -6.8zM609.9 873.6h7.4l-3.7 -6.8zM99.8 166.6h7.4l-3.7 -6.8zM424.2 804.4h7.4l-3.7 -6.8zM240.6 479.7h7.4l-3.7 -6.8zM530.2 173h7.4l-3.7 -6.8zM195.7 230.6h7.4l-3.7 -6.8zM258.9 557.1h7.4l-3.7 -6.8zM523.2 189.7h7.4l-3.7 -6.8zM65.9 161.6h7.4l-3.7 -6.8zM291.6 843.6h7.4l-3.7 -6.8z"/>
<path class="mp" d="M313 484.9h5.2v5.2h-5.2zM218.6 499h5.2v5.2h-5.2zM585.6 779.4h5.2v5.2h-5.2zM441.1 199h5.2v5.2h-5.2zM280.1 498.2h5.2v5.2h-5.2z"/>
<circle class="mb" cx="193.2" cy="817.1" r="2.85"/>
<circle class="mb" cx="565.3" cy="595.1" r="2.85"/>
<circle class="mb" cx="158.1" cy="780.2" r="2.85"/>
<circle class="mb" cx="586.9" cy="214.8" r="2.85"/>
<circle class="mb" cx="134.3" cy="583.1" r="2.85"/>
<circle class="mb" cx="138.5" cy="171.5" r="2.85"/>
<circle class="mb" cx="534" cy="810.9" r="2.85"/>
<circle class="mb" cx="471.8" cy="217.9" r="2.85"/>
<circle class="mb" cx="529.3" cy="818.5" r="2.85"/>
<path class="mg" d="M575.1 164.4h7.4l-3.7 -6.8zM192.3 792.6h7.4l-3.7 -6.8zM195.6 504.7h7.4l-3.7 -6.8zM252.8 270.8h7.4l-3.7 -6.8zM579.9 856.1h7.4l-3.7 -6.8zM518.9 874h7.4l-3.7 -6.8zM111.2 187.6h7.4l-3.7 -6.8zM315.4 812.1h7.4l-3.7 -6.8zM110.7 192.1h7.4l-3.7 -6.8zM96.6 152.6h7.4l-3.7 -6.8z"/>
<path class="mp" d="M233.1 479.4h5.2v5.2h-5.2zM616.2 501.3h5.2v5.2h-5.2zM332.8 496.1h5.2v5.2h-5.2zM594.3 815h5.2v5.2h-5.2zM562.4 797.8h5.2v5.2h-5.2zM223.1 792.5h5.2v5.2h-5.2z"/>
<circle class="mb" cx="164.2" cy="209.9" r="2.85"/>
<circle class="mb" cx="195.6" cy="196.8" r="2.85"/>
<circle class="mb" cx="574.9" cy="496.5" r="2.85"/>
<circle class="mb" cx="542.8" cy="543.2" r="2.85"/>
<circle class="mb" cx="538.6" cy="808.5" r="2.85"/>
<circle class="mb" cx="589.3" cy="246.4" r="2.85"/>
<path class="mg" d="M140.5 186.6h7.4l-3.7 -6.8zM630.9 501.9h7.4l-3.7 -6.8zM447.6 168.3h7.4l-3.7 -6.8zM490.3 830.8h7.4l-3.7 -6.8zM77.5 181.4h7.4l-3.7 -6.8zM157.2 807.4h7.4l-3.7 -6.8zM510.4 811.3h7.4l-3.7 -6.8zM476.2 215.2h7.4l-3.7 -6.8zM427.6 169.8h7.4l-3.7 -6.8zM523.9 182.9h7.4l-3.7 -6.8zM496.2 164.8h7.4l-3.7 -6.8zM315 504.1h7.4l-3.7 -6.8z"/>
<path class="mp" d="M424.3 478.6h5.2v5.2h-5.2zM115.9 162.1h5.2v5.2h-5.2zM571.3 255h5.2v5.2h-5.2zM230 478.1h5.2v5.2h-5.2zM240.6 847.2h5.2v5.2h-5.2zM206 222.5h5.2v5.2h-5.2zM588.9 813.7h5.2v5.2h-5.2zM525.9 163h5.2v5.2h-5.2zM88.5 160.6h5.2v5.2h-5.2zM280 510.7h5.2v5.2h-5.2z"/>
<circle class="mb" cx="606" cy="838.9" r="2.85"/>
<circle class="mb" cx="261.4" cy="180.4" r="2.85"/>
<circle class="mb" cx="606.9" cy="848.3" r="2.85"/>
<path class="mg" d="M528.8 234.4h7.4l-3.7 -6.8zM173.9 853.9h7.4l-3.7 -6.8zM289.3 816.3h7.4l-3.7 -6.8zM510.5 210.7h7.4l-3.7 -6.8zM253.6 473.4h7.4l-3.7 -6.8zM477.8 799.6h7.4l-3.7 -6.8zM472.7 504.3h7.4l-3.7 -6.8zM266.1 477.4h7.4l-3.7 -6.8zM507.8 824h7.4l-3.7 -6.8zM145.1 854.9h7.4l-3.7 -6.8zM540.2 183.8h7.4l-3.7 -6.8z"/>
<path class="mp" d="M527.5 211.5h5.2v5.2h-5.2zM198.5 503.7h5.2v5.2h-5.2zM440.5 155.1h5.2v5.2h-5.2zM313.4 489.9h5.2v5.2h-5.2z"/>
<circle class="mb" cx="208.3" cy="852.8" r="2.85"/>
<circle class="mb" cx="540.6" cy="454.4" r="2.85"/>
<circle class="mb" cx="613.1" cy="249" r="2.85"/>
<circle class="mb" cx="588.7" cy="507.2" r="2.85"/>
<circle class="mb" cx="147.3" cy="509.8" r="2.85"/>
<circle class="mb" cx="586.6" cy="532" r="2.85"/>
<circle class="mb" cx="155.8" cy="529.3" r="2.85"/>
<circle class="mb" cx="310.3" cy="233.4" r="2.85"/>
<path class="mg" d="M593.7 837.1h7.4l-3.7 -6.8zM286.4 800.5h7.4l-3.7 -6.8zM452.9 833.1h7.4l-3.7 -6.8zM180.4 224.1h7.4l-3.7 -6.8zM645.8 846.7h7.4l-3.7 -6.8zM190.3 860.2h7.4l-3.7 -6.8zM499 494.7h7.4l-3.7 -6.8zM419 823.8h7.4l-3.7 -6.8zM494.6 166.6h7.4l-3.7 -6.8zM478.7 227.5h7.4l-3.7 -6.8zM504.7 497.9h7.4l-3.7 -6.8zM262 816.2h7.4l-3.7 -6.8z"/>
<path class="mp" d="M607 500.7h5.2v5.2h-5.2zM520.1 197.7h5.2v5.2h-5.2zM591.3 820.1h5.2v5.2h-5.2zM169.4 842.6h5.2v5.2h-5.2zM293 494.7h5.2v5.2h-5.2zM566.8 833.5h5.2v5.2h-5.2zM194.3 189.4h5.2v5.2h-5.2zM494.5 808.1h5.2v5.2h-5.2zM563.4 509.6h5.2v5.2h-5.2zM467 157.1h5.2v5.2h-5.2zM631 810.7h5.2v5.2h-5.2z"/>
<circle class="mb" cx="534.1" cy="224.9" r="2.85"/>
<circle class="mb" cx="572.8" cy="590.6" r="2.85"/>
<circle class="mb" cx="486.3" cy="210.4" r="2.85"/>
<circle class="mb" cx="177.1" cy="183.7" r="2.85"/>
<circle class="mb" cx="582.8" cy="857.9" r="2.85"/>
<circle class="mb" cx="541.9" cy="523.2" r="2.85"/>
<circle class="mb" cx="501.8" cy="217.9" r="2.85"/>
<path class="mg" d="M457.8 199.5h7.4l-3.7 -6.8zM179.1 502.5h7.4l-3.7 -6.8zM511.6 813h7.4l-3.7 -6.8zM292.1 834.4h7.4l-3.7 -6.8zM537.2 804.9h7.4l-3.7 -6.8zM563.6 560.1h7.4l-3.7 -6.8z"/>
<path class="mp" d="M309.1 466.3h5.2v5.2h-5.2zM204.3 821.8h5.2v5.2h-5.2zM596.2 794.5h5.2v5.2h-5.2zM252.3 829.6h5.2v5.2h-5.2zM598.2 787.6h5.2v5.2h-5.2zM264.6 466.3h5.2v5.2h-5.2zM566 853.7h5.2v5.2h-5.2zM596.7 495.2h5.2v5.2h-5.2zM277.3 484h5.2v5.2h-5.2z"/>
<circle class="mb" cx="552.6" cy="521.1" r="2.85"/>
<circle class="mb" cx="583.1" cy="845.5" r="2.85"/>
<circle class="mb" cx="566.9" cy="561.2" r="2.85"/>
<circle class="mb" cx="261.7" cy="485.1" r="2.85"/>
<circle class="mb" cx="630" cy="864.5" r="2.85"/>
<path class="mg" d="M77.6 131.2h7.4l-3.7 -6.8zM80.9 186.5h7.4l-3.7 -6.8zM553.1 492.3h7.4l-3.7 -6.8zM157.7 806h7.4l-3.7 -6.8zM177.4 833.3h7.4l-3.7 -6.8zM596 811.1h7.4l-3.7 -6.8zM456.2 821.3h7.4l-3.7 -6.8zM198.9 222.8h7.4l-3.7 -6.8zM498.7 518h7.4l-3.7 -6.8zM399.9 513.2h7.4l-3.7 -6.8z"/>
<path class="mp" d="M638.9 808.6h5.2v5.2h-5.2zM317.6 504.6h5.2v5.2h-5.2zM228.2 802.8h5.2v5.2h-5.2zM273.3 255.3h5.2v5.2h-5.2zM331.1 485.1h5.2v5.2h-5.2zM579.5 858.5h5.2v5.2h-5.2zM532.7 209.1h5.2v5.2h-5.2zM644.7 478.6h5.2v5.2h-5.2zM166 485.7h5.2v5.2h-5.2z"/>
<circle class="mb" cx="112.6" cy="523.2" r="2.85"/>
<circle class="mb" cx="581.8" cy="504.6" r="2.85"/>
<circle class="mb" cx="490.7" cy="204.4" r="2.85"/>
<circle class="mb" cx="575.6" cy="516.1" r="2.85"/>
<circle class="mb" cx="576.8" cy="425.2" r="2.85"/>
<path class="mg" d="M138.3 200.7h7.4l-3.7 -6.8zM614.1 824.3h7.4l-3.7 -6.8zM230.3 496.8h7.4l-3.7 -6.8zM214.1 484h7.4l-3.7 -6.8zM115.2 187.1h7.4l-3.7 -6.8zM274.4 814.9h7.4l-3.7 -6.8zM303.8 812.8h7.4l-3.7 -6.8zM179.1 183.7h7.4l-3.7 -6.8zM609 828.3h7.4l-3.7 -6.8zM487.6 209.3h7.4l-3.7 -6.8z"/>
<path class="mp" d="M610.8 828.6h5.2v5.2h-5.2zM230.6 786.2h5.2v5.2h-5.2zM263.5 516.4h5.2v5.2h-5.2zM212.1 239h5.2v5.2h-5.2zM420.9 154.8h5.2v5.2h-5.2zM460.7 190.2h5.2v5.2h-5.2zM608.6 179.2h5.2v5.2h-5.2zM551.8 856.6h5.2v5.2h-5.2z"/>
<circle class="mb" cx="629.6" cy="885.6" r="2.85"/>
<circle class="mb" cx="162.8" cy="504.1" r="2.85"/>
<circle class="mb" cx="573.4" cy="229.6" r="2.85"/>
<path class="mg" d="M472.2 160.4h7.4l-3.7 -6.8zM215.4 487.3h7.4l-3.7 -6.8zM437 157.6h7.4l-3.7 -6.8zM242.8 504.2h7.4l-3.7 -6.8zM246.2 520h7.4l-3.7 -6.8zM524.6 501.9h7.4l-3.7 -6.8zM441.9 155.4h7.4l-3.7 -6.8zM193.3 488.7h7.4l-3.7 -6.8zM123.6 203.9h7.4l-3.7 -6.8zM568.7 516.7h7.4l-3.7 -6.8zM294.4 469.5h7.4l-3.7 -6.8zM507 846.4h7.4l-3.7 -6.8zM593.5 840.7h7.4l-3.7 -6.8z"/>
<path class="mp" d="M295.6 463.7h5.2v5.2h-5.2zM309.4 514.4h5.2v5.2h-5.2zM318.2 516.8h5.2v5.2h-5.2zM569 490.2h5.2v5.2h-5.2zM494.9 520.2h5.2v5.2h-5.2zM610.1 447.6h5.2v5.2h-5.2zM601.3 788.5h5.2v5.2h-5.2zM83.4 155.4h5.2v5.2h-5.2zM186.3 199.5h5.2v5.2h-5.2zM522.4 165.3h5.2v5.2h-5.2zM605 818.2h5.2v5.2h-5.2zM243.3 512.5h5.2v5.2h-5.2z"/>
<circle class="mb" cx="168.6" cy="172.9" r="2.85"/>
<circle class="mb" cx="518.5" cy="157.2" r="2.85"/>
<circle class="mb" cx="177.2" cy="853.3" r="2.85"/>
<circle class="mb" cx="255.7" cy="482.1" r="2.85"/>
<circle class="mb" cx="93.9" cy="877.8" r="2.85"/>
<circle class="mb" cx="470.4" cy="218.3" r="2.85"/>
<path class="mg" d="M190.2 554.7h7.4l-3.7 -6.8zM558.8 182.9h7.4l-3.7 -6.8zM406.2 157.4h7.4l-3.7 -6.8zM574.5 500.2h7.4l-3.7 -6.8zM507.8 476.7h7.4l-3.7 -6.8zM540.4 208.3h7.4l-3.7 -6.8z"/>
<path class="mp" d="M473.8 198.5h5.2v5.2h-5.2zM582.6 824.9h5.2v5.2h-5.2zM283 493.9h5.2v5.2h-5.2zM575.3 867.4h5.2v5.2h-5.2zM597.7 806.1h5.2v5.2h-5.2zM97.4 160.8h5.2v5.2h-5.2zM231.4 507.5h5.2v5.2h-5.2zM239.9 847.4h5.2v5.2h-5.2zM118.8 188.5h5.2v5.2h-5.2zM242.6 826.9h5.2v5.2h-5.2z"/>
<circle class="mb" cx="162.3" cy="791.4" r="2.85"/>
<circle class="mb" cx="586.3" cy="519.2" r="2.85"/>
<circle class="mb" cx="135.7" cy="175.6" r="2.85"/>
<circle class="mb" cx="583.9" cy="506.9" r="2.85"/>
<circle class="mb" cx="181.5" cy="808.6" r="2.85"/>
<path class="mg" d="M502.9 210.9h7.4l-3.7 -6.8zM279.2 526h7.4l-3.7 -6.8zM527.6 167.4h7.4l-3.7 -6.8zM131.9 169.3h7.4l-3.7 -6.8zM453.6 483.7h7.4l-3.7 -6.8zM464.2 161.6h7.4l-3.7 -6.8zM292.3 834.7h7.4l-3.7 -6.8zM524.4 819.6h7.4l-3.7 -6.8zM537 197h7.4l-3.7 -6.8z"/>
<path class="mp" d="M278.8 498.4h5.2v5.2h-5.2zM252.2 471.4h5.2v5.2h-5.2zM202.7 214h5.2v5.2h-5.2zM525.2 798.5h5.2v5.2h-5.2zM321.3 510.4h5.2v5.2h-5.2z"/>
<circle class="mb" cx="539.4" cy="540.4" r="2.85"/>
<circle class="mb" cx="146.4" cy="519.3" r="2.85"/>
<circle class="mb" cx="495.2" cy="162.9" r="2.85"/>
<circle class="mb" cx="545.4" cy="495.9" r="2.85"/>
<circle class="mb" cx="119.6" cy="865" r="2.85"/>
<path class="mg" d="M460.8 814.4h7.4l-3.7 -6.8zM229.7 496.9h7.4l-3.7 -6.8zM611.6 821.5h7.4l-3.7 -6.8zM512 264.3h7.4l-3.7 -6.8zM600.1 559.3h7.4l-3.7 -6.8zM282.3 468h7.4l-3.7 -6.8zM424.2 179.4h7.4l-3.7 -6.8zM143.3 179.9h7.4l-3.7 -6.8zM152.3 809.2h7.4l-3.7 -6.8zM124.6 153.1h7.4l-3.7 -6.8zM464.1 169.7h7.4l-3.7 -6.8zM500.3 202.5h7.4l-3.7 -6.8zM160.6 803.8h7.4l-3.7 -6.8zM118.5 157.3h7.4l-3.7 -6.8z"/>
<path class="mp" d="M213.1 500.2h5.2v5.2h-5.2zM253.2 494h5.2v5.2h-5.2zM543.4 838.9h5.2v5.2h-5.2zM191.4 487.8h5.2v5.2h-5.2zM584.4 752.6h5.2v5.2h-5.2zM212.6 820h5.2v5.2h-5.2zM299.5 520.2h5.2v5.2h-5.2zM635.6 805.3h5.2v5.2h-5.2zM297.8 467.2h5.2v5.2h-5.2zM141.2 199.3h5.2v5.2h-5.2zM250.3 801.8h5.2v5.2h-5.2z"/>
<circle class="mb" cx="444.9" cy="153.4" r="2.85"/>
<circle class="mb" cx="291.8" cy="245.3" r="2.85"/>
<circle class="mb" cx="530.3" cy="836.5" r="2.85"/>
<circle class="mb" cx="621.2" cy="838.3" r="2.85"/>
<circle class="mb" cx="164" cy="555.5" r="2.85"/>
<circle class="mb" cx="608.4" cy="870.1" r="2.85"/>
<circle class="mb" cx="178.5" cy="211.5" r="2.85"/>
<circle class="mb" cx="614.3" cy="844.7" r="2.85"/>
<path class="mg" d="M638.8 808h7.4l-3.7 -6.8zM199.6 858.5h7.4l-3.7 -6.8zM429.8 808.2h7.4l-3.7 -6.8zM244.1 505.8h7.4l-3.7 -6.8zM271.1 527.6h7.4l-3.7 -6.8z"/>
<path class="mp" d="M210.8 488.3h5.2v5.2h-5.2zM325.6 488.8h5.2v5.2h-5.2zM212.6 782.9h5.2v5.2h-5.2zM171.2 186.2h5.2v5.2h-5.2zM567.8 505.2h5.2v5.2h-5.2zM249.9 851h5.2v5.2h-5.2z"/>
<circle class="mb" cx="181.8" cy="229.1" r="2.85"/>
<circle class="mb" cx="574.4" cy="411.2" r="2.85"/>
<circle class="mb" cx="586.8" cy="862.8" r="2.85"/>
<circle class="mb" cx="138.3" cy="182.8" r="2.85"/>
<circle class="mb" cx="539.3" cy="514.5" r="2.85"/>
<circle class="mb" cx="151.5" cy="199.2" r="2.85"/>
<circle class="mb" cx="574" cy="584.6" r="2.85"/>
<path class="mg" d="M500.3 227.1h7.4l-3.7 -6.8zM391.7 527h7.4l-3.7 -6.8zM478.6 794.1h7.4l-3.7 -6.8zM601.3 807.3h7.4l-3.7 -6.8zM446.6 488.4h7.4l-3.7 -6.8zM465.7 167.4h7.4l-3.7 -6.8zM250.9 504.7h7.4l-3.7 -6.8zM555.1 194.4h7.4l-3.7 -6.8zM495 590.1h7.4l-3.7 -6.8zM259 499.8h7.4l-3.7 -6.8zM565.1 837.4h7.4l-3.7 -6.8z"/>
<path class="mp" d="M78.9 152.6h5.2v5.2h-5.2zM605.6 501.9h5.2v5.2h-5.2zM326.5 464.2h5.2v5.2h-5.2zM520.1 769.4h5.2v5.2h-5.2zM314.1 519.2h5.2v5.2h-5.2zM595 833.6h5.2v5.2h-5.2zM273.2 510.6h5.2v5.2h-5.2zM579.5 820.9h5.2v5.2h-5.2zM545.8 474.9h5.2v5.2h-5.2zM278.5 494.1h5.2v5.2h-5.2zM541.3 794.5h5.2v5.2h-5.2zM301.6 492.2h5.2v5.2h-5.2zM471.5 187.2h5.2v5.2h-5.2z"/>
<circle class="mb" cx="99" cy="519.3" r="2.85"/>
<path class="mg" d="M162.9 198.4h7.4l-3.7 -6.8zM117.7 158.5h7.4l-3.7 -6.8zM423.2 162.3h7.4l-3.7 -6.8zM502.3 192.9h7.4l-3.7 -6.8zM229.4 483.1h7.4l-3.7 -6.8zM156.9 838.2h7.4l-3.7 -6.8zM115.5 165.9h7.4l-3.7 -6.8zM208 234.5h7.4l-3.7 -6.8zM590.1 845.8h7.4l-3.7 -6.8zM142.4 183.2h7.4l-3.7 -6.8z"/>
<path class="mp" d="M545.7 568.2h5.2v5.2h-5.2zM513.9 168.1h5.2v5.2h-5.2zM518.7 198.4h5.2v5.2h-5.2zM583.2 509.8h5.2v5.2h-5.2zM490.3 169.9h5.2v5.2h-5.2zM194.1 537.3h5.2v5.2h-5.2z"/>
<circle class="mb" cx="245.5" cy="806.1" r="2.85"/>
<circle class="mb" cx="179.1" cy="867.6" r="2.85"/>
<circle class="mb" cx="625.8" cy="844.3" r="2.85"/>
<circle class="mb" cx="154.3" cy="527.9" r="2.85"/>
<circle class="mb" cx="265.4" cy="261.7" r="2.85"/>
<circle class="mb" cx="168.8" cy="199.3" r="2.85"/>
<circle class="mb" cx="544.5" cy="527" r="2.85"/>
<circle class="mb" cx="208.2" cy="853.3" r="2.85"/>
<circle class="mb" cx="565.8" cy="561.5" r="2.85"/>
<path class="mg" d="M241.6 787.4h7.4l-3.7 -6.8zM392.9 511.8h7.4l-3.7 -6.8zM156.8 885.7h7.4l-3.7 -6.8zM178.6 186.1h7.4l-3.7 -6.8zM471.4 204.3h7.4l-3.7 -6.8zM440 485.6h7.4l-3.7 -6.8zM297.4 816.6h7.4l-3.7 -6.8zM522.7 799.5h7.4l-3.7 -6.8zM186.1 197.8h7.4l-3.7 -6.8z"/>
<path class="mp" d="M544.8 814.8h5.2v5.2h-5.2zM580.8 203.6h5.2v5.2h-5.2zM459 175.2h5.2v5.2h-5.2zM245.4 481.9h5.2v5.2h-5.2zM502.6 450.1h5.2v5.2h-5.2zM285.1 484h5.2v5.2h-5.2zM493.7 807.5h5.2v5.2h-5.2zM228.2 851.3h5.2v5.2h-5.2zM519 202.1h5.2v5.2h-5.2z"/>
<circle class="mb" cx="561.8" cy="523.1" r="2.85"/>
<circle class="mb" cx="559.3" cy="481.1" r="2.85"/>
<circle class="mb" cx="552.8" cy="528.1" r="2.85"/>
<circle class="mb" cx="161" cy="529.5" r="2.85"/>
<circle class="mb" cx="604.2" cy="868.8" r="2.85"/>
<circle class="mb" cx="562" cy="834.7" r="2.85"/>
<circle class="mb" cx="619.6" cy="907.7" r="2.85"/>
<path class="mg" d="M611.9 481.4h7.4l-3.7 -6.8zM120.1 160.7h7.4l-3.7 -6.8zM199.2 861.2h7.4l-3.7 -6.8zM283.9 799.3h7.4l-3.7 -6.8zM66 169.7h7.4l-3.7 -6.8zM540 790.2h7.4l-3.7 -6.8zM557.7 800.6h7.4l-3.7 -6.8zM123 177h7.4l-3.7 -6.8z"/>
<path class="mp" d="M437.1 187.2h5.2v5.2h-5.2zM305.5 484.3h5.2v5.2h-5.2zM230.9 833.1h5.2v5.2h-5.2zM120.2 174.2h5.2v5.2h-5.2zM631.9 475.1h5.2v5.2h-5.2zM230.3 799.7h5.2v5.2h-5.2zM268.3 493.3h5.2v5.2h-5.2zM435.2 154.4h5.2v5.2h-5.2zM248.3 779.4h5.2v5.2h-5.2zM265.6 217.5h5.2v5.2h-5.2zM543 481.7h5.2v5.2h-5.2z"/>
<circle class="mb" cx="120.7" cy="848.6" r="2.85"/>
<circle class="mb" cx="108.8" cy="182.1" r="2.85"/>
<circle class="mb" cx="598.9" cy="841" r="2.85"/>
<circle class="mb" cx="587.2" cy="522" r="2.85"/>
<circle class="mb" cx="540.1" cy="526.6" r="2.85"/>
<path class="mg" d="M242.8 856.2h7.4l-3.7 -6.8zM81.3 151.2h7.4l-3.7 -6.8zM483.3 485.1h7.4l-3.7 -6.8zM505.9 496.8h7.4l-3.7 -6.8zM113.8 145.8h7.4l-3.7 -6.8zM445.9 500.1h7.4l-3.7 -6.8zM462.3 491.7h7.4l-3.7 -6.8zM116.7 160.1h7.4l-3.7 -6.8z"/>
<path class="mp" d="M314.3 510.8h5.2v5.2h-5.2zM620.5 833.4h5.2v5.2h-5.2zM549.6 173.6h5.2v5.2h-5.2zM221.2 841.5h5.2v5.2h-5.2zM643.6 486.1h5.2v5.2h-5.2zM643.5 497.3h5.2v5.2h-5.2zM262.1 819.9h5.2v5.2h-5.2z"/>
<circle class="mb" cx="621.2" cy="914.5" r="2.85"/>
<circle class="mb" cx="622.6" cy="798" r="2.85"/>
<circle class="mb" cx="234.3" cy="858" r="2.85"/>
<circle class="mb" cx="533.5" cy="511.2" r="2.85"/>
<circle class="mb" cx="579.8" cy="581.8" r="2.85"/>
<circle class="mb" cx="584.7" cy="851.6" r="2.85"/>
<circle class="mb" cx="582.7" cy="847.1" r="2.85"/>
<circle class="mb" cx="234.6" cy="857.6" r="2.85"/>
<path class="mg" d="M204.7 499.1h7.4l-3.7 -6.8zM180.7 502h7.4l-3.7 -6.8zM573.3 520.8h7.4l-3.7 -6.8zM88.1 178.3h7.4l-3.7 -6.8zM244.6 249.8h7.4l-3.7 -6.8zM114.8 195.8h7.4l-3.7 -6.8zM266.4 791.6h7.4l-3.7 -6.8zM294.4 812.8h7.4l-3.7 -6.8zM254.2 240.8h7.4l-3.7 -6.8z"/>
<path class="mp" d="M290.3 473.3h5.2v5.2h-5.2zM87.5 190.6h5.2v5.2h-5.2zM586.5 824.5h5.2v5.2h-5.2zM530.6 170.2h5.2v5.2h-5.2zM195.9 193h5.2v5.2h-5.2zM525.2 457.2h5.2v5.2h-5.2zM237.2 816.3h5.2v5.2h-5.2zM592.6 845.3h5.2v5.2h-5.2zM633.3 478.2h5.2v5.2h-5.2zM245.4 789.3h5.2v5.2h-5.2zM197.1 195.4h5.2v5.2h-5.2zM228.6 849.8h5.2v5.2h-5.2z"/>
<circle class="mb" cx="207.3" cy="224.1" r="2.85"/>
<circle class="mb" cx="547.6" cy="517.4" r="2.85"/>
<circle class="mb" cx="240.3" cy="791.8" r="2.85"/>
<circle class="mb" cx="569.1" cy="845.7" r="2.85"/>
<circle class="mb" cx="79.2" cy="845.6" r="2.85"/>
<path class="mg" d="M232.2 809.8h7.4l-3.7 -6.8zM501.1 832.7h7.4l-3.7 -6.8zM503.7 526.6h7.4l-3.7 -6.8zM214.8 833.9h7.4l-3.7 -6.8zM196.1 863.3h7.4l-3.7 -6.8zM191.5 492.8h7.4l-3.7 -6.8zM473.8 487.2h7.4l-3.7 -6.8z"/>
<path class="mp" d="M574.6 801.8h5.2v5.2h-5.2zM587.3 828.7h5.2v5.2h-5.2zM606.3 503.7h5.2v5.2h-5.2zM208.7 483.6h5.2v5.2h-5.2zM620.2 514.9h5.2v5.2h-5.2zM566.9 810.4h5.2v5.2h-5.2zM518 206.4h5.2v5.2h-5.2zM503 826.9h5.2v5.2h-5.2z"/>
<circle class="mb" cx="466" cy="199.3" r="2.85"/>
<circle class="mb" cx="96.5" cy="166.6" r="2.85"/>
<circle class="mb" cx="149.5" cy="163.1" r="2.85"/>
<circle class="mb" cx="174.1" cy="151.9" r="2.85"/>
<circle class="mb" cx="182.3" cy="808.6" r="2.85"/>
<circle class="mb" cx="485.4" cy="90.5" r="2.85"/>
<circle class="mb" cx="130.6" cy="835.8" r="2.85"/>
<path class="mg" d="M443.1 832.4h7.4l-3.7 -6.8zM503.9 202.4h7.4l-3.7 -6.8zM545.9 522.8h7.4l-3.7 -6.8zM622.4 817.2h7.4l-3.7 -6.8zM215.7 504.2h7.4l-3.7 -6.8zM112.9 188h7.4l-3.7 -6.8zM476.1 184.7h7.4l-3.7 -6.8zM562.5 837.6h7.4l-3.7 -6.8zM499.9 157.1h7.4l-3.7 -6.8z"/>
<path class="mp" d="M193.6 490.3h5.2v5.2h-5.2zM313.5 459.4h5.2v5.2h-5.2zM84.2 122.5h5.2v5.2h-5.2zM448.1 200.1h5.2v5.2h-5.2zM521.4 182h5.2v5.2h-5.2zM193.2 225.3h5.2v5.2h-5.2zM442.3 177.3h5.2v5.2h-5.2zM320 474.3h5.2v5.2h-5.2zM570.1 864.4h5.2v5.2h-5.2zM306.5 485.4h5.2v5.2h-5.2z"/>
<circle class="mb" cx="149.2" cy="478.9" r="2.85"/>
<circle class="mb" cx="126.1" cy="549.7" r="2.85"/>
<circle class="mb" cx="128.4" cy="581.9" r="2.85"/>
<circle class="mb" cx="105.5" cy="145.8" r="2.85"/>
<circle class="mb" cx="189.6" cy="196.9" r="2.85"/>
<circle class="mb" cx="516.2" cy="228.4" r="2.85"/>
<circle class="mb" cx="608" cy="864" r="2.85"/>
<path class="mg" d="M629.1 833.1h7.4l-3.7 -6.8zM442.7 833.3h7.4l-3.7 -6.8zM543.3 488.9h7.4l-3.7 -6.8zM566.6 828.8h7.4l-3.7 -6.8zM419 169.3h7.4l-3.7 -6.8zM122.9 177.6h7.4l-3.7 -6.8zM507.8 217.6h7.4l-3.7 -6.8z"/>
<path class="mp" d="M607.8 511.2h5.2v5.2h-5.2zM557.6 844h5.2v5.2h-5.2zM101.4 154h5.2v5.2h-5.2zM118.8 152.1h5.2v5.2h-5.2zM468.7 134.1h5.2v5.2h-5.2zM299.4 514.4h5.2v5.2h-5.2zM223.6 798.9h5.2v5.2h-5.2zM74.3 167.9h5.2v5.2h-5.2zM276.4 554.8h5.2v5.2h-5.2zM166.2 486.8h5.2v5.2h-5.2zM234.6 818.9h5.2v5.2h-5.2zM233 785.9h5.2v5.2h-5.2z"/>
<circle class="mb" cx="130.1" cy="861" r="2.85"/>
<circle class="mb" cx="541.8" cy="515.9" r="2.85"/>
<circle class="mb" cx="184.1" cy="194.7" r="2.85"/>
<circle class="mb" cx="189.3" cy="191" r="2.85"/>
<circle class="mb" cx="595.8" cy="801.1" r="2.85"/>
<path class="mg" d="M490.8 169.6h7.4l-3.7 -6.8zM622.1 472.1h7.4l-3.7 -6.8zM250.9 474.2h7.4l-3.7 -6.8zM152.1 801.6h7.4l-3.7 -6.8zM470.4 218.2h7.4l-3.7 -6.8zM511.6 845.7h7.4l-3.7 -6.8zM105.4 195.2h7.4l-3.7 -6.8z"/>
<path class="mp" d="M626.9 213.4h5.2v5.2h-5.2zM477.4 175.4h5.2v5.2h-5.2zM536.5 476.6h5.2v5.2h-5.2zM289.3 485.1h5.2v5.2h-5.2zM235.3 811.8h5.2v5.2h-5.2zM212.1 198.8h5.2v5.2h-5.2z"/>
<circle class="mb" cx="580.7" cy="786.8" r="2.85"/>
<circle class="mb" cx="478.2" cy="191.2" r="2.85"/>
<circle class="mb" cx="151.6" cy="834.6" r="2.85"/>
<circle class="mb" cx="572.3" cy="537.1" r="2.85"/>
<circle class="mb" cx="113.7" cy="841.6" r="2.85"/>
<circle class="mb" cx="135.6" cy="167.1" r="2.85"/>
<circle class="mb" cx="169.9" cy="547.8" r="2.85"/>
<path class="mg" d="M551.3 185h7.4l-3.7 -6.8zM318.5 823.8h7.4l-3.7 -6.8zM626.1 527.7h7.4l-3.7 -6.8zM238.9 482.7h7.4l-3.7 -6.8zM602.2 811.4h7.4l-3.7 -6.8zM581.6 825.3h7.4l-3.7 -6.8zM467.7 194.4h7.4l-3.7 -6.8zM498.5 514.9h7.4l-3.7 -6.8zM507.3 264.3h7.4l-3.7 -6.8zM506.7 798.4h7.4l-3.7 -6.8zM633.8 469.3h7.4l-3.7 -6.8z"/>
<path class="mp" d="M573.9 443.1h5.2v5.2h-5.2zM539.8 807h5.2v5.2h-5.2zM246.7 803.9h5.2v5.2h-5.2zM549.3 844.6h5.2v5.2h-5.2zM440 220.7h5.2v5.2h-5.2zM442.4 159.6h5.2v5.2h-5.2z"/>
<circle class="mb" cx="590.1" cy="867.9" r="2.85"/>
<circle class="mb" cx="573.4" cy="215.6" r="2.85"/>
<circle class="mb" cx="169.1" cy="874.6" r="2.85"/>
<circle class="mb" cx="541.7" cy="801.8" r="2.85"/>
<circle class="mb" cx="458.4" cy="203.6" r="2.85"/>
<circle class="mb" cx="557" cy="537.6" r="2.85"/>
<circle class="mb" cx="160.8" cy="197.2" r="2.85"/>
<path class="mg" d="M236 245.9h7.4l-3.7 -6.8zM112.1 197.2h7.4l-3.7 -6.8zM482.3 200.3h7.4l-3.7 -6.8zM448.9 821h7.4l-3.7 -6.8zM629.8 801.3h7.4l-3.7 -6.8zM482.4 187.9h7.4l-3.7 -6.8zM524.2 197.8h7.4l-3.7 -6.8zM507.1 495.1h7.4l-3.7 -6.8zM521.3 186.1h7.4l-3.7 -6.8zM123.3 182.5h7.4l-3.7 -6.8zM444.3 828.3h7.4l-3.7 -6.8z"/>
<path class="mp" d="M475.4 199.3h5.2v5.2h-5.2zM573.3 802.9h5.2v5.2h-5.2zM549.2 507.8h5.2v5.2h-5.2zM525.5 187.6h5.2v5.2h-5.2zM292.1 499.1h5.2v5.2h-5.2zM602.3 496.5h5.2v5.2h-5.2zM308.4 499.4h5.2v5.2h-5.2zM68.7 171.7h5.2v5.2h-5.2zM516.3 811.6h5.2v5.2h-5.2zM478 184.1h5.2v5.2h-5.2z"/>
<circle class="mb" cx="279.9" cy="246.5" r="2.85"/>
<circle class="mb" cx="554.7" cy="832.1" r="2.85"/>
<circle class="mb" cx="588.5" cy="501.1" r="2.85"/>
<path class="mg" d="M236.8 851.8h7.4l-3.7 -6.8zM498.7 520.1h7.4l-3.7 -6.8zM105.7 155.9h7.4l-3.7 -6.8zM427 802.2h7.4l-3.7 -6.8zM516.3 182.2h7.4l-3.7 -6.8zM473.7 185.7h7.4l-3.7 -6.8zM111.8 152.3h7.4l-3.7 -6.8zM554.8 177h7.4l-3.7 -6.8zM457.6 804.4h7.4l-3.7 -6.8zM103.3 154.4h7.4l-3.7 -6.8zM253.5 270h7.4l-3.7 -6.8z"/>
<path class="mp" d="M298.9 510.2h5.2v5.2h-5.2zM544.3 796.2h5.2v5.2h-5.2zM122.7 151.9h5.2v5.2h-5.2zM497.2 469.3h5.2v5.2h-5.2zM578.9 511.6h5.2v5.2h-5.2zM494.7 519.6h5.2v5.2h-5.2zM568.1 839.1h5.2v5.2h-5.2zM598 778.3h5.2v5.2h-5.2zM289.1 507.7h5.2v5.2h-5.2zM641.2 786h5.2v5.2h-5.2zM219.1 817.3h5.2v5.2h-5.2z"/>
<circle class="mb" cx="588.3" cy="845.5" r="2.85"/>
<circle class="mb" cx="95" cy="188" r="2.85"/>
<circle class="mb" cx="96.9" cy="566.7" r="2.85"/>
<circle class="mb" cx="195.5" cy="221.9" r="2.85"/>
<path class="mg" d="M503.2 825.4h7.4l-3.7 -6.8zM329.4 823.8h7.4l-3.7 -6.8zM485.4 168h7.4l-3.7 -6.8zM225.5 909.8h7.4l-3.7 -6.8zM236.2 511.4h7.4l-3.7 -6.8zM428.4 182.3h7.4l-3.7 -6.8zM165.4 876.4h7.4l-3.7 -6.8zM206.5 206.7h7.4l-3.7 -6.8zM466.4 165.2h7.4l-3.7 -6.8z"/>
<path class="mp" d="M450.5 238.6h5.2v5.2h-5.2zM130.1 146.3h5.2v5.2h-5.2zM426.5 170.4h5.2v5.2h-5.2zM529 830.4h5.2v5.2h-5.2zM118.9 155h5.2v5.2h-5.2zM455.8 197.3h5.2v5.2h-5.2zM584.2 541.8h5.2v5.2h-5.2zM90.1 594h5.2v5.2h-5.2zM206 200h5.2v5.2h-5.2zM211.1 830.3h5.2v5.2h-5.2zM272.2 484.2h5.2v5.2h-5.2zM287.3 513.2h5.2v5.2h-5.2zM205.6 222.6h5.2v5.2h-5.2z"/>
<circle class="mb" cx="197.9" cy="839.1" r="2.85"/>
<circle class="mb" cx="158.7" cy="171.1" r="2.85"/>
<circle class="mb" cx="571.8" cy="527.3" r="2.85"/>
<circle class="mb" cx="640.3" cy="814.2" r="2.85"/>
<circle class="mb" cx="560" cy="518.7" r="2.85"/>
<path class="mg" d="M486.9 159.9h7.4l-3.7 -6.8zM109.3 194.1h7.4l-3.7 -6.8zM550 206.6h7.4l-3.7 -6.8zM170.7 192.6h7.4l-3.7 -6.8zM539.2 544.8h7.4l-3.7 -6.8zM245.3 492h7.4l-3.7 -6.8z"/>
<path class="mp" d="M226.5 819.5h5.2v5.2h-5.2zM77.7 158.2h5.2v5.2h-5.2zM318.7 517.1h5.2v5.2h-5.2zM313.5 541.2h5.2v5.2h-5.2zM326.9 503.2h5.2v5.2h-5.2zM557.1 817.2h5.2v5.2h-5.2zM544.6 804.9h5.2v5.2h-5.2zM458.2 127.3h5.2v5.2h-5.2zM209.5 484h5.2v5.2h-5.2zM234.7 786.7h5.2v5.2h-5.2zM518.6 186.1h5.2v5.2h-5.2zM311.1 486.8h5.2v5.2h-5.2z"/>
<circle class="mb" cx="151.1" cy="545" r="2.85"/>
<circle class="mb" cx="583.9" cy="263.9" r="2.85"/>
<circle class="mb" cx="625.4" cy="902.3" r="2.85"/>
<circle class="mb" cx="99.7" cy="865.7" r="2.85"/>
<circle class="mb" cx="179.5" cy="192.2" r="2.85"/>
<path class="mg" d="M231.6 494.3h7.4l-3.7 -6.8zM249.4 481.6h7.4l-3.7 -6.8zM249.2 477.7h7.4l-3.7 -6.8zM552.9 841.7h7.4l-3.7 -6.8zM433.6 158.5h7.4l-3.7 -6.8zM427.7 494.3h7.4l-3.7 -6.8zM497.4 812.1h7.4l-3.7 -6.8z"/>
<path class="mp" d="M201.6 199h5.2v5.2h-5.2zM230.2 858.4h5.2v5.2h-5.2zM151.4 805h5.2v5.2h-5.2zM306.4 475.4h5.2v5.2h-5.2zM278.2 487.7h5.2v5.2h-5.2zM325.1 506h5.2v5.2h-5.2zM153.4 201h5.2v5.2h-5.2z"/>
<circle class="mb" cx="95.5" cy="855.6" r="2.85"/>
<circle class="mb" cx="199.2" cy="799.6" r="2.85"/>
<circle class="mb" cx="495.7" cy="230.7" r="2.85"/>
<circle class="mb" cx="78.7" cy="886.3" r="2.85"/>
<circle class="mb" cx="626.2" cy="869.5" r="2.85"/>
<circle class="mb" cx="608.7" cy="825.2" r="2.85"/>
<circle class="mb" cx="583.6" cy="806.2" r="2.85"/>
<circle class="mb" cx="133.6" cy="869.2" r="2.85"/>
<circle class="mb" cx="149.9" cy="529.8" r="2.85"/>
<path class="mg" d="M468.8 212.9h7.4l-3.7 -6.8zM234 474.1h7.4l-3.7 -6.8zM546 494h7.4l-3.7 -6.8zM132.9 195.4h7.4l-3.7 -6.8zM191.4 213h7.4l-3.7 -6.8zM117.7 190.5h7.4l-3.7 -6.8zM623 840.4h7.4l-3.7 -6.8zM183.6 209.6h7.4l-3.7 -6.8z"/>
<path class="mp" d="M273.7 522.7h5.2v5.2h-5.2zM633.9 866.4h5.2v5.2h-5.2zM542.7 805h5.2v5.2h-5.2zM528.6 846.8h5.2v5.2h-5.2zM322.4 487.4h5.2v5.2h-5.2zM66.2 182h5.2v5.2h-5.2z"/>
<circle class="mb" cx="603.6" cy="851.7" r="2.85"/>
<circle class="mb" cx="535.1" cy="482.5" r="2.85"/>
<circle class="mb" cx="563.4" cy="581.8" r="2.85"/>
<circle class="mb" cx="598.5" cy="832.1" r="2.85"/>
<circle class="mb" cx="208.2" cy="847" r="2.85"/>
<circle class="mb" cx="574.6" cy="507.4" r="2.85"/>
<circle class="mb" cx="579" cy="499" r="2.85"/>
<circle class="mb" cx="160" cy="541.5" r="2.85"/>
<path class="mg" d="M511.2 195.6h7.4l-3.7 -6.8zM480.3 186.8h7.4l-3.7 -6.8zM576.4 796.4h7.4l-3.7 -6.8zM499.6 842.5h7.4l-3.7 -6.8zM507.1 502.2h7.4l-3.7 -6.8zM487.8 554.6h7.4l-3.7 -6.8zM590 851.7h7.4l-3.7 -6.8zM453.2 163.8h7.4l-3.7 -6.8zM564.9 531.2h7.4l-3.7 -6.8zM535 466.9h7.4l-3.7 -6.8z"/>
<path class="mp" d="M527.5 506.2h5.2v5.2h-5.2zM285.9 482.2h5.2v5.2h-5.2zM70.2 167.4h5.2v5.2h-5.2zM614.1 798.8h5.2v5.2h-5.2zM537.4 817.5h5.2v5.2h-5.2zM587.3 836.5h5.2v5.2h-5.2zM475.7 479.3h5.2v5.2h-5.2zM262.3 849.1h5.2v5.2h-5.2z"/>
<circle class="mb" cx="549.6" cy="221.4" r="2.85"/>
<circle class="mb" cx="152.1" cy="209.6" r="2.85"/>
<circle class="mb" cx="551.9" cy="860.4" r="2.85"/>
<circle class="mb" cx="637.3" cy="849.5" r="2.85"/>
<circle class="mb" cx="94.7" cy="161" r="2.85"/>
<path class="mg" d="M178 833.1h7.4l-3.7 -6.8zM588.5 855.5h7.4l-3.7 -6.8zM603.9 502h7.4l-3.7 -6.8zM66.2 164.3h7.4l-3.7 -6.8zM187.1 805.3h7.4l-3.7 -6.8zM420.5 170.1h7.4l-3.7 -6.8zM126.5 168.6h7.4l-3.7 -6.8zM161.4 829.8h7.4l-3.7 -6.8zM568.3 485.7h7.4l-3.7 -6.8zM543.5 837.4h7.4l-3.7 -6.8zM544.9 486.2h7.4l-3.7 -6.8z"/>
<path class="mp" d="M233.7 800.3h5.2v5.2h-5.2zM594.5 858.1h5.2v5.2h-5.2zM333.9 505h5.2v5.2h-5.2zM156.4 208.5h5.2v5.2h-5.2zM165.9 178.9h5.2v5.2h-5.2zM584.1 822.3h5.2v5.2h-5.2zM511.2 235.1h5.2v5.2h-5.2zM210.9 208.6h5.2v5.2h-5.2zM196.1 184.2h5.2v5.2h-5.2zM151 209.6h5.2v5.2h-5.2zM589.8 459.3h5.2v5.2h-5.2zM321.5 476.3h5.2v5.2h-5.2zM550.3 574.5h5.2v5.2h-5.2z"/>
<circle class="mb" cx="558.5" cy="489.3" r="2.85"/>
<circle class="mb" cx="564.6" cy="584.1" r="2.85"/>
<path class="mg" d="M182 201.1h7.4l-3.7 -6.8zM550.5 207.1h7.4l-3.7 -6.8zM466.9 792.3h7.4l-3.7 -6.8zM150.2 819.3h7.4l-3.7 -6.8zM204.2 862.4h7.4l-3.7 -6.8zM333.5 477.2h7.4l-3.7 -6.8zM593.6 557.4h7.4l-3.7 -6.8zM510.8 505.1h7.4l-3.7 -6.8zM616.9 876.6h7.4l-3.7 -6.8z"/>
<path class="mp" d="M639.7 491.5h5.2v5.2h-5.2zM317.6 477.2h5.2v5.2h-5.2zM545.7 798.3h5.2v5.2h-5.2zM575.5 486.8h5.2v5.2h-5.2zM650.9 498.4h5.2v5.2h-5.2zM525.6 456.9h5.2v5.2h-5.2zM567.1 853.6h5.2v5.2h-5.2z"/>
<circle class="mb" cx="580.3" cy="791.4" r="2.85"/>
<circle class="mb" cx="113.7" cy="868" r="2.85"/>
<circle class="mb" cx="226.2" cy="538.2" r="2.85"/>
<circle class="mb" cx="639.9" cy="846.2" r="2.85"/>
<circle class="mb" cx="635" cy="845.4" r="2.85"/>
<circle class="mb" cx="147.6" cy="538.2" r="2.85"/>
<circle class="mb" cx="528.9" cy="207.3" r="2.85"/>
<circle class="mb" cx="567.5" cy="263" r="2.85"/>
<path class="mg" d="M559.5 818.9h7.4l-3.7 -6.8zM103.9 160.8h7.4l-3.7 -6.8zM531.8 172.2h7.4l-3.7 -6.8zM161.5 844.5h7.4l-3.7 -6.8zM515.8 812.6h7.4l-3.7 -6.8zM452.9 173.2h7.4l-3.7 -6.8zM429.8 161.8h7.4l-3.7 -6.8zM457.7 152.4h7.4l-3.7 -6.8zM564.5 889.4h7.4l-3.7 -6.8z"/>
<path class="mp" d="M524.4 847.2h5.2v5.2h-5.2zM178.4 185.4h5.2v5.2h-5.2zM253.1 808.3h5.2v5.2h-5.2zM255 841.3h5.2v5.2h-5.2zM241.8 252h5.2v5.2h-5.2zM522 510.8h5.2v5.2h-5.2zM314.2 526.3h5.2v5.2h-5.2zM642.3 494.1h5.2v5.2h-5.2z"/>
<circle class="mb" cx="582.6" cy="852.4" r="2.85"/>
<circle class="mb" cx="577.3" cy="512.4" r="2.85"/>
<circle class="mb" cx="89.2" cy="843.5" r="2.85"/>
<circle class="mb" cx="564" cy="517.2" r="2.85"/>
<circle class="mb" cx="128.2" cy="828.3" r="2.85"/>
<path class="mg" d="M484.9 517.4h7.4l-3.7 -6.8zM166.6 217.6h7.4l-3.7 -6.8zM475.1 787.6h7.4l-3.7 -6.8zM295.6 206.9h7.4l-3.7 -6.8zM146.7 179.3h7.4l-3.7 -6.8zM540.8 501.8h7.4l-3.7 -6.8zM147.2 196.8h7.4l-3.7 -6.8zM541.5 808.3h7.4l-3.7 -6.8zM591.2 888.4h7.4l-3.7 -6.8zM137.7 181.1h7.4l-3.7 -6.8zM459.9 818.4h7.4l-3.7 -6.8z"/>
<path class="mp" d="M331.8 486.5h5.2v5.2h-5.2zM609.3 477.1h5.2v5.2h-5.2zM225.5 836.7h5.2v5.2h-5.2zM276 478.2h5.2v5.2h-5.2zM244 464.5h5.2v5.2h-5.2zM256.3 792.9h5.2v5.2h-5.2zM239.4 832h5.2v5.2h-5.2z"/>
<circle class="mb" cx="244.8" cy="240.3" r="2.85"/>
<circle class="mb" cx="200.1" cy="218.7" r="2.85"/>
<circle class="mb" cx="553" cy="488.8" r="2.85"/>
<circle class="mb" cx="539.5" cy="211.7" r="2.85"/>
<circle class="mb" cx="155.7" cy="546.2" r="2.85"/>
<path class="mg" d="M636.8 822.4h7.4l-3.7 -6.8zM184 181.5h7.4l-3.7 -6.8zM628.1 148.8h7.4l-3.7 -6.8zM240.3 869.6h7.4l-3.7 -6.8zM565.6 841h7.4l-3.7 -6.8zM180.3 479.6h7.4l-3.7 -6.8zM482.6 802.8h7.4l-3.7 -6.8zM98 171.7h7.4l-3.7 -6.8zM182.9 534.9h7.4l-3.7 -6.8zM547.4 795.8h7.4l-3.7 -6.8zM269.9 520.3h7.4l-3.7 -6.8zM556.8 240.9h7.4l-3.7 -6.8z"/>
<path class="mp" d="M221.4 798.3h5.2v5.2h-5.2zM249.5 495.6h5.2v5.2h-5.2zM80.9 148.8h5.2v5.2h-5.2zM95.8 128.9h5.2v5.2h-5.2zM553.5 507.8h5.2v5.2h-5.2zM299 480.5h5.2v5.2h-5.2zM301.2 462h5.2v5.2h-5.2z"/>
<circle class="mb" cx="180.9" cy="199.6" r="2.85"/>
<circle class="mb" cx="101.6" cy="856.8" r="2.85"/>
<circle class="mb" cx="630.2" cy="850.9" r="2.85"/>
<circle class="mb" cx="197.8" cy="783.7" r="2.85"/>
<circle class="mb" cx="161.3" cy="525.9" r="2.85"/>
<circle class="mb" cx="134.1" cy="524.7" r="2.85"/>
<circle class="mb" cx="600.3" cy="206.2" r="2.85"/>
<path class="mg" d="M186.2 862.7h7.4l-3.7 -6.8zM573 538.8h7.4l-3.7 -6.8zM478.6 789.5h7.4l-3.7 -6.8zM307.7 522.5h7.4l-3.7 -6.8zM461.3 801.7h7.4l-3.7 -6.8zM547.7 533.3h7.4l-3.7 -6.8zM526.5 170.6h7.4l-3.7 -6.8zM475.5 188.2h7.4l-3.7 -6.8zM560.7 802.9h7.4l-3.7 -6.8zM441.7 177.9h7.4l-3.7 -6.8z"/>
<path class="mp" d="M313.5 552.9h5.2v5.2h-5.2zM220.9 789.9h5.2v5.2h-5.2zM311.8 478h5.2v5.2h-5.2zM324.2 471.7h5.2v5.2h-5.2zM590 542.9h5.2v5.2h-5.2zM592.1 850.9h5.2v5.2h-5.2z"/>
<circle class="mb" cx="556.4" cy="493" r="2.85"/>
<circle class="mb" cx="244.4" cy="812.4" r="2.85"/>
<circle class="mb" cx="587.4" cy="247.1" r="2.85"/>
<circle class="mb" cx="489.3" cy="210.1" r="2.85"/>
<circle class="mb" cx="554.3" cy="858.5" r="2.85"/>
<circle class="mb" cx="542.1" cy="168.7" r="2.85"/>
<path class="mg" d="M103.8 158.1h7.4l-3.7 -6.8zM167.6 482.9h7.4l-3.7 -6.8zM511.3 829.2h7.4l-3.7 -6.8zM296.3 514.8h7.4l-3.7 -6.8zM469.8 157.5h7.4l-3.7 -6.8zM278.7 808.7h7.4l-3.7 -6.8zM199.1 197.2h7.4l-3.7 -6.8zM186.2 218.2h7.4l-3.7 -6.8zM551.2 796.4h7.4l-3.7 -6.8zM484.4 525.3h7.4l-3.7 -6.8zM538.2 248.6h7.4l-3.7 -6.8zM436.5 823.1h7.4l-3.7 -6.8z"/>
<path class="mp" d="M455.2 798.6h5.2v5.2h-5.2zM519 196.6h5.2v5.2h-5.2zM644.7 466.3h5.2v5.2h-5.2zM582.8 508h5.2v5.2h-5.2zM205.6 484.7h5.2v5.2h-5.2zM588.9 555.3h5.2v5.2h-5.2zM565.8 185.9h5.2v5.2h-5.2z"/>
<circle class="mb" cx="528.9" cy="817.9" r="2.85"/>
<circle class="mb" cx="573.9" cy="267.6" r="2.85"/>
<circle class="mb" cx="635.7" cy="859.6" r="2.85"/>
<circle class="mb" cx="233.7" cy="828.3" r="2.85"/>
<circle class="mb" cx="581.7" cy="498.5" r="2.85"/>
<circle class="mb" cx="590.1" cy="522.9" r="2.85"/>
<circle class="mb" cx="105.6" cy="535.9" r="2.85"/>
<circle class="mb" cx="208.2" cy="794.4" r="2.85"/>
<path class="mg" d="M242.8 482.3h7.4l-3.7 -6.8zM468.8 155.8h7.4l-3.7 -6.8zM474.6 834.3h7.4l-3.7 -6.8zM167.7 847.2h7.4l-3.7 -6.8zM456.6 510.9h7.4l-3.7 -6.8zM490.2 185.4h7.4l-3.7 -6.8zM199.5 819.8h7.4l-3.7 -6.8zM257 492.9h7.4l-3.7 -6.8zM527.6 145.9h7.4l-3.7 -6.8z"/>
<path class="mp" d="M235.9 878.3h5.2v5.2h-5.2zM538.2 515.1h5.2v5.2h-5.2zM146.5 169.4h5.2v5.2h-5.2zM518.1 545.8h5.2v5.2h-5.2zM575.6 886.8h5.2v5.2h-5.2zM526.9 169.8h5.2v5.2h-5.2z"/>
<circle class="mb" cx="602.4" cy="862.8" r="2.85"/>
<circle class="mb" cx="579.7" cy="839.9" r="2.85"/>
<circle class="mb" cx="565" cy="539.1" r="2.85"/>
<circle class="mb" cx="557.1" cy="834" r="2.85"/>
<circle class="mb" cx="240.9" cy="210.4" r="2.85"/>
<circle class="mb" cx="544.7" cy="834.4" r="2.85"/>
<circle class="mb" cx="140.9" cy="207.6" r="2.85"/>
<circle class="mb" cx="516.9" cy="151.4" r="2.85"/>
<circle class="mb" cx="239.7" cy="800.3" r="2.85"/>
<circle class="mb" cx="227.3" cy="839.9" r="2.85"/>
<path class="mg" d="M128 183.2h7.4l-3.7 -6.8zM482 215h7.4l-3.7 -6.8zM232.7 831.7h7.4l-3.7 -6.8zM307.3 845.5h7.4l-3.7 -6.8zM472.4 485.7h7.4l-3.7 -6.8zM431.7 183.7h7.4l-3.7 -6.8zM135.3 503.8h7.4l-3.7 -6.8zM252.4 542.3h7.4l-3.7 -6.8z"/>
<path class="mp" d="M210.4 795.7h5.2v5.2h-5.2zM581.9 856.8h5.2v5.2h-5.2zM305 461.6h5.2v5.2h-5.2zM299.4 494.4h5.2v5.2h-5.2zM622.9 507.5h5.2v5.2h-5.2zM276.4 548.5h5.2v5.2h-5.2zM621.7 841.3h5.2v5.2h-5.2zM529.7 180.8h5.2v5.2h-5.2z"/>
<circle class="mb" cx="105.6" cy="524" r="2.85"/>
<circle class="mb" cx="136.2" cy="528.3" r="2.85"/>
<circle class="mb" cx="564.1" cy="837.5" r="2.85"/>
<circle class="mb" cx="149.7" cy="161.8" r="2.85"/>
<circle class="mb" cx="169.8" cy="179.7" r="2.85"/>
<circle class="mb" cx="555" cy="519.4" r="2.85"/>
<circle class="mb" cx="626.1" cy="850.1" r="2.85"/>
<path class="mg" d="M161.3 215.3h7.4l-3.7 -6.8zM98.8 172.1h7.4l-3.7 -6.8zM438.4 473.5h7.4l-3.7 -6.8zM407.8 495h7.4l-3.7 -6.8zM167.6 214.8h7.4l-3.7 -6.8zM246.1 482.8h7.4l-3.7 -6.8zM453.9 193.7h7.4l-3.7 -6.8zM180.1 491.4h7.4l-3.7 -6.8zM76 161.6h7.4l-3.7 -6.8z"/>
<path class="mp" d="M226 490.7h5.2v5.2h-5.2zM121.2 173.1h5.2v5.2h-5.2zM636.3 496.8h5.2v5.2h-5.2zM269.8 541.2h5.2v5.2h-5.2zM446.3 122.4h5.2v5.2h-5.2zM304.9 489.7h5.2v5.2h-5.2zM521.7 179.2h5.2v5.2h-5.2z"/>
<circle class="mb" cx="193.4" cy="223.2" r="2.85"/>
<circle class="mb" cx="553.1" cy="550.1" r="2.85"/>
<circle class="mb" cx="150.3" cy="206.6" r="2.85"/>
<circle class="mb" cx="564.8" cy="835.5" r="2.85"/>
<circle class="mb" cx="116.8" cy="90.5" r="2.85"/>
<circle class="mb" cx="186.7" cy="184.1" r="2.85"/>
<circle class="mb" cx="573.9" cy="215.6" r="2.85"/>
<circle class="mb" cx="261.8" cy="484.9" r="2.85"/>
<circle class="mb" cx="541.7" cy="527.5" r="2.85"/>
<circle class="mb" cx="169.5" cy="536.5" r="2.85"/>
<circle class="mb" cx="175.4" cy="187.3" r="2.85"/>
<path class="mg" d="M493.3 488h7.4l-3.7 -6.8zM582.5 518.6h7.4l-3.7 -6.8zM161.3 208.7h7.4l-3.7 -6.8zM129.3 183.1h7.4l-3.7 -6.8zM85.3 167.9h7.4l-3.7 -6.8zM179.6 487.7h7.4l-3.7 -6.8z"/>
<path class="mp" d="M198 488.7h5.2v5.2h-5.2zM515.6 500.8h5.2v5.2h-5.2zM239.9 778.3h5.2v5.2h-5.2zM536 838.6h5.2v5.2h-5.2zM545.9 855.7h5.2v5.2h-5.2zM283.9 506.1h5.2v5.2h-5.2zM530.5 521.9h5.2v5.2h-5.2zM551.2 504.8h5.2v5.2h-5.2z"/>
<circle class="mb" cx="607.8" cy="858.3" r="2.85"/>
<circle class="mb" cx="610.1" cy="877.6" r="2.85"/>
<circle class="mb" cx="112.6" cy="820.6" r="2.85"/>
<circle class="mb" cx="543.2" cy="513.2" r="2.85"/>
<circle class="mb" cx="619.7" cy="854" r="2.85"/>
<circle class="mb" cx="169.8" cy="514.6" r="2.85"/>
<circle class="mb" cx="590.5" cy="498.7" r="2.85"/>
<path class="mg" d="M220.4 494.9h7.4l-3.7 -6.8zM249.1 489.8h7.4l-3.7 -6.8zM326.6 809.1h7.4l-3.7 -6.8zM129.9 197.9h7.4l-3.7 -6.8zM233.6 785.9h7.4l-3.7 -6.8zM175.4 881h7.4l-3.7 -6.8zM226.7 788.7h7.4l-3.7 -6.8zM182.2 206.5h7.4l-3.7 -6.8zM188.1 503.7h7.4l-3.7 -6.8z"/>
<path class="mp" d="M67.4 148.8h5.2v5.2h-5.2zM424.9 171.1h5.2v5.2h-5.2zM473.8 246.8h5.2v5.2h-5.2zM646.2 485.2h5.2v5.2h-5.2zM130 185.1h5.2v5.2h-5.2zM528.7 192.7h5.2v5.2h-5.2zM81.2 169.9h5.2v5.2h-5.2zM428.6 154.5h5.2v5.2h-5.2zM594.7 836.8h5.2v5.2h-5.2zM273.1 502h5.2v5.2h-5.2z"/>
<circle class="mb" cx="576.2" cy="879.8" r="2.85"/>
<circle class="mb" cx="305.1" cy="248.8" r="2.85"/>
<circle class="mb" cx="106.3" cy="849.8" r="2.85"/>
<circle class="mb" cx="180.5" cy="486.8" r="2.85"/>
<path class="mg" d="M494.2 504.7h7.4l-3.7 -6.8zM552 839.4h7.4l-3.7 -6.8zM189.7 191.5h7.4l-3.7 -6.8zM488.9 186.9h7.4l-3.7 -6.8zM440 479.3h7.4l-3.7 -6.8zM515.1 193.2h7.4l-3.7 -6.8zM490 163h7.4l-3.7 -6.8zM168.9 195.5h7.4l-3.7 -6.8zM251.9 770.5h7.4l-3.7 -6.8zM245.9 489.4h7.4l-3.7 -6.8z"/>
<path class="mp" d="M213.3 832.4h5.2v5.2h-5.2zM442.2 191.6h5.2v5.2h-5.2zM529.3 481.9h5.2v5.2h-5.2zM288.3 493.4h5.2v5.2h-5.2zM602.7 778.7h5.2v5.2h-5.2zM159.5 177.2h5.2v5.2h-5.2zM532.3 183.3h5.2v5.2h-5.2zM572 521.1h5.2v5.2h-5.2zM301.7 515.1h5.2v5.2h-5.2zM440 220.5h5.2v5.2h-5.2zM564.7 806.1h5.2v5.2h-5.2zM548.1 849.8h5.2v5.2h-5.2zM187.3 511.2h5.2v5.2h-5.2zM262 824.6h5.2v5.2h-5.2z"/>
<circle class="mb" cx="635.2" cy="876" r="2.85"/>
<circle class="mb" cx="595.5" cy="861.5" r="2.85"/>
<circle class="mb" cx="189.1" cy="205.1" r="2.85"/>
<path class="mg" d="M542.7 798h7.4l-3.7 -6.8zM266.8 503.4h7.4l-3.7 -6.8zM100.3 164h7.4l-3.7 -6.8zM253.1 502.9h7.4l-3.7 -6.8zM477 190.9h7.4l-3.7 -6.8zM502.4 164h7.4l-3.7 -6.8zM150.8 834.6h7.4l-3.7 -6.8z"/>
<path class="mp" d="M431 160.5h5.2v5.2h-5.2zM113.1 149.4h5.2v5.2h-5.2zM334.4 484.4h5.2v5.2h-5.2zM276.4 538.9h5.2v5.2h-5.2zM213.2 479.7h5.2v5.2h-5.2zM230.7 794h5.2v5.2h-5.2zM301.7 522.2h5.2v5.2h-5.2zM545.4 856.5h5.2v5.2h-5.2zM209.1 792.3h5.2v5.2h-5.2zM218.8 792.6h5.2v5.2h-5.2zM96 168.5h5.2v5.2h-5.2z"/>
<circle class="mb" cx="572.6" cy="503.3" r="2.85"/>
<circle class="mb" cx="116.4" cy="195.2" r="2.85"/>
<circle class="mb" cx="112.6" cy="873.4" r="2.85"/>
<circle class="mb" cx="566.4" cy="816" r="2.85"/>
<circle class="mb" cx="539.4" cy="538.6" r="2.85"/>
<circle class="mb" cx="149.9" cy="490.5" r="2.85"/>
<circle class="mb" cx="235" cy="879.5" r="2.85"/>
<path class="mg" d="M486.8 493.8h7.4l-3.7 -6.8zM174 218.6h7.4l-3.7 -6.8zM418.3 184.3h7.4l-3.7 -6.8zM219.4 474.3h7.4l-3.7 -6.8zM439.2 180.9h7.4l-3.7 -6.8zM531.5 498.5h7.4l-3.7 -6.8z"/>
<path class="mp" d="M72.3 165.4h5.2v5.2h-5.2zM236.6 898.2h5.2v5.2h-5.2zM324.5 495.6h5.2v5.2h-5.2zM509.1 189.6h5.2v5.2h-5.2zM94.9 147.9h5.2v5.2h-5.2zM316.6 473.4h5.2v5.2h-5.2zM470.3 503.2h5.2v5.2h-5.2zM641.4 492h5.2v5.2h-5.2zM311.9 572.8h5.2v5.2h-5.2zM227.3 857.3h5.2v5.2h-5.2zM241.3 533.7h5.2v5.2h-5.2zM636.1 773.6h5.2v5.2h-5.2zM576.6 501.3h5.2v5.2h-5.2z"/>
<circle class="mb" cx="160" cy="821.8" r="2.85"/>
<circle class="mb" cx="599" cy="492.9" r="2.85"/>
<circle class="mb" cx="128.2" cy="541.9" r="2.85"/>
<circle class="mb" cx="595.8" cy="862.9" r="2.85"/>
<path class="mg" d="M448.6 822.8h7.4l-3.7 -6.8zM121.9 173.8h7.4l-3.7 -6.8zM305.6 797.6h7.4l-3.7 -6.8zM286.6 797.1h7.4l-3.7 -6.8zM594.4 488.4h7.4l-3.7 -6.8zM211.3 849h7.4l-3.7 -6.8zM111.6 200.4h7.4l-3.7 -6.8z"/>
<path class="mp" d="M329.1 470.7h5.2v5.2h-5.2zM209.5 208.8h5.2v5.2h-5.2zM245.2 803.9h5.2v5.2h-5.2zM491.4 146.5h5.2v5.2h-5.2zM117.5 173.5h5.2v5.2h-5.2zM305.1 471.1h5.2v5.2h-5.2zM225.3 795.3h5.2v5.2h-5.2zM516.4 473.5h5.2v5.2h-5.2zM562.3 507.8h5.2v5.2h-5.2zM112.2 173h5.2v5.2h-5.2z"/>
<circle class="mb" cx="113.7" cy="868.7" r="2.85"/>
<circle class="mb" cx="528.5" cy="819.2" r="2.85"/>
<circle class="mb" cx="197.4" cy="197.5" r="2.85"/>
<circle class="mb" cx="589" cy="515.8" r="2.85"/>
<circle class="mb" cx="572.7" cy="871" r="2.85"/>
<circle class="mb" cx="483.5" cy="217.8" r="2.85"/>
<path class="mg" d="M100.4 189.4h7.4l-3.7 -6.8zM403.4 503.8h7.4l-3.7 -6.8zM288.1 472.3h7.4l-3.7 -6.8zM519.7 823.6h7.4l-3.7 -6.8zM569.5 540.6h7.4l-3.7 -6.8zM483.1 202.5h7.4l-3.7 -6.8zM273.4 535.3h7.4l-3.7 -6.8zM466.9 503.9h7.4l-3.7 -6.8z"/>
<path class="mp" d="M280.9 807.2h5.2v5.2h-5.2zM260.8 492.6h5.2v5.2h-5.2zM278.1 469.4h5.2v5.2h-5.2zM560.4 830.4h5.2v5.2h-5.2zM318.8 523.2h5.2v5.2h-5.2zM337.2 495.1h5.2v5.2h-5.2zM232 778.3h5.2v5.2h-5.2zM466.8 499.7h5.2v5.2h-5.2zM580.9 482.8h5.2v5.2h-5.2zM82.9 146.6h5.2v5.2h-5.2z"/>
<circle class="mb" cx="533.2" cy="179.4" r="2.85"/>
<circle class="mb" cx="484.5" cy="212.8" r="2.85"/>
<circle class="mb" cx="82.9" cy="543.1" r="2.85"/>
<circle class="mb" cx="185.5" cy="813.2" r="2.85"/>
<circle class="mb" cx="560.5" cy="514.1" r="2.85"/>
<circle class="mb" cx="245.7" cy="846.2" r="2.85"/>
<path class="mg" d="M512.7 164.2h7.4l-3.7 -6.8zM177.4 808.8h7.4l-3.7 -6.8zM276.9 833.2h7.4l-3.7 -6.8zM492.6 194.9h7.4l-3.7 -6.8zM491.9 803.3h7.4l-3.7 -6.8zM517.2 508.6h7.4l-3.7 -6.8zM469.2 164.6h7.4l-3.7 -6.8zM80.7 173.7h7.4l-3.7 -6.8z"/>
<path class="mp" d="M533.3 512h5.2v5.2h-5.2zM123.8 174.2h5.2v5.2h-5.2zM565 499.5h5.2v5.2h-5.2zM551.1 487.4h5.2v5.2h-5.2zM616.7 491.6h5.2v5.2h-5.2zM183 186.5h5.2v5.2h-5.2zM450.5 214.1h5.2v5.2h-5.2zM326.6 807h5.2v5.2h-5.2zM564.1 485.3h5.2v5.2h-5.2zM541.5 489.8h5.2v5.2h-5.2zM530.9 478.7h5.2v5.2h-5.2zM141.7 190h5.2v5.2h-5.2zM307.6 466.6h5.2v5.2h-5.2zM536.5 515.4h5.2v5.2h-5.2z"/>
<circle class="mb" cx="631" cy="851" r="2.85"/>
<circle class="mb" cx="142.9" cy="454.6" r="2.85"/>
<circle class="mb" cx="171.4" cy="213.3" r="2.85"/>
<circle class="mb" cx="600.7" cy="852.1" r="2.85"/>
<circle class="mb" cx="96.6" cy="173.5" r="2.85"/>
<path class="mg" d="M177.4 487.8h7.4l-3.7 -6.8zM517.1 222.3h7.4l-3.7 -6.8zM505.4 191.9h7.4l-3.7 -6.8zM157.4 200.6h7.4l-3.7 -6.8zM517.6 205.2h7.4l-3.7 -6.8z"/>
<path class="mp" d="M117.2 170.4h5.2v5.2h-5.2zM654.5 477.9h5.2v5.2h-5.2zM575.8 517.2h5.2v5.2h-5.2zM546 852.5h5.2v5.2h-5.2zM278.6 476.9h5.2v5.2h-5.2zM542 487.8h5.2v5.2h-5.2zM133.3 169.6h5.2v5.2h-5.2zM88 144.3h5.2v5.2h-5.2zM330.8 471.1h5.2v5.2h-5.2zM96.2 157.9h5.2v5.2h-5.2zM116.1 181.2h5.2v5.2h-5.2z"/>
<circle class="mb" cx="202.3" cy="477.8" r="2.85"/>
<circle class="mb" cx="579.8" cy="500.2" r="2.85"/>
<circle class="mb" cx="560.2" cy="502.4" r="2.85"/>
<circle class="mb" cx="454" cy="166.5" r="2.85"/>
<path class="mg" d="M72.2 175.2h7.4l-3.7 -6.8zM518.1 841.1h7.4l-3.7 -6.8zM483 167.9h7.4l-3.7 -6.8zM591.1 823.3h7.4l-3.7 -6.8zM140.8 163.9h7.4l-3.7 -6.8zM548.9 513.8h7.4l-3.7 -6.8zM576.7 880.7h7.4l-3.7 -6.8zM67.8 174.3h7.4l-3.7 -6.8zM277.1 525.6h7.4l-3.7 -6.8z"/>
<path class="mp" d="M528.7 801.4h5.2v5.2h-5.2zM648.5 499h5.2v5.2h-5.2zM95.7 168.2h5.2v5.2h-5.2zM643.5 827.3h5.2v5.2h-5.2zM111.7 175.9h5.2v5.2h-5.2z"/>
<circle class="mb" cx="547.4" cy="496.8" r="2.85"/>
<circle class="mb" cx="559.5" cy="797" r="2.85"/>
<circle class="mb" cx="134.3" cy="558.5" r="2.85"/>
<path class="mg" d="M519.5 192.7h7.4l-3.7 -6.8zM611.6 494.3h7.4l-3.7 -6.8zM105.8 190.3h7.4l-3.7 -6.8zM208.7 507.5h7.4l-3.7 -6.8zM469.7 509.8h7.4l-3.7 -6.8zM87.8 165.9h7.4l-3.7 -6.8zM188.5 498.9h7.4l-3.7 -6.8zM204 206.5h7.4l-3.7 -6.8z"/>
<line x1="63.62" y1="151.33" x2="339.57" y2="276.23" stroke="#E794B4" stroke-width="2.2"/>
<line x1="95.78" y1="167.83" x2="336.86" y2="254.85" stroke="#5FA0CE" stroke-width="2.2"/>
<line x1="73.78" y1="154.45" x2="296.57" y2="260.40" stroke="#90B98D" stroke-width="2.2"/>
<line x1="414.33" y1="167.53" x2="658.56" y2="216.10" stroke="#E794B4" stroke-width="2.2"/>
<line x1="456.56" y1="172.71" x2="617.48" y2="244.93" stroke="#5FA0CE" stroke-width="2.2"/>
<line x1="409.77" y1="173.21" x2="661.23" y2="205.27" stroke="#90B98D" stroke-width="2.2"/>
<line x1="92.68" y1="509.26" x2="337.70" y2="498.03" stroke="#E794B4" stroke-width="2.2"/>
<line x1="82.17" y1="551.90" x2="255.96" y2="482.37" stroke="#5FA0CE" stroke-width="2.2"/>
<line x1="398.02" y1="495.19" x2="638.43" y2="516.31" stroke="#90B98D" stroke-width="2.2"/>
<line x1="104.25" y1="882.05" x2="327.72" y2="777.75" stroke="#E794B4" stroke-width="2.2"/>
<line x1="68.16" y1="864.44" x2="246.49" y2="813.55" stroke="#5FA0CE" stroke-width="2.2"/>
<line x1="147.17" y1="836.77" x2="332.24" y2="806.39" stroke="#90B98D" stroke-width="2.2"/>
<line x1="558.47" y1="819.41" x2="639.92" y2="862.52" stroke="#5FA0CE" stroke-width="2.2"/>
<line x1="417.97" y1="813.28" x2="660.42" y2="836.24" stroke="#90B98D" stroke-width="2.2"/>
<line x1="113.73" y1="173.89" x2="113.73" y2="76.89" stroke="#333" stroke-width="1.8"/>
<line x1="445.53" y1="173.89" x2="445.53" y2="76.89" stroke="#333" stroke-width="1.8"/>
<text x="115.9" y="123.6" class="th"><tspan font-size="12.5">(</tspan><tspan dx="0.8">Threshold = 17.8</tspan><tspan dx="0.6" font-size="12.5">)</tspan></text>
<text x="401.6" y="105.8" class="th"><tspan font-size="12.5">(</tspan><tspan dx="0.8">Threshold = 1.8</tspan><tspan dx="0.6" font-size="12.5">)</tspan></text>
</svg></body></html>
